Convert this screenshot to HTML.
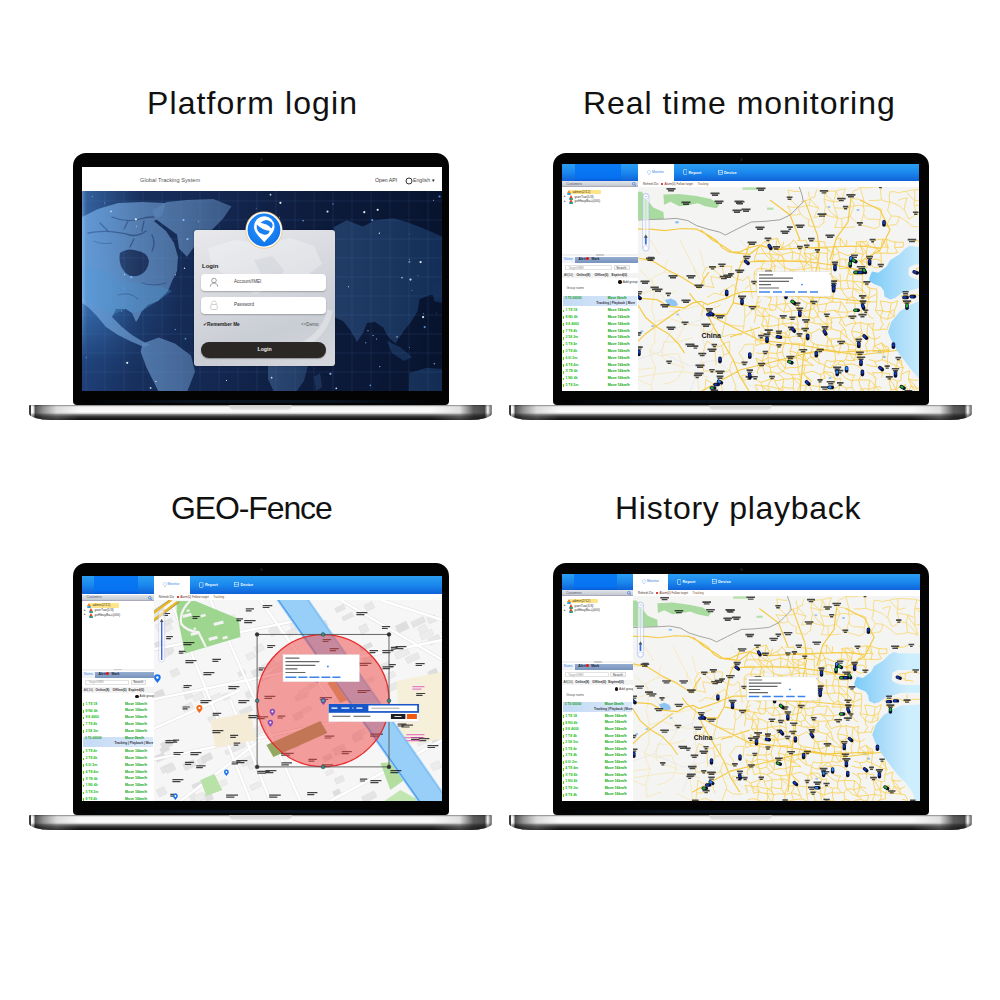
<!DOCTYPE html><html><head><meta charset="utf-8"><style>
*{margin:0;padding:0;box-sizing:border-box}
html,body{width:1000px;height:1000px;background:#fff;overflow:hidden;font-family:"Liberation Sans",sans-serif}
.a{position:absolute}
.title{position:absolute;font-size:32px;color:#111;white-space:nowrap;line-height:1}
.bezel{position:absolute;width:376px;height:252px;background:#030303;border-radius:13px 13px 4px 4px}
.cam{position:absolute;width:3px;height:3px;border-radius:50%;background:#1a1a1a;left:187px;top:5px}
.hinge{position:absolute;left:10px;right:10px;bottom:2px;height:3px;background:linear-gradient(90deg,#000,#0b1522 30%,#0b1522 70%,#000)}
.screen{position:absolute;overflow:hidden;background:#fff}
.base{position:absolute;width:463px;height:14.5px;border-radius:2px 2px 22px 22px/1px 1px 7px 7px;
 background:linear-gradient(180deg,#5a5a5a 0,#cfcfcf 6%,#f3f3f3 14%,#fbfbfb 45%,#e2e2e2 55%,#8a8a8a 62%,#3a3a3a 76%,#161616 92%,#0c0c0c 100%)}
.base:before{content:"";position:absolute;inset:0;border-radius:inherit;
 background:linear-gradient(90deg,rgba(40,40,40,.9) 0,rgba(40,40,40,.9) .4%,rgba(255,255,255,.5) .5%,rgba(255,255,255,.3) .9%,rgba(30,30,30,.75) 1.4%,rgba(70,70,70,.55) 3.2%,rgba(160,160,160,.3) 6%,rgba(255,255,255,0) 11%,rgba(255,255,255,0) 87%,rgba(170,170,170,.3) 93%,rgba(40,40,40,.75) 96%,rgba(30,30,30,.8) 98.4%,rgba(255,255,255,.4) 99.1%,rgba(90,90,90,.7) 99.6%,rgba(90,90,90,.7) 100%)}
.notch{position:absolute;left:200px;top:0;width:63px;height:5px;border-radius:0 0 9px 9px;background:linear-gradient(180deg,#c9c9c9,#e9e9e9)}
.t{position:absolute;white-space:nowrap;line-height:1}
</style></head><body><div class="title" style="left:147px;top:86.5px;letter-spacing:1.1px">Platform login</div><div class="title" style="left:583px;top:87px;letter-spacing:.96px">Real time monitoring</div><div class="title" style="left:171px;top:492px;letter-spacing:-1.12px">GEO-Fence</div><div class="title" style="left:615px;top:491.5px;letter-spacing:.71px">History playback</div><div class="bezel" style="left:73px;top:153px"><div class="cam"></div><div class="hinge"></div></div><div class="screen" style="left:82px;top:167px;width:360px;height:224.3px"><div class="a" style="left:0;top:0;width:360px;height:24px;background:#fff"></div><div class="t" style="left:58px;top:10.5px;font-size:5.6px;color:#555;letter-spacing:.05px">Global Tracking System</div><div class="t" style="left:293px;top:10.5px;font-size:5.2px;color:#333;">Open API</div><svg class="a" style="left:323px;top:10px" width="8" height="8" viewBox="0 0 8 8"><circle cx="4" cy="4" r="3" fill="none" stroke="#333" stroke-width="1"/></svg><div class="t" style="left:331px;top:10.5px;font-size:5.2px;color:#444;">English</div><div class="t" style="left:349.5px;top:10.5px;font-size:5px;color:#111;">&#9662;</div><div class="a" style="left:0;top:24px;width:360px;height:200px;background:radial-gradient(ellipse 80px 90px at 20px 100px,rgba(60,140,220,.3),rgba(60,140,220,0) 100%),linear-gradient(90deg,#1f4078 0,#18305e 14%,#13264e 40%,#0d1b3c 65%,#08142e 100%)"></div><svg class="a" style="left:0;top:24px" width="360" height="200" viewBox="0 0 360 200"><defs><linearGradient id="lg1" gradientUnits="userSpaceOnUse" x1="0" y1="0" x2="360" y2="0"><stop offset="0" stop-color="#6d9fd6"/><stop offset=".3" stop-color="#4f74a4"/><stop offset=".62" stop-color="#26436e"/><stop offset="1" stop-color="#142f58"/></linearGradient></defs><path fill="url(#lg1)" fill-opacity="0.85" d="M0 26 L16 18 L36 12 L60 11 L84 12 L80 24 L72 30 L84 40 L92 52 L96 66 L95 80 L90 90 L86 100 L76 110 L66 114 L60 120 L56 128 L54 131 L50 122 L44 118 L34 118 L30 126 L40 136 L50 144 L60 150 L68 154 L62 156 L48 150 L36 144 L24 136 L14 124 L6 116 L0 112Z"/><path fill="#4a92cc" fill-opacity="0.35" d="M0 76 L20 78 L40 90 L60 92 L80 96 L90 100 L76 110 L60 120 L50 122 L44 118 L30 124 L20 118 L0 108Z"/><path fill="#1a2c55" fill-opacity=".9" d="M38 62 Q46 56 56 60 Q66 62 67 70 Q66 80 58 84 Q48 88 42 80 Q36 72 38 62Z"/><path fill="none" stroke="#22386a" stroke-opacity=".6" stroke-linecap="round" d="M6 42 Q26 38 48 44 Q56 46 64 40 M30 26 Q44 32 58 28 Q70 24 84 28 M18 32 L26 40 M46 30 L42 38 M62 30 L60 40 M52 48 L48 56 M70 44 Q74 52 70 60" stroke-width="1.3"/><path fill="none" stroke="#22386a" stroke-opacity=".45" stroke-linecap="round" d="M12 50 Q20 54 30 52 M60 92 Q70 96 84 92 M36 104 Q48 100 56 108" stroke-width="1"/><path fill="url(#lg1)" fill-opacity="0.85" d="M70.7 19.2 L84.8 11.1 L105 9.1 L131.3 8.1 L149.5 15.2 L141.4 27.3 L129.3 39.4 L115.2 51.5 L105 65.7 L97 57.6 L95 43.4 L80.8 33.3 L72.7 27.3Z"/><path fill="url(#lg1)" fill-opacity="0.8" d="M60.6 152.5 L76.8 146.5 L92.9 152.5 L109 164.6 L113 180.8 L105 201 L76.8 201 L64.6 176.8 L58.6 160.6Z"/><path fill="url(#lg1)" fill-opacity="0.95" d="M252 36 L264.8 29.3 L281 35.4 L293.1 29.3 L311.3 27.3 L325.5 31.3 L341.6 37.4 L360 45.5 L360 104 L347.7 104 L337.6 108 L335.6 120 L329.5 130.3 L321.4 140.4 L313.3 152.5 L305.3 144.5 L301.2 136.4 L293 131 L285 132 L281 142 L275 151 L269 140 L261 130 L252 126Z"/><path fill="url(#lg1)" fill-opacity="0.9" d="M350 96 L358 92 L360 92 L360 112 L352 110Z"/><path fill="url(#lg1)" fill-opacity="0.8" d="M305 150 L318 156 L330 166 L322 170 L310 162Z"/><path fill="url(#lg1)" fill-opacity="0.9" d="M327.5 182 L345 176.8 L360 178 L360 201 L327 201Z"/><path fill="url(#lg1)" fill-opacity="0.8" d="M186 172 L226.5 172 L222 190 L214 201 L192 201 L186 188Z"/><path fill="url(#lg1)" fill-opacity="0.6" d="M232 186 L238 182 L240 196 L234 200Z"/><line x1="4" y1="0" x2="4" y2="200" stroke="#6aa0e0" stroke-opacity=".2" stroke-width=".6"/><line x1="23" y1="0" x2="23" y2="200" stroke="#6aa0e0" stroke-opacity=".2" stroke-width=".6"/><line x1="42" y1="0" x2="42" y2="200" stroke="#6aa0e0" stroke-opacity=".2" stroke-width=".6"/><line x1="61" y1="0" x2="61" y2="200" stroke="#6aa0e0" stroke-opacity=".2" stroke-width=".6"/><line x1="80" y1="0" x2="80" y2="200" stroke="#6aa0e0" stroke-opacity=".2" stroke-width=".6"/><line x1="99" y1="0" x2="99" y2="200" stroke="#6aa0e0" stroke-opacity=".2" stroke-width=".6"/><line x1="118" y1="0" x2="118" y2="200" stroke="#6aa0e0" stroke-opacity=".2" stroke-width=".6"/><line x1="137" y1="0" x2="137" y2="200" stroke="#6aa0e0" stroke-opacity=".2" stroke-width=".6"/><line x1="156" y1="0" x2="156" y2="200" stroke="#6aa0e0" stroke-opacity=".2" stroke-width=".6"/><line x1="175" y1="0" x2="175" y2="200" stroke="#6aa0e0" stroke-opacity=".2" stroke-width=".6"/><line x1="194" y1="0" x2="194" y2="200" stroke="#6aa0e0" stroke-opacity=".2" stroke-width=".6"/><line x1="213" y1="0" x2="213" y2="200" stroke="#6aa0e0" stroke-opacity=".2" stroke-width=".6"/><line x1="232" y1="0" x2="232" y2="200" stroke="#6aa0e0" stroke-opacity=".2" stroke-width=".6"/><line x1="251" y1="0" x2="251" y2="200" stroke="#6aa0e0" stroke-opacity=".2" stroke-width=".6"/><line x1="270" y1="0" x2="270" y2="200" stroke="#6aa0e0" stroke-opacity=".2" stroke-width=".6"/><line x1="289" y1="0" x2="289" y2="200" stroke="#6aa0e0" stroke-opacity=".2" stroke-width=".6"/><line x1="308" y1="0" x2="308" y2="200" stroke="#6aa0e0" stroke-opacity=".2" stroke-width=".6"/><line x1="327" y1="0" x2="327" y2="200" stroke="#6aa0e0" stroke-opacity=".2" stroke-width=".6"/><line x1="346" y1="0" x2="346" y2="200" stroke="#6aa0e0" stroke-opacity=".2" stroke-width=".6"/><line x1="0" y1="10" x2="360" y2="10" stroke="#6aa0e0" stroke-opacity=".2" stroke-width=".6"/><line x1="0" y1="29" x2="360" y2="29" stroke="#6aa0e0" stroke-opacity=".2" stroke-width=".6"/><line x1="0" y1="48" x2="360" y2="48" stroke="#6aa0e0" stroke-opacity=".2" stroke-width=".6"/><line x1="0" y1="67" x2="360" y2="67" stroke="#6aa0e0" stroke-opacity=".2" stroke-width=".6"/><line x1="0" y1="86" x2="360" y2="86" stroke="#6aa0e0" stroke-opacity=".2" stroke-width=".6"/><line x1="0" y1="105" x2="360" y2="105" stroke="#6aa0e0" stroke-opacity=".2" stroke-width=".6"/><line x1="0" y1="124" x2="360" y2="124" stroke="#6aa0e0" stroke-opacity=".2" stroke-width=".6"/><line x1="0" y1="143" x2="360" y2="143" stroke="#6aa0e0" stroke-opacity=".2" stroke-width=".6"/><line x1="0" y1="162" x2="360" y2="162" stroke="#6aa0e0" stroke-opacity=".2" stroke-width=".6"/><line x1="0" y1="181" x2="360" y2="181" stroke="#6aa0e0" stroke-opacity=".2" stroke-width=".6"/><circle cx="116.6" cy="30.2" r="0.45" fill="#ffffff" fill-opacity=".9"/><circle cx="295.7" cy="18.8" r="1.1" fill="#ffffff" fill-opacity=".9"/><circle cx="327.5" cy="42.9" r="0.45" fill="#5a9ae8" fill-opacity=".9"/><circle cx="198.4" cy="11.8" r="1.1" fill="#ffffff" fill-opacity=".9"/><circle cx="341.1" cy="126.1" r="1.1" fill="#ffffff" fill-opacity=".9"/><circle cx="351.5" cy="9.3" r="0.55" fill="#8fc2ff" fill-opacity=".9"/><circle cx="245.5" cy="20.6" r="1.1" fill="#d6ebff" fill-opacity=".9"/><circle cx="22.6" cy="11.9" r="0.55" fill="#5a9ae8" fill-opacity=".9"/><circle cx="286.0" cy="139.8" r="0.55" fill="#ffffff" fill-opacity=".9"/><circle cx="315.0" cy="145.9" r="0.7" fill="#ffffff" fill-opacity=".9"/><circle cx="42.5" cy="83.6" r="0.7" fill="#d6ebff" fill-opacity=".9"/><circle cx="336.0" cy="84.3" r="0.45" fill="#8fc2ff" fill-opacity=".9"/><circle cx="24.8" cy="18.7" r="0.7" fill="#5a9ae8" fill-opacity=".9"/><circle cx="250.9" cy="13.0" r="0.7" fill="#5a9ae8" fill-opacity=".9"/><circle cx="102.5" cy="77.2" r="0.7" fill="#ffffff" fill-opacity=".9"/><circle cx="338.6" cy="71.1" r="1.1" fill="#ffffff" fill-opacity=".9"/><circle cx="103.5" cy="147.7" r="0.9" fill="#5a9ae8" fill-opacity=".9"/><circle cx="330.1" cy="99.3" r="0.55" fill="#5a9ae8" fill-opacity=".9"/><circle cx="49.3" cy="86.1" r="1.1" fill="#8fc2ff" fill-opacity=".9"/><circle cx="254.3" cy="197.3" r="0.9" fill="#d6ebff" fill-opacity=".9"/><circle cx="54.3" cy="35.2" r="0.55" fill="#d6ebff" fill-opacity=".9"/><circle cx="4.3" cy="166.2" r="0.55" fill="#8fc2ff" fill-opacity=".9"/><circle cx="101.5" cy="29.1" r="1.1" fill="#8fc2ff" fill-opacity=".9"/><circle cx="45.2" cy="171.8" r="1.1" fill="#ffffff" fill-opacity=".9"/><circle cx="342.7" cy="136.1" r="1.1" fill="#5a9ae8" fill-opacity=".9"/><circle cx="68.6" cy="196.9" r="0.9" fill="#d6ebff" fill-opacity=".9"/><circle cx="39.6" cy="120.1" r="0.45" fill="#ffffff" fill-opacity=".9"/><circle cx="341.6" cy="122.7" r="0.45" fill="#d6ebff" fill-opacity=".9"/><circle cx="221.1" cy="29.7" r="0.7" fill="#8fc2ff" fill-opacity=".9"/><circle cx="41.5" cy="97.6" r="0.9" fill="#5a9ae8" fill-opacity=".9"/><circle cx="174.2" cy="17.2" r="0.45" fill="#8fc2ff" fill-opacity=".9"/><circle cx="266.5" cy="95.7" r="0.55" fill="#ffffff" fill-opacity=".9"/><circle cx="73.9" cy="190.4" r="0.7" fill="#d6ebff" fill-opacity=".9"/><circle cx="248.4" cy="182.8" r="1.1" fill="#8fc2ff" fill-opacity=".9"/><circle cx="352.3" cy="172.7" r="0.7" fill="#8fc2ff" fill-opacity=".9"/><circle cx="327.0" cy="71.1" r="0.55" fill="#8fc2ff" fill-opacity=".9"/><circle cx="283.8" cy="151.7" r="0.55" fill="#d6ebff" fill-opacity=".9"/><circle cx="294.6" cy="148.0" r="0.55" fill="#d6ebff" fill-opacity=".9"/><circle cx="10.4" cy="5.6" r="0.7" fill="#5a9ae8" fill-opacity=".9"/><circle cx="93.3" cy="138.5" r="0.7" fill="#5a9ae8" fill-opacity=".9"/><circle cx="291.1" cy="144.6" r="0.7" fill="#8fc2ff" fill-opacity=".9"/><circle cx="29.0" cy="20.4" r="0.9" fill="#d6ebff" fill-opacity=".9"/><circle cx="354.7" cy="122.1" r="0.45" fill="#5a9ae8" fill-opacity=".9"/><circle cx="327.3" cy="68.8" r="0.45" fill="#ffffff" fill-opacity=".9"/><circle cx="327.5" cy="156.5" r="0.55" fill="#5a9ae8" fill-opacity=".9"/><circle cx="320.0" cy="86.8" r="0.7" fill="#ffffff" fill-opacity=".9"/><circle cx="288.3" cy="194.3" r="0.9" fill="#5a9ae8" fill-opacity=".9"/><circle cx="144.5" cy="189.4" r="0.55" fill="#d6ebff" fill-opacity=".9"/><circle cx="357.5" cy="5.5" r="1.1" fill="#5a9ae8" fill-opacity=".9"/><circle cx="290.3" cy="29.2" r="1.1" fill="#5a9ae8" fill-opacity=".9"/><circle cx="197.5" cy="26.2" r="0.45" fill="#ffffff" fill-opacity=".9"/><circle cx="189.6" cy="186.7" r="0.9" fill="#d6ebff" fill-opacity=".9"/><circle cx="297.4" cy="42.2" r="0.7" fill="#d6ebff" fill-opacity=".9"/><circle cx="105.5" cy="48.1" r="1.1" fill="#8fc2ff" fill-opacity=".9"/><circle cx="93.4" cy="83.8" r="0.55" fill="#ffffff" fill-opacity=".9"/><circle cx="327.6" cy="70.8" r="0.9" fill="#5a9ae8" fill-opacity=".9"/><circle cx="297.8" cy="175.6" r="0.55" fill="#d6ebff" fill-opacity=".9"/><circle cx="188.5" cy="3.7" r="0.9" fill="#d6ebff" fill-opacity=".9"/><circle cx="53.9" cy="28.3" r="1.1" fill="#ffffff" fill-opacity=".9"/><circle cx="282.3" cy="21.2" r="1.1" fill="#ffffff" fill-opacity=".9"/><circle cx="89.5" cy="55.4" r="0.45" fill="#5a9ae8" fill-opacity=".9"/><circle cx="328.5" cy="88.6" r="1.1" fill="#d6ebff" fill-opacity=".9"/></svg><div class="a" style="left:0;top:24px;width:60px;height:170px;background:linear-gradient(90deg,rgba(150,205,255,.55) 0,rgba(100,170,240,.3) 7%,rgba(60,120,200,0) 100%);-webkit-mask-image:linear-gradient(180deg,#000 0,#000 65%,transparent 100%)"></div><div class="a" style="left:111.7px;top:63px;width:141px;height:136.4px;border-radius:3px;background:linear-gradient(160deg,#e9e9ec 0,#d9dbe0 35%,#c9cdd4 70%,#d6d8dc 100%);box-shadow:0 0 2px rgba(0,0,0,.3)"></div><svg class="a" style="left:111.7px;top:63px" width="141" height="136.4" viewBox="0 0 141 136.4"><path fill="#fff" fill-opacity=".28" d="M14 18 L40 10 L70 14 L96 8 L120 16 L128 34 L110 48 L96 60 L80 56 L62 64 L46 58 L30 44 L18 36Z"/><path fill="#8a96a8" fill-opacity=".12" d="M60 30 L78 26 L90 40 L84 52 L70 50Z"/><path fill="none" stroke="#fff" stroke-opacity=".3" stroke-width="6" d="M96 120 Q130 110 136 80"/></svg><svg class="a" style="left:162px;top:42.5px" width="40" height="40" viewBox="0 0 40 40"><defs><radialGradient id="lgb" cx=".45" cy=".4" r=".6"><stop offset="0" stop-color="#2a96ff"/><stop offset="1" stop-color="#0f74ea"/></radialGradient></defs><circle cx="20" cy="20" r="18.6" fill="#e8c98e"/><circle cx="20" cy="20" r="17.8" fill="#fff"/><circle cx="20" cy="20" r="16.4" fill="url(#lgb)"/><path d="M20.25 32.2 C15.5 27 10 22.5 10 16.6 A10.25 10.25 0 0 1 30.5 16.6 C30.5 22.5 25 27 20.25 32.2Z" fill="#fff"/><path d="M16.6 12.8 Q22.5 7.4 27.9 12.8 Q29.6 15.8 27.4 18.4 Q24 14.2 16.6 12.8Z" fill="#1a80f0"/><path d="M12.8 14.6 Q11.6 23.2 19.5 24.6 Q25.2 25.2 25.6 20.8 Q18.6 20.6 12.8 14.6Z" fill="#1a80f0"/></svg><div class="t" style="left:120px;top:95.5px;font-size:6px;color:#1a1a1a;"><b>Login</b></div><div class="a" style="left:119px;top:107.4px;width:125.2px;height:16.5px;border-radius:4px;background:#fff;box-shadow:0 1px 1.5px rgba(0,0,0,.25)"></div><svg class="a" style="left:127px;top:110.4px" width="10" height="10" viewBox="0 0 10 10"><circle cx="5" cy="3.5" r="2.3" fill="none" stroke="#777" stroke-width=".7"/><path d="M1.2 9.6 C1.8 6.8 3.2 6 5 6 C6.8 6 8.2 6.8 8.8 9.6" fill="none" stroke="#777" stroke-width=".7"/></svg><div class="t" style="left:152px;top:113.4px;font-size:4.6px;color:#444;">Account/IMEI</div><div class="a" style="left:119px;top:130.2px;width:125.2px;height:16.5px;border-radius:4px;background:#fff;box-shadow:0 1px 1.5px rgba(0,0,0,.25)"></div><svg class="a" style="left:127px;top:133.2px" width="10" height="10" viewBox="0 0 10 10"><path d="M2.8 4.5 V3.2 C2.8 1.8 3.8 1 5 1 C6.2 1 7.2 1.8 7.2 3.2 V4.5" fill="none" stroke="#bbb" stroke-width=".7"/><rect x="1.8" y="4.5" width="6.4" height="5" rx="1" fill="none" stroke="#bbb" stroke-width=".7"/></svg><div class="t" style="left:152px;top:136.2px;font-size:4.6px;color:#444;">Password</div><div class="t" style="left:120.5px;top:156px;font-size:4.8px;color:#333;">&#10004;</div><div class="t" style="left:125px;top:156.2px;font-size:4.8px;color:#222;"><b>Remember Me</b></div><div class="t" style="left:219px;top:156.2px;font-size:4.6px;color:#555;">&lt;&lt;Demo</div><div class="a" style="left:119.4px;top:174.9px;width:124.3px;height:16.1px;border-radius:8px;background:#2b2724;box-shadow:0 1px 1px rgba(0,0,0,.3)"></div><div class="t" style="left:175.5px;top:180px;font-size:5.2px;color:#f2f2f2;"><b>Login</b></div></div><div class="base" style="left:29px;top:405px"><div class="notch"></div></div><div class="bezel" style="left:553px;top:153px"><div class="cam"></div><div class="hinge"></div></div><div class="screen" style="left:562.4px;top:164.2px;width:356.5px;height:227.3px"><div class="a" style="left:0;top:0;width:356.5px;height:16.6px;background:linear-gradient(180deg,#2c9ef2 0,#1a88ee 50%,#0f62d8 100%)"></div><div class="a" style="left:12.8px;top:0;width:46.1px;height:16.6px;background:linear-gradient(180deg,#0a7af4,#0672f0 80%,#0a5ad8)"></div><div class="a" style="left:75.5px;top:0;width:36px;height:16.6px;background:#fff"></div><svg class="a" style="left:85.0px;top:5.7px" width="4" height="5.5" viewBox="0 0 4 5.5"><path d="M2 .4 C1 .4 .5 1.2 .5 2 C.5 3.2 2 5.1 2 5.1 C2 5.1 3.5 3.2 3.5 2 C3.5 1.2 3 .4 2 .4Z" fill="none" stroke="#8ab8ee" stroke-width=".5"/></svg><div class="t" style="left:89.5px;top:6.700000000000001px;font-size:3.6px;color:#3a8ae6;">Monitor</div><svg class="a" style="left:120.5px;top:5.3px" width="4.5" height="6" viewBox="0 0 4.5 6"><rect x=".5" y=".5" width="3.5" height="5" rx=".7" fill="none" stroke="#e6f0ff" stroke-width=".6"/></svg><div class="t" style="left:126.0px;top:6.500000000000001px;font-size:4.0px;color:#f4f9ff;"><b>Report</b></div><svg class="a" style="left:155.5px;top:5.7px" width="5" height="5" viewBox="0 0 5 5"><rect x=".4" y=".4" width="4.2" height="4.2" fill="none" stroke="#e6f0ff" stroke-width=".6"/><line x1=".4" y1="2.5" x2="4.6" y2="2.5" stroke="#e6f0ff" stroke-width=".45"/></svg><div class="t" style="left:161.5px;top:6.500000000000001px;font-size:4.0px;color:#f4f9ff;"><b>Device</b></div><div class="a" style="left:0;top:16.6px;width:75.5px;height:211px;background:#fff"></div><div class="a" style="left:0;top:17px;width:75.5px;height:5.8px;background:linear-gradient(180deg,#e2e5ea,#c4c9d1);border-bottom:.5px solid #aab"></div><div class="t" style="left:4px;top:18.5px;font-size:3.2px;color:#556;">Customers</div><svg class="a" style="left:69.5px;top:18px" width="4.5" height="4.5" viewBox="0 0 5 5"><circle cx="2" cy="2" r="1.5" fill="none" stroke="#3a7be0" stroke-width=".8"/><line x1="3" y1="3" x2="4.6" y2="4.6" stroke="#3a7be0" stroke-width=".8"/></svg><div class="a" style="left:8px;top:25.5px;width:30.2px;height:4.6px;background:#ffe58a;border-radius:1px"></div><svg class="a" style="left:5px;top:25.5px" width="4" height="5" viewBox="0 0 4 5"><path d="M2 0 L4 3 L0 3Z" fill="#f08a1a"/><rect x=".3" y="3" width="3.4" height="2" fill="#35a0e8"/></svg><div class="t" style="left:10px;top:26.5px;font-size:3.4px;color:#4a3a10;">admin(2/12)</div><div class="t" style="left:2px;top:30.8px;font-size:3.4px;color:#333;">&#9656;</div><svg class="a" style="left:7px;top:30.5px" width="4" height="5" viewBox="0 0 4 5"><path d="M2 0 L3.6 3 L.4 3Z" fill="#e8401a"/><rect x=".3" y="3" width="3.4" height="2" fill="#2a7ee8"/><rect x="2" y="3" width="1.7" height="2" fill="#35b82a"/></svg><div class="t" style="left:12px;top:31.5px;font-size:3.4px;color:#333;">yuerTuo(1/3)</div><div class="t" style="left:2px;top:35.4px;font-size:3.4px;color:#333;">&#9656;</div><svg class="a" style="left:7px;top:35.1px" width="4" height="5" viewBox="0 0 4 5"><path d="M2 0 L3.6 3 L.4 3Z" fill="#e8401a"/><rect x=".3" y="3" width="3.4" height="2" fill="#2a7ee8"/><rect x="2" y="3" width="1.7" height="2" fill="#35b82a"/></svg><div class="t" style="left:12px;top:36.1px;font-size:3.4px;color:#333;">yuHbuyBa&#33457;(0/0)</div><div class="a" style="left:0;top:89.8px;width:75.5px;height:2.5px;background:#f2f2f2"></div><div class="a" style="left:33.8px;top:90.3px;width:8px;height:1.2px;background:#ccc"></div><div class="a" style="left:0;top:92.8px;width:75.5px;height:6px;background:#eef2f8"></div><div class="t" style="left:1.5px;top:94.2px;font-size:3.4px;color:#3a8ee8;">Name</div><div class="a" style="left:13px;top:92.8px;width:62.5px;height:6px;background:linear-gradient(180deg,#96aed0,#7793bd)"></div><div class="t" style="left:16px;top:94.1px;font-size:3.4px;color:#1a1f30;"><b>Alert</b></div><div class="a" style="left:24px;top:93.1px;width:3px;height:3px;border-radius:50%;background:#e81010"></div><div class="t" style="left:29px;top:94.1px;font-size:3.4px;color:#1a1f30;"><b>Mark</b></div><div class="a" style="left:3px;top:101.3px;width:46.8px;height:5px;border:.4px solid #e2e2e2;background:#fff"></div><div class="t" style="left:6px;top:102.39999999999999px;font-size:3px;color:#999;">Target/IMEI</div><div class="a" style="left:51.3px;top:101.3px;width:16.6px;height:5px;border:.4px solid #ddd;background:#fafafa"></div><div class="t" style="left:53.849999999999994px;top:102.39999999999999px;font-size:3.2px;color:#333;">Search</div><div class="a" style="left:0;top:108.5px;width:75.5px;height:5.5px;background:#f3f3f3"></div><div class="t" style="left:1.5px;top:109.7px;font-size:3.2px;color:#333;">All(10)</div><div class="t" style="left:14.0px;top:109.7px;font-size:3.2px;color:#333;"><b>Online(8)</b></div><div class="t" style="left:32.0px;top:109.7px;font-size:3.2px;color:#333;"><b>Offline(0)</b></div><div class="t" style="left:49.0px;top:109.7px;font-size:3.2px;color:#333;"><b>Expired(0)</b></div><div class="a" style="left:55.9px;top:116.0px;width:3.5px;height:3.5px;border-radius:50%;background:#111"></div><div class="t" style="left:60.37px;top:116.4px;font-size:3.2px;color:#333;">Add group</div><div class="t" style="left:4px;top:122.5px;font-size:3.2px;color:#555;">Group name</div><div class="a" style="left:1px;top:131.8px;width:73.5px;height:10.5px;background:linear-gradient(90deg,#c3daf5,#dbe9f9)"></div><div class="t" style="left:2.5px;top:133.10000000000002px;font-size:3.3px;color:#2aa52a;"><b>3 T0 00000</b></div><div class="t" style="left:45.3px;top:132.9px;font-size:3.3px;color:#0a9a0a;"><b>Move 0km/h</b></div><div class="t" style="left:33.975px;top:137.9px;font-size:3.1px;color:#334;"><b>Tracking | Playback | More</b></div><div class="a" style="left:.6px;top:145.5px;width:1.3px;height:2.8px;background:#55dd00"></div><div class="t" style="left:3px;top:145.10000000000002px;font-size:3.5px;color:#18c018;"><b>1 T8 18</b></div><div class="t" style="left:45.3px;top:145.0px;font-size:3.5px;color:#04a604;"><b>Move 16km/h</b></div><div class="a" style="left:.6px;top:152.3px;width:1.3px;height:2.8px;background:#55dd00"></div><div class="t" style="left:3px;top:151.90000000000003px;font-size:3.5px;color:#18c018;"><b>8 N0 4k</b></div><div class="t" style="left:45.3px;top:151.8px;font-size:3.5px;color:#04a604;"><b>Move 16km/h</b></div><div class="a" style="left:.6px;top:159.1px;width:1.3px;height:2.8px;background:#55dd00"></div><div class="t" style="left:3px;top:158.70000000000005px;font-size:3.5px;color:#18c018;"><b>9 8 4600</b></div><div class="t" style="left:45.3px;top:158.60000000000002px;font-size:3.5px;color:#04a604;"><b>Move 16km/h</b></div><div class="a" style="left:.6px;top:165.9px;width:1.3px;height:2.8px;background:#55dd00"></div><div class="t" style="left:3px;top:165.50000000000006px;font-size:3.5px;color:#18c018;"><b>7 T8 4k</b></div><div class="t" style="left:45.3px;top:165.40000000000003px;font-size:3.5px;color:#04a604;"><b>Move 16km/h</b></div><div class="a" style="left:.6px;top:172.7px;width:1.3px;height:2.8px;background:#55dd00"></div><div class="t" style="left:3px;top:172.30000000000007px;font-size:3.5px;color:#18c018;"><b>2 58 2m</b></div><div class="t" style="left:45.3px;top:172.20000000000005px;font-size:3.5px;color:#04a604;"><b>Move 16km/h</b></div><div class="a" style="left:.6px;top:179.5px;width:1.3px;height:2.8px;background:#55dd00"></div><div class="t" style="left:3px;top:179.10000000000008px;font-size:3.5px;color:#18c018;"><b>5 T8 4e</b></div><div class="t" style="left:45.3px;top:179.00000000000006px;font-size:3.5px;color:#04a604;"><b>Move 16km/h</b></div><div class="a" style="left:.6px;top:186.3px;width:1.3px;height:2.8px;background:#55dd00"></div><div class="t" style="left:3px;top:185.9000000000001px;font-size:3.5px;color:#18c018;"><b>3 T8 4k</b></div><div class="t" style="left:45.3px;top:185.80000000000007px;font-size:3.5px;color:#04a604;"><b>Move 16km/h</b></div><div class="a" style="left:.6px;top:193.1px;width:1.3px;height:2.8px;background:#55dd00"></div><div class="t" style="left:3px;top:192.7000000000001px;font-size:3.5px;color:#18c018;"><b>6 0l 2m</b></div><div class="t" style="left:45.3px;top:192.60000000000008px;font-size:3.5px;color:#04a604;"><b>Move 16km/h</b></div><div class="a" style="left:.6px;top:199.9px;width:1.3px;height:2.8px;background:#55dd00"></div><div class="t" style="left:3px;top:199.5000000000001px;font-size:3.5px;color:#18c018;"><b>4 T8 4m</b></div><div class="t" style="left:45.3px;top:199.4000000000001px;font-size:3.5px;color:#04a604;"><b>Move 16km/h</b></div><div class="a" style="left:.6px;top:206.7px;width:1.3px;height:2.8px;background:#55dd00"></div><div class="t" style="left:3px;top:206.30000000000013px;font-size:3.5px;color:#18c018;"><b>X T8 4k</b></div><div class="t" style="left:45.3px;top:206.2000000000001px;font-size:3.5px;color:#04a604;"><b>Move 16km/h</b></div><div class="a" style="left:.6px;top:213.5px;width:1.3px;height:2.8px;background:#55dd00"></div><div class="t" style="left:3px;top:213.10000000000014px;font-size:3.5px;color:#18c018;"><b>1 N0 4k</b></div><div class="t" style="left:45.3px;top:213.0000000000001px;font-size:3.5px;color:#04a604;"><b>Move 16km/h</b></div><div class="a" style="left:.6px;top:220.3px;width:1.3px;height:2.8px;background:#55dd00"></div><div class="t" style="left:3px;top:219.90000000000015px;font-size:3.5px;color:#18c018;"><b>5 T8 2m</b></div><div class="t" style="left:45.3px;top:219.80000000000013px;font-size:3.5px;color:#04a604;"><b>Move 16km/h</b></div><div class="a" style="left:75.5px;top:16.6px;width:.6px;height:211px;background:#d8d8d8"></div><div class="a" style="left:75.6px;top:16.6px;width:281px;height:6.3px;background:#fff"></div><div class="t" style="left:80.6px;top:18.6px;font-size:2.9px;color:#3a2a1a;">Refresh</div><div class="t" style="left:91.1px;top:18.6px;font-size:2.9px;color:#3a2a1a;">15s</div><div class="t" style="left:102.1px;top:18.6px;font-size:2.9px;color:#6a2a1a;">Alarm(0)</div><div class="t" style="left:114.1px;top:18.6px;font-size:2.9px;color:#5a3a1a;">Follow target</div><div class="t" style="left:135.1px;top:18.6px;font-size:2.9px;color:#7a4a10;">Tracking</div><div class="a" style="left:98.89999999999999px;top:19.1px;width:1.6px;height:1.6px;border-radius:50%;background:#e01818"></div><svg class="a" style="left:75.6px;top:22.8px" width="281" height="204.5" viewBox="638 187 281 204.5"><rect x="600" y="150" width="400" height="300" fill="#f4f4f2"/><path fill="#a9dba0" d="M637.4 191.8 L641.8 191.8 L647.5 200.4 L653.3 207.6 L663.4 211.9 L664 219.1 L637.4 219.1Z"/><path fill="#a9dba0" d="M663.4 194.6 L679.2 193.9 L696.5 196.1 L710.9 199 L719.5 204.7 L716.6 208.3 L705.1 206.2 L697.9 203.3 L686.4 205.4 L679.2 206.2 L670.6 201.8 L664.1 204.7Z"/><path fill="#b5e0aa" d="M742.6 187.4 L757 187.4 L757 189.8 L742.6 189.8Z"/><rect x="767" y="207.6" width="6.5" height="2.2" fill="#b5e0aa"/><path d="M636 360 L660 352 L690 366 L715 360 L735 375 L760 392 M660 352 L672 330 L700 320 L720 300 M740 240 L760 262 L790 270 L820 262 M700 320 L705 350 L690 392" fill="none" stroke="#d6d6d6" stroke-width=".6" stroke-dasharray="1.5 1"/><path fill="#8ec3f2" d="M665 300 L671 298.5 L676 301 L678 305 L673 307 L668 305.5Z"/><ellipse cx="677.8" cy="314.6" rx="1.6" ry="1" fill="#8ec3f2"/><ellipse cx="641.8" cy="331.2" rx="1.6" ry="1" fill="#8ec3f2"/><ellipse cx="652.6" cy="326.2" rx="1.4400000000000002" ry="0.9" fill="#8ec3f2"/><ellipse cx="677" cy="222.3" rx="1.92" ry="1.2" fill="#8ec3f2"/><ellipse cx="829" cy="207" rx="1.4400000000000002" ry="0.9" fill="#8ec3f2"/><ellipse cx="858" cy="210" rx="1.6" ry="1" fill="#8ec3f2"/><ellipse cx="880" cy="352" rx="2.4000000000000004" ry="1.5" fill="#8ec3f2"/><ellipse cx="884" cy="357" rx="1.92" ry="1.2" fill="#8ec3f2"/><ellipse cx="830" cy="378" rx="1.6" ry="1" fill="#8ec3f2"/><path fill="none" stroke="#f9d35a" stroke-width="0.9" d="M758.1 246.8Q758.3 246.5 760.6 245.6M758.1 246.8Q757.2 251.2 756.0 254.4M756.0 254.4Q760.1 252.8 765.0 253.9M756.0 254.4Q753.9 257.7 754.5 261.1M754.5 261.1Q759.4 260.0 765.4 260.5M756.6 269.4Q759.0 268.3 760.9 268.6M756.6 269.4Q754.4 271.6 754.0 274.0M754.0 274.0Q758.8 274.2 764.4 273.9M754.0 274.0Q754.8 279.2 754.0 283.5M754.0 283.5Q757.2 281.7 761.0 281.2M754.0 283.5Q756.6 284.8 756.9 286.8M754.0 283.5Q758.2 285.8 765.3 290.3M756.9 286.8Q760.5 288.1 765.3 290.3M756.9 286.8Q756.6 291.6 758.4 298.3M758.4 298.3Q758.9 295.0 761.1 294.8M758.4 298.3Q757.2 300.1 756.8 303.6M756.8 303.6Q759.0 302.6 761.0 300.8M756.8 303.6Q756.5 307.0 754.3 307.6M754.3 307.6Q760.5 307.5 764.5 308.4M754.3 307.6Q755.8 311.8 756.1 314.8M754.3 307.6Q759.8 311.2 763.3 316.7M756.1 314.8Q759.7 316.0 763.3 316.7M756.1 314.8Q754.7 319.5 754.5 322.7M753.7 330.8Q753.6 333.9 755.7 339.7M755.7 339.7Q754.7 342.5 756.1 345.7M755.7 339.7Q758.6 340.8 761.6 343.9M756.1 345.7Q760.0 343.4 761.6 343.9M756.0 352.8Q760.3 353.8 765.3 353.5M755.8 357.9Q758.4 360.2 762.0 360.9M755.8 357.9Q758.1 363.4 758.4 368.4M758.4 368.4Q760.4 367.9 761.6 365.5M758.4 368.4Q756.9 370.9 757.7 374.0M755.1 378.7Q759.4 381.9 761.0 382.4M755.0 384.9Q758.7 385.0 761.6 385.8M755.0 384.9Q757.6 387.8 757.3 393.5M757.7 400.4Q761.3 398.5 762.0 398.9M765.2 241.7Q765.2 241.2 768.0 240.4M765.2 241.7Q762.5 243.1 760.6 245.6M765.2 241.7Q768.0 244.0 768.7 247.5M760.6 245.6Q765.0 247.3 768.7 247.5M760.6 245.6Q762.4 250.3 765.0 253.9M765.0 253.9Q766.1 252.8 769.4 253.8M765.0 253.9Q767.9 257.4 772.2 260.9M765.4 260.5Q761.7 264.8 760.9 268.6M760.9 268.6Q765.0 268.4 770.4 269.8M760.9 268.6Q762.2 270.5 764.4 273.9M764.4 273.9Q762.1 276.3 761.0 281.2M761.0 281.2Q768.0 281.5 772.0 283.6M761.0 281.2Q763.1 285.5 765.3 290.3M761.0 281.2Q764.6 283.0 768.8 287.5M765.3 290.3Q767.5 289.2 768.8 287.5M765.3 290.3Q769.3 295.7 771.2 298.2M761.1 294.8Q767.2 297.1 771.2 298.2M764.5 308.4Q768.9 308.9 771.9 310.5M764.5 308.4Q762.4 311.7 763.3 316.7M764.5 308.4Q765.6 311.8 769.6 315.1M763.3 316.7Q767.3 316.6 769.6 315.1M763.3 316.7Q763.3 321.9 761.5 325.1M763.3 316.7Q767.0 320.3 767.7 326.3M761.5 325.1Q764.3 326.3 767.7 326.3M761.5 325.1Q763.7 328.8 768.7 332.0M761.2 331.7Q760.8 335.1 761.1 337.6M761.2 331.7Q764.6 336.1 768.8 339.6M761.1 337.6Q764.3 339.8 768.8 339.6M761.1 337.6Q760.1 340.2 761.6 343.9M761.1 337.6Q764.9 341.5 770.5 344.0M761.6 343.9Q766.6 343.0 770.5 344.0M765.3 353.5Q766.7 351.8 768.4 353.1M765.3 353.5Q763.4 356.7 762.0 360.9M762.0 360.9Q764.1 360.4 767.9 357.7M762.0 360.9Q762.6 362.0 761.6 365.5M762.0 360.9Q766.0 365.7 770.3 367.7M761.6 365.5Q763.8 368.6 764.7 373.7M764.7 373.7Q769.0 372.3 770.6 371.9M761.0 382.4Q765.5 380.9 772.0 378.5M761.0 382.4Q761.7 383.2 761.6 385.8M761.6 385.8Q765.7 386.2 767.6 385.9M761.6 385.8Q763.2 388.3 764.3 393.2M761.6 385.8Q766.2 388.7 769.7 391.8M764.3 393.2Q766.8 392.2 769.7 391.8M762.0 398.9Q765.3 398.2 768.4 400.4M768.0 240.4Q772.5 239.6 777.4 238.2M768.0 240.4Q769.7 242.9 768.7 247.5M768.7 247.5Q773.2 247.6 776.3 248.9M768.7 247.5Q770.5 250.3 769.4 253.8M768.7 247.5Q772.9 252.6 779.4 254.8M769.4 253.8Q773.6 255.3 779.4 254.8M769.4 253.8Q772.1 258.3 772.2 260.9M769.4 253.8Q773.7 259.1 777.9 261.4M772.2 260.9Q771.9 264.6 770.4 269.8M772.2 260.9Q773.6 263.4 775.2 265.7M770.4 269.8Q771.9 267.1 775.2 265.7M770.4 269.8Q768.1 271.7 768.4 273.3M770.4 269.8Q772.5 272.6 774.6 277.0M768.4 273.3Q772.6 276.0 774.6 277.0M768.4 273.3Q771.4 279.3 772.0 283.6M772.0 283.6Q773.8 282.5 778.0 284.3M772.0 283.6Q771.5 286.5 768.8 287.5M768.8 287.5Q771.0 293.2 771.2 298.2M768.8 287.5Q771.6 293.8 776.9 297.1M771.2 298.2Q771.0 302.4 768.5 305.2M768.5 305.2Q772.1 303.9 776.1 305.4M768.5 305.2Q769.6 308.2 771.9 310.5M771.9 310.5Q774.0 309.4 774.9 310.2M769.6 315.1Q772.8 315.9 778.2 319.0M769.6 315.1Q769.0 320.2 767.7 326.3M767.7 326.3Q773.5 326.3 778.2 325.0M767.7 326.3Q767.7 328.9 768.7 332.0M768.7 332.0Q773.4 333.5 778.4 333.0M768.7 332.0Q768.6 335.8 768.8 339.6M768.7 332.0Q772.0 336.1 776.3 338.9M768.8 339.6Q769.0 342.9 770.5 344.0M770.5 344.0Q775.2 345.3 779.0 346.8M770.5 344.0Q769.1 349.3 768.4 353.1M768.4 353.1Q771.2 353.0 776.6 353.4M768.4 353.1Q768.0 356.7 767.9 357.7M767.9 357.7Q773.9 357.7 778.8 359.4M767.9 357.7Q768.0 363.9 770.3 367.7M770.3 367.7Q773.5 367.5 777.6 365.4M770.3 367.7Q770.7 370.0 770.6 371.9M770.6 371.9Q772.7 372.3 777.4 373.5M770.6 371.9Q772.0 375.7 772.0 378.5M772.0 378.5Q774.8 378.2 774.9 380.7M772.0 378.5Q769.7 381.8 767.6 385.9M767.6 385.9Q774.0 387.7 779.4 388.9M767.6 385.9Q770.1 390.3 769.7 391.8M769.7 391.8Q774.4 393.3 778.1 393.5M769.7 391.8Q767.8 396.0 768.4 400.4M768.4 400.4Q772.4 402.3 778.2 401.4M777.4 238.2Q775.8 243.2 776.3 248.9M777.4 238.2Q778.4 242.2 782.0 248.2M776.3 248.9Q779.5 249.3 782.0 248.2M776.3 248.9Q779.7 252.5 781.7 254.5M779.4 254.8Q777.2 259.2 777.9 261.4M779.4 254.8Q782.8 255.8 783.9 259.7M777.9 261.4Q781.0 260.6 783.9 259.7M777.9 261.4Q780.9 264.7 785.0 268.0M775.2 265.7Q773.8 270.1 774.6 277.0M774.6 277.0Q780.4 276.3 784.6 277.1M774.6 277.0Q775.0 279.8 778.0 284.3M778.0 284.3Q780.3 283.0 782.8 279.6M778.0 284.3Q779.5 288.5 783.0 289.9M774.7 289.7Q778.6 290.1 783.0 289.9M774.7 289.7Q777.2 293.1 776.9 297.1M776.9 297.1Q777.2 301.9 776.1 305.4M776.1 305.4Q779.6 303.4 786.0 303.8M776.1 305.4Q776.9 308.3 774.9 310.2M776.1 305.4Q778.6 308.4 783.7 311.9M778.2 319.0Q780.1 318.4 783.2 317.8M778.2 319.0Q779.3 323.3 778.2 325.0M778.2 325.0Q781.6 324.0 782.5 323.7M778.2 325.0Q779.0 328.3 778.4 333.0M778.4 333.0Q781.9 332.6 785.5 333.0M778.4 333.0Q777.2 334.6 776.3 338.9M778.4 333.0Q780.8 335.3 785.9 337.4M776.3 338.9Q780.8 337.3 785.9 337.4M779.0 346.8Q781.6 344.7 784.4 344.1M779.0 346.8Q777.7 348.6 776.6 353.4M776.6 353.4Q777.9 353.0 782.2 352.0M776.6 353.4Q777.3 356.7 778.8 359.4M778.8 359.4Q782.5 360.3 785.7 360.7M778.8 359.4Q778.2 362.4 777.6 365.4M778.8 359.4Q780.6 362.6 785.0 368.2M777.6 365.4Q780.0 369.5 782.9 371.4M777.4 373.5Q779.5 373.0 782.9 371.4M777.4 373.5Q781.6 375.7 783.8 378.9M774.9 380.7Q780.3 380.7 783.8 378.9M774.9 380.7Q775.9 385.6 779.4 388.9M779.4 388.9Q781.2 389.0 782.6 386.6M779.4 388.9Q777.3 392.5 778.1 393.5M779.4 388.9Q782.3 389.9 784.6 394.0M778.1 393.5Q781.1 394.3 784.6 394.0M778.1 393.5Q779.4 396.1 778.2 401.4M778.1 393.5Q780.4 398.8 783.1 402.7M778.2 401.4Q780.5 401.8 783.1 402.7M783.7 241.7Q783.5 243.7 782.0 248.2M782.0 248.2Q785.9 246.6 788.9 244.7M781.7 254.5Q788.6 253.3 792.8 251.8M781.7 254.5Q781.9 256.8 783.9 259.7M783.9 259.7Q786.8 261.6 792.0 261.3M783.9 259.7Q783.0 263.6 785.0 268.0M785.0 268.0Q788.8 268.7 790.1 269.4M785.0 268.0Q784.4 273.4 784.6 277.1M784.6 277.1Q785.6 275.4 788.6 273.2M782.8 279.6Q783.2 284.8 783.0 289.9M783.0 289.9Q788.8 288.4 792.6 287.7M783.0 289.9Q782.7 293.6 782.5 294.4M782.5 294.4Q785.1 293.4 789.2 293.8M782.5 294.4Q784.5 298.4 786.0 303.8M786.0 303.8Q788.4 303.9 791.6 302.7M786.0 303.8Q785.2 308.0 783.7 311.9M786.0 303.8Q790.0 307.1 791.6 310.8M783.7 311.9Q786.9 312.1 791.6 310.8M783.2 317.8Q786.4 319.1 792.5 319.2M783.2 317.8Q783.0 320.2 782.5 323.7M782.5 323.7Q788.0 324.0 791.9 322.5M782.5 323.7Q785.9 325.6 790.9 329.4M785.5 333.0Q788.5 330.1 790.9 329.4M785.5 333.0Q785.9 336.4 785.9 337.4M785.5 333.0Q787.6 335.0 788.6 337.9M785.9 337.4Q787.9 337.0 788.6 337.9M785.9 337.4Q785.8 340.1 784.4 344.1M784.4 344.1Q782.6 347.4 782.2 352.0M782.2 352.0Q783.3 355.7 785.7 360.7M785.7 360.7Q789.9 358.9 792.0 359.1M785.7 360.7Q786.4 364.8 785.0 368.2M785.0 368.2Q788.4 368.2 791.6 367.3M785.0 368.2Q784.8 369.1 782.9 371.4M782.9 371.4Q786.3 373.8 790.5 374.4M783.8 378.9Q789.1 379.8 793.0 378.0M783.8 378.9Q783.4 382.3 782.6 386.6M782.6 386.6Q786.7 388.7 793.1 388.1M782.6 386.6Q782.3 391.5 784.6 394.0M784.6 394.0Q785.8 395.3 789.2 393.8M784.6 394.0Q785.0 397.0 783.1 402.7M793.4 239.8Q792.6 242.8 788.9 244.7M793.4 239.8Q797.5 244.2 799.9 248.5M788.9 244.7Q789.9 248.3 792.8 251.8M792.8 251.8Q795.6 253.4 800.2 253.8M792.8 251.8Q792.4 255.3 792.0 261.3M792.0 261.3Q796.8 260.6 798.7 259.6M790.1 269.4Q795.2 270.8 799.1 269.6M790.1 269.4Q790.7 272.6 788.6 273.2M790.1 269.4Q795.7 271.3 798.7 276.1M788.6 273.2Q793.9 275.2 798.7 276.1M788.6 273.2Q790.1 277.7 790.8 279.7M790.8 279.7Q795.1 280.4 796.6 284.0M790.8 279.7Q796.9 284.1 800.4 291.3M792.6 287.7Q791.5 290.8 789.2 293.8M789.2 293.8Q794.6 294.1 798.2 297.4M789.2 293.8Q794.6 300.4 797.1 305.0M791.6 302.7Q793.9 303.4 797.1 305.0M791.6 302.7Q795.0 306.3 799.7 309.3M791.6 310.8Q795.2 310.5 799.7 309.3M791.6 310.8Q791.3 316.1 792.5 319.2M791.9 322.5Q794.6 323.1 798.2 325.3M791.9 322.5Q790.7 326.0 790.9 329.4M790.9 329.4Q793.5 328.3 797.9 328.7M790.9 329.4Q789.2 334.3 788.6 337.9M788.6 337.9Q794.2 335.6 799.5 335.9M788.6 337.9Q789.6 339.8 792.0 343.4M792.0 343.4Q795.4 343.0 799.5 343.4M792.0 343.4Q792.4 347.0 789.9 351.2M789.9 351.2Q794.4 351.8 797.2 353.4M789.9 351.2Q790.6 354.5 792.0 359.1M792.0 359.1Q794.0 359.1 796.2 357.3M791.6 367.3Q793.5 368.4 798.1 367.1M790.5 374.4Q796.5 375.5 799.7 373.9M790.5 374.4Q793.0 375.1 793.0 378.0M793.0 378.0Q795.7 377.9 800.2 380.0M793.0 378.0Q794.2 383.7 793.1 388.1M793.0 378.0Q796.5 381.1 800.2 385.0M793.1 388.1Q793.6 390.2 796.6 394.1M789.2 393.8Q791.6 393.4 796.6 394.1M791.6 403.0Q794.4 402.8 797.0 402.1M797.4 240.3Q801.6 241.6 805.7 240.1M799.9 248.5Q800.8 252.4 800.2 253.8M800.2 253.8Q799.7 256.1 798.7 259.6M800.2 253.8Q804.9 258.3 806.7 263.0M798.7 259.6Q803.8 261.2 806.7 263.0M798.7 259.6Q802.6 263.2 803.6 269.7M799.1 269.6Q801.0 268.3 803.6 269.7M798.7 276.1Q802.1 274.2 807.3 275.1M798.7 276.1Q802.0 278.8 805.4 280.5M796.6 284.0Q800.0 280.8 805.4 280.5M796.6 284.0Q797.1 286.9 800.4 291.3M800.4 291.3Q802.7 290.5 805.2 289.0M800.4 291.3Q798.8 295.5 798.2 297.4M798.2 297.4Q802.0 295.4 805.5 293.7M798.2 297.4Q798.9 300.4 797.1 305.0M798.2 297.4Q803.8 301.4 807.3 303.1M797.1 305.0Q799.9 306.5 799.7 309.3M799.7 309.3Q801.3 310.6 804.5 311.5M799.7 309.3Q801.9 311.9 805.3 317.0M796.0 316.7Q800.2 317.0 805.3 317.0M796.0 316.7Q798.4 321.1 798.2 325.3M798.2 325.3Q797.4 327.2 797.9 328.7M797.9 328.7Q800.3 329.6 805.2 330.6M797.9 328.7Q799.2 333.7 799.5 335.9M799.5 335.9Q802.1 338.9 807.2 340.1M799.5 335.9Q802.6 339.6 803.9 344.9M799.5 343.4Q801.7 343.9 803.9 344.9M799.5 343.4Q799.7 348.4 797.2 353.4M797.2 353.4Q801.2 352.6 803.2 351.7M797.2 353.4Q795.8 354.5 796.2 357.3M797.2 353.4Q802.8 358.6 806.5 361.0M796.2 357.3Q801.9 360.0 806.5 361.0M796.2 357.3Q798.1 363.1 798.1 367.1M798.1 367.1Q800.9 365.3 804.9 365.1M798.1 367.1Q797.4 370.5 799.7 373.9M799.7 373.9Q801.9 375.0 803.5 373.6M799.7 373.9Q800.4 375.6 800.2 380.0M800.2 380.0Q801.3 381.9 800.2 385.0M800.2 385.0Q804.1 386.3 806.4 384.7M800.2 385.0Q797.3 390.2 796.6 394.1M796.6 394.1Q800.9 394.3 803.5 392.7M796.6 394.1Q797.0 399.5 797.0 402.1M797.0 402.1Q801.1 400.7 805.9 400.1M805.7 240.1Q807.1 244.6 810.1 248.1M806.7 247.3Q809.0 247.8 810.1 248.1M806.7 247.3Q804.7 249.4 804.1 253.4M804.1 253.4Q808.4 253.2 810.2 254.1M804.1 253.4Q806.6 257.6 806.7 263.0M804.1 253.4Q807.8 257.9 810.8 259.5M806.7 263.0Q808.2 260.6 810.8 259.5M806.7 263.0Q805.1 264.9 803.6 269.7M806.7 263.0Q809.5 265.2 812.1 267.7M803.6 269.7Q807.1 267.8 812.1 267.7M803.6 269.7Q804.7 271.9 807.3 275.1M807.3 275.1Q806.4 279.2 805.4 280.5M805.4 280.5Q808.5 279.6 812.1 280.3M805.4 280.5Q806.6 283.6 805.2 289.0M805.2 289.0Q808.7 289.5 810.6 289.6M805.2 289.0Q806.7 292.6 805.5 293.7M805.5 293.7Q810.6 295.0 812.7 296.1M805.5 293.7Q808.3 297.6 813.7 303.5M807.3 303.1Q809.8 304.0 813.7 303.5M807.3 303.1Q805.4 308.1 804.5 311.5M804.5 311.5Q809.0 309.9 813.7 308.7M805.3 317.0Q810.4 316.4 813.2 318.5M805.9 321.9Q809.8 321.4 814.0 323.1M805.9 321.9Q805.8 327.0 805.2 330.6M805.2 330.6Q808.7 332.2 811.1 333.1M803.2 351.7Q805.8 353.8 810.7 353.1M803.2 351.7Q804.8 356.6 806.5 361.0M806.5 361.0Q807.5 358.4 810.8 357.0M806.5 361.0Q810.1 363.0 813.6 365.6M804.9 365.1Q810.4 364.6 813.6 365.6M804.9 365.1Q804.8 369.2 803.5 373.6M803.5 373.6Q808.3 371.8 813.4 371.2M803.5 373.6Q805.0 375.3 807.1 378.2M803.5 373.6Q807.4 377.2 811.5 380.9M807.1 378.2Q809.2 379.2 811.5 380.9M807.1 378.2Q808.2 382.3 806.4 384.7M806.4 384.7Q808.7 384.5 809.6 385.5M806.4 384.7Q806.3 389.1 803.5 392.7M803.5 392.7Q808.7 393.5 812.9 396.0M803.5 392.7Q804.8 397.8 805.9 400.1M805.9 400.1Q808.7 399.4 814.3 399.1M811.3 240.6Q814.4 241.3 819.0 241.3M810.1 248.1Q813.6 249.3 819.0 247.9M810.2 254.1Q814.8 252.6 817.5 251.9M810.2 254.1Q811.1 257.6 810.8 259.5M810.2 254.1Q813.8 255.6 817.1 258.7M810.8 259.5Q814.1 259.3 817.1 258.7M810.8 259.5Q810.4 264.4 812.1 267.7M812.1 267.7Q817.1 267.2 819.3 268.1M812.1 267.7Q811.9 271.1 811.4 274.6M811.4 274.6Q816.5 274.4 819.3 273.3M811.4 274.6Q812.7 277.2 812.1 280.3M812.1 280.3Q814.7 280.5 817.5 280.5M812.1 280.3Q811.6 286.3 810.6 289.6M810.6 289.6Q814.3 289.9 820.7 291.4M810.6 289.6Q812.2 293.9 812.7 296.1M812.7 296.1Q813.3 298.4 813.7 303.5M813.7 303.5Q814.2 303.8 816.9 305.2M813.7 303.5Q815.0 305.4 813.7 308.7M813.7 308.7Q816.7 312.1 818.2 316.8M813.2 318.5Q816.3 316.3 818.2 316.8M813.2 318.5Q814.7 319.9 814.0 323.1M814.0 323.1Q816.0 324.5 819.1 323.7M811.1 333.1Q815.1 331.8 819.5 328.6M811.1 333.1Q811.2 338.2 810.6 340.4M810.6 340.4Q811.2 343.2 813.9 343.2M813.9 343.2Q815.5 345.0 817.4 344.8M813.9 343.2Q812.8 347.2 810.7 353.1M810.7 353.1Q814.6 353.5 820.2 351.5M810.7 353.1Q810.0 354.7 810.8 357.0M810.8 357.0Q812.8 357.8 817.5 357.4M810.8 357.0Q815.1 360.6 819.1 363.6M813.4 371.2Q817.5 373.9 820.9 374.5M811.5 380.9Q809.6 382.5 809.6 385.5M809.6 385.5Q814.1 385.9 819.6 386.5M809.6 385.5Q811.4 390.3 812.9 396.0M812.9 396.0Q812.9 396.1 814.3 399.1M814.3 399.1Q817.1 399.6 821.4 402.5M819.0 241.3Q821.8 241.7 824.8 242.0M819.0 241.3Q820.2 245.3 819.0 247.9M819.0 247.9Q823.7 248.1 827.2 248.4M819.0 247.9Q817.9 249.9 817.5 251.9M817.5 251.9Q822.6 253.6 827.5 253.5M817.5 251.9Q816.4 253.9 817.1 258.7M817.1 258.7Q818.5 262.8 819.3 268.1M819.3 268.1Q824.1 269.2 827.0 269.3M819.3 268.1Q820.0 270.5 819.3 273.3M819.3 273.3Q824.5 275.4 827.3 274.5M819.3 273.3Q819.4 275.6 817.5 280.5M817.5 280.5Q822.4 280.3 827.1 279.9M817.5 280.5Q820.1 286.0 820.7 291.4M817.5 280.5Q820.1 286.2 825.2 288.8M821.1 294.0Q821.2 294.8 823.6 295.3M821.1 294.0Q818.8 300.4 816.9 305.2M816.9 305.2Q820.8 304.3 826.7 303.6M816.9 305.2Q818.4 307.4 818.8 311.3M818.8 311.3Q821.3 312.0 824.7 312.2M818.8 311.3Q817.0 313.2 818.2 316.8M818.2 316.8Q822.0 322.0 826.8 324.3M819.1 323.7Q821.7 324.4 826.8 324.3M819.1 323.7Q823.3 327.8 826.2 330.5M819.5 328.6Q822.9 332.8 828.4 338.7M817.4 344.8Q821.7 344.8 827.0 346.3M817.4 344.8Q817.9 348.6 820.2 351.5M820.2 351.5Q822.9 350.8 828.4 349.7M820.2 351.5Q819.8 353.7 817.5 357.4M817.5 357.4Q819.7 359.7 819.1 363.6M819.1 363.6Q822.5 363.3 824.8 365.5M820.9 374.5Q823.4 373.6 823.8 371.5M820.9 374.5Q821.0 378.5 820.0 381.8M820.0 381.8Q822.7 378.6 825.4 378.0M820.0 381.8Q819.5 384.2 819.6 386.5M819.6 386.5Q819.2 389.8 819.5 394.0M819.5 394.0Q824.1 393.1 826.2 394.0M819.5 394.0Q820.4 399.1 821.4 402.5M824.8 242.0Q824.7 246.3 827.2 248.4M827.2 248.4Q828.4 251.3 827.5 253.5M827.2 248.4Q831.1 252.5 833.5 255.3M827.5 253.5Q826.7 257.2 827.9 262.9M827.9 262.9Q827.1 264.8 827.0 269.3M827.0 269.3Q829.4 269.8 831.3 267.9M827.3 274.5Q828.4 273.6 831.4 275.0M825.2 288.8Q829.2 288.9 835.2 288.6M825.2 288.8Q824.1 292.0 823.6 295.3M823.6 295.3Q827.4 295.4 833.1 296.5M823.6 295.3Q828.2 298.3 832.3 302.0M826.7 303.6Q830.8 301.7 832.3 302.0M826.7 303.6Q826.3 307.5 824.7 312.2M824.7 312.2Q827.8 310.6 833.8 310.3M824.7 312.2Q826.5 315.0 826.8 316.2M826.8 316.2Q828.4 316.8 831.9 318.1M826.8 316.2Q827.6 319.1 826.8 324.3M826.8 316.2Q830.1 320.0 832.0 321.6M826.8 324.3Q829.7 324.4 832.0 321.6M826.8 324.3Q826.7 328.6 826.2 330.5M826.8 324.3Q830.3 327.0 831.8 328.8M826.2 330.5Q827.9 329.3 831.8 328.8M826.2 330.5Q826.2 335.4 828.4 338.7M828.4 338.7Q829.2 338.4 831.3 339.2M828.4 338.7Q826.8 342.3 827.0 346.3M828.4 338.7Q831.9 342.1 832.5 346.9M827.0 346.3Q830.3 345.7 832.5 346.9M827.0 346.3Q826.8 348.1 828.4 349.7M826.6 360.2Q830.3 362.1 835.4 361.2M826.6 360.2Q824.4 363.5 824.8 365.5M824.8 365.5Q828.5 367.8 830.9 368.0M824.8 365.5Q824.1 368.0 823.8 371.5M823.8 371.5Q829.0 372.1 832.7 372.9M823.8 371.5Q823.5 375.6 825.4 378.0M823.8 371.5Q828.7 375.5 835.3 378.7M824.8 389.0Q825.7 392.0 826.2 394.0M824.8 389.0Q828.1 390.2 834.1 393.8M826.2 394.0Q828.2 398.2 828.3 401.3M828.3 401.3Q831.4 400.8 835.3 402.6M835.4 240.7Q836.5 238.6 840.5 238.1M834.5 244.9Q832.9 250.4 833.5 255.3M834.5 244.9Q836.1 247.2 838.5 251.8M833.5 255.3Q836.7 254.7 838.5 251.8M833.5 255.3Q832.4 260.3 830.8 263.1M830.8 263.1Q834.8 262.0 840.1 259.2M830.8 263.1Q831.0 264.0 831.3 267.9M831.3 267.9Q831.4 271.5 831.4 275.0M831.4 275.0Q833.0 278.9 833.5 279.8M831.4 275.0Q835.3 278.2 840.4 281.6M833.5 279.8Q837.9 280.4 840.4 281.6M833.5 279.8Q834.3 283.9 835.2 288.6M835.2 288.6Q839.8 287.5 841.4 289.2M835.2 288.6Q832.9 293.1 833.1 296.5M833.1 296.5Q833.0 300.0 832.3 302.0M832.3 302.0Q836.3 303.0 841.1 301.7M833.8 310.3Q835.9 310.0 838.1 311.9M833.8 310.3Q838.3 312.6 841.4 317.6M831.9 318.1Q835.8 317.7 841.4 317.6M831.9 318.1Q830.6 321.1 832.0 321.6M832.0 321.6Q830.7 323.8 831.8 328.8M831.8 328.8Q837.5 330.9 840.9 331.3M831.3 339.2Q835.8 338.4 840.4 338.7M831.3 339.2Q831.0 343.5 832.5 346.9M832.5 346.9Q838.2 345.6 841.2 343.5M832.5 346.9Q834.0 349.6 834.2 349.8M832.5 346.9Q834.2 350.7 838.8 354.4M834.2 349.8Q836.2 356.6 835.4 361.2M835.4 361.2Q838.2 360.0 842.0 360.9M835.4 361.2Q833.9 364.1 830.9 368.0M830.9 368.0Q835.0 365.8 837.7 363.8M832.7 372.9Q834.0 376.3 835.3 378.7M835.3 378.7Q837.0 379.8 840.6 378.1M835.3 378.7Q833.1 384.6 833.1 389.1M833.1 389.1Q837.5 387.3 840.2 384.9M833.1 389.1Q835.0 391.2 834.1 393.8M834.1 393.8Q835.8 394.0 838.0 394.9M834.1 393.8Q834.3 397.8 835.3 402.6M834.1 393.8Q838.1 398.3 840.2 401.6M835.3 402.6Q837.5 402.5 840.2 401.6M840.5 238.1Q839.4 243.3 840.6 246.8M840.5 238.1Q842.5 241.8 845.6 246.2M838.5 251.8Q842.1 253.0 848.2 255.7M838.5 251.8Q838.5 256.6 840.1 259.2M840.1 259.2Q841.6 258.5 844.9 259.1M840.1 259.2Q839.3 264.7 839.7 268.8M839.7 268.8Q845.0 268.2 848.5 268.6M839.8 273.8Q840.4 276.3 840.4 281.6M840.4 281.6Q843.0 279.8 846.6 280.8M840.4 281.6Q840.4 286.8 841.4 289.2M841.4 289.2Q846.0 289.0 848.5 288.4M841.4 289.2Q843.3 293.9 847.8 298.4M841.1 301.7Q839.9 308.0 838.1 311.9M841.1 301.7Q845.5 307.3 848.2 312.1M838.1 311.9Q844.0 312.5 848.2 312.1M841.4 317.6Q844.1 317.6 846.6 316.4M841.4 317.6Q840.6 321.1 839.3 322.9M841.4 317.6Q842.0 320.7 845.0 325.8M839.3 322.9Q841.6 325.7 844.9 329.0M840.9 331.3Q843.1 329.5 844.9 329.0M840.9 331.3Q840.2 336.0 840.4 338.7M840.9 331.3Q842.6 334.8 847.3 337.9M840.4 338.7Q839.6 340.4 841.2 343.5M840.4 338.7Q844.5 341.8 847.9 344.0M841.2 343.5Q844.6 342.9 847.9 344.0M841.2 343.5Q839.3 349.4 838.8 354.4M842.0 360.9Q842.3 361.8 845.6 359.8M842.0 360.9Q839.5 361.3 837.7 363.8M842.0 360.9Q844.9 362.0 845.0 365.0M837.7 363.8Q842.3 365.8 845.0 365.0M838.9 372.6Q843.6 375.4 845.9 378.3M840.6 378.1Q839.6 381.9 840.2 384.9M840.2 384.9Q843.1 386.4 846.3 388.1M840.2 384.9Q838.7 389.7 838.0 394.9M838.0 394.9Q841.6 393.7 846.3 392.1M840.2 401.6Q843.7 400.1 848.0 401.3M846.4 239.9Q847.3 244.1 845.6 246.2M845.6 246.2Q850.4 245.9 856.0 246.7M848.2 255.7Q851.5 253.4 855.5 253.0M844.9 259.1Q848.2 260.5 853.1 260.5M844.9 259.1Q845.5 262.9 848.5 268.6M848.5 268.6Q853.0 268.7 856.1 269.9M848.5 268.6Q848.0 271.0 848.3 273.6M848.5 268.6Q849.9 272.4 852.8 274.3M848.3 273.6Q850.8 275.3 852.8 274.3M848.3 273.6Q846.5 278.7 846.6 280.8M846.6 280.8Q848.8 280.5 853.3 281.3M846.6 280.8Q848.6 285.1 848.5 288.4M848.5 288.4Q852.1 288.4 853.5 288.4M847.8 298.4Q849.9 298.7 852.5 296.3M847.8 298.4Q847.9 299.5 846.1 303.2M846.1 303.2Q850.3 302.4 855.5 303.2M848.2 312.1Q852.1 310.9 855.6 310.3M848.2 312.1Q846.8 312.8 846.6 316.4M846.6 316.4Q849.5 316.9 852.4 318.3M845.0 325.8Q849.8 323.2 855.9 322.9M844.9 329.0Q845.7 333.3 847.3 337.9M847.3 337.9Q852.0 341.8 856.3 345.7M847.9 344.0Q852.9 344.9 856.3 345.7M847.9 344.0Q849.1 348.2 848.3 349.9M848.3 349.9Q851.8 350.0 855.5 349.9M848.3 349.9Q847.0 355.8 845.6 359.8M848.3 349.9Q849.9 355.9 854.2 360.4M845.6 359.8Q850.2 361.3 854.2 360.4M845.0 365.0Q849.8 363.5 852.0 364.0M845.0 365.0Q845.5 370.3 848.1 374.0M848.1 374.0Q851.1 375.6 855.2 375.0M845.9 378.3Q850.1 380.3 852.0 380.7M846.3 388.1Q850.0 386.8 852.3 388.2M846.3 388.1Q846.4 388.7 846.3 392.1M846.3 392.1Q849.4 393.6 854.7 392.8M846.3 392.1Q846.1 396.6 848.0 401.3M848.0 401.3Q849.2 401.3 852.6 402.3M856.1 242.2Q858.5 241.5 861.1 241.3M856.1 242.2Q857.4 245.7 856.0 246.7M856.1 242.2Q859.3 243.4 860.5 246.2M856.0 246.7Q856.2 250.2 855.5 253.0M855.5 253.0Q858.8 252.5 863.3 254.8M853.1 260.5Q858.1 259.5 861.0 261.2M856.1 269.9Q860.3 268.8 862.1 269.0M856.1 269.9Q861.0 272.9 863.0 274.6M852.8 274.3Q858.6 275.2 863.0 274.6M852.8 274.3Q852.4 277.9 853.3 281.3M853.3 281.3Q858.4 281.0 862.6 282.8M853.3 281.3Q852.5 284.1 853.5 288.4M853.3 281.3Q859.4 287.2 862.7 290.5M853.5 288.4Q859.2 290.4 862.7 290.5M853.5 288.4Q851.7 293.1 852.5 296.3M853.5 288.4Q859.1 291.8 862.6 297.9M852.5 296.3Q853.9 300.9 855.5 303.2M852.5 296.3Q857.7 300.5 863.2 303.7M855.5 303.2Q859.9 303.0 863.2 303.7M855.5 303.2Q854.3 308.0 855.6 310.3M855.6 310.3Q858.3 309.8 861.1 311.0M855.6 310.3Q854.6 314.4 852.4 318.3M852.4 318.3Q853.4 319.8 855.9 322.9M855.9 322.9Q858.8 323.8 860.6 322.3M855.9 322.9Q852.3 328.1 851.7 331.1M851.7 331.1Q857.3 331.8 862.2 333.4M851.7 331.1Q851.7 335.2 854.2 338.3M854.2 338.3Q858.5 337.9 860.4 336.4M854.2 338.3Q856.2 343.4 856.3 345.7M854.2 338.3Q858.4 341.4 859.6 344.6M856.3 345.7Q856.3 348.9 855.5 349.9M855.5 349.9Q856.3 353.1 860.0 354.3M855.5 349.9Q856.3 355.4 854.2 360.4M855.5 349.9Q858.0 355.4 858.8 358.1M854.2 360.4Q857.7 358.9 858.8 358.1M852.0 364.0Q857.0 365.0 859.1 366.7M855.2 375.0Q853.2 376.7 852.0 380.7M852.0 380.7Q856.3 379.7 858.9 379.8M852.0 380.7Q851.2 384.5 852.3 388.2M852.3 388.2Q854.7 389.9 854.7 392.8M854.7 392.8Q856.0 392.5 858.7 392.1M852.6 402.3Q857.0 401.8 859.5 399.6M861.1 241.3Q864.2 242.3 866.7 241.1M861.1 241.3Q859.5 242.6 860.5 246.2M861.1 241.3Q865.8 244.9 868.5 245.6M860.5 246.2Q863.4 246.1 868.5 245.6M860.5 246.2Q862.2 249.4 863.3 254.8M860.5 246.2Q863.5 248.9 866.5 252.9M863.3 254.8Q864.5 252.6 866.5 252.9M863.3 254.8Q861.4 257.2 861.0 261.2M861.0 261.2Q863.1 262.2 866.4 262.3M861.0 261.2Q863.0 266.3 862.1 269.0M861.0 261.2Q863.3 265.7 867.1 268.2M862.1 269.0Q861.3 270.6 863.0 274.6M863.0 274.6Q861.7 279.3 862.6 282.8M862.6 282.8Q861.3 287.8 862.7 290.5M862.6 282.8Q866.3 285.4 870.0 288.2M862.7 290.5Q861.3 294.3 862.6 297.9M862.7 290.5Q866.0 293.2 868.2 298.2M862.6 297.9Q866.0 297.6 868.2 298.2M862.6 297.9Q863.2 300.5 863.2 303.7M863.2 303.7Q863.3 306.9 861.1 311.0M863.2 303.7Q864.1 307.0 865.8 312.2M861.1 311.0Q862.6 315.3 862.5 316.6M860.6 322.3Q864.7 324.5 868.1 324.1M860.6 322.3Q860.6 327.0 862.2 333.4M862.2 333.4Q861.0 334.5 860.4 336.4M862.2 333.4Q864.9 336.0 868.8 336.7M860.4 336.4Q863.4 335.1 868.8 336.7M860.4 336.4Q861.1 339.2 859.6 344.6M859.6 344.6Q860.8 350.1 860.0 354.3M860.0 354.3Q860.7 357.5 858.8 358.1M858.8 358.1Q860.2 361.1 859.1 366.7M859.1 366.7Q860.3 367.8 862.4 371.4M862.4 371.4Q861.0 376.1 858.9 379.8M858.9 379.8Q863.0 379.8 869.8 380.1M858.9 379.8Q859.4 385.4 861.4 389.0M861.4 389.0Q865.9 387.7 868.7 389.4M861.4 389.0Q860.2 391.2 858.7 392.1M861.4 389.0Q864.7 390.8 866.9 394.2M858.7 392.1Q858.4 396.0 859.5 399.6M859.5 399.6Q862.6 399.6 866.3 402.3M866.7 241.1Q868.6 244.5 868.5 245.6M868.5 245.6Q871.6 247.8 876.7 248.6M868.5 245.6Q866.6 247.8 866.5 252.9M866.5 252.9Q866.7 257.5 866.4 262.3M866.4 262.3Q870.1 259.5 876.1 259.0M866.4 262.3Q867.2 266.2 867.1 268.2M866.4 262.3Q869.6 264.5 874.9 267.8M866.8 283.9Q867.0 287.2 870.0 288.2M870.0 288.2Q873.2 289.6 876.4 288.6M870.0 288.2Q870.1 294.2 868.2 298.2M868.2 298.2Q871.3 296.9 877.0 294.0M868.2 298.2Q869.5 299.3 867.9 301.6M867.9 301.6Q873.7 302.4 876.6 301.6M867.9 301.6Q868.1 306.2 865.8 312.2M865.8 312.2Q869.0 314.3 869.5 316.4M869.5 316.4Q870.1 317.4 873.3 318.6M868.1 324.1Q871.8 324.6 874.1 323.1M868.1 324.1Q867.3 327.4 866.9 333.4M868.1 324.1Q870.7 326.8 872.9 330.0M866.9 333.4Q866.5 333.9 868.8 336.7M868.8 336.7Q870.7 338.9 874.8 339.1M868.8 336.7Q868.3 341.0 865.6 344.9M865.6 344.9Q866.7 349.6 867.4 353.5M869.0 359.5Q873.3 360.7 874.8 361.3M866.3 364.3Q871.2 366.8 876.6 366.8M867.1 371.8Q872.7 374.2 876.0 378.7M869.8 380.1Q868.5 385.1 868.7 389.4M869.8 380.1Q873.3 382.8 875.3 386.8M868.7 389.4Q871.4 388.9 875.3 386.8M868.7 389.4Q871.2 394.1 872.6 396.4M866.9 394.2Q871.1 395.5 872.6 396.4M866.3 402.3Q870.2 399.6 876.5 399.6M872.6 241.6Q876.8 239.1 882.6 239.0M872.6 241.6Q873.6 245.8 876.7 248.6M876.7 248.6Q880.3 248.9 881.4 247.2M876.7 248.6Q876.3 251.0 873.0 252.9M876.7 248.6Q879.2 251.1 881.0 253.2M873.0 252.9Q876.6 253.2 881.0 253.2M876.1 259.0Q879.4 259.6 881.5 261.8M874.9 267.8Q878.9 267.3 880.8 266.5M876.4 288.6Q877.0 291.5 877.0 294.0M877.0 294.0Q877.0 297.9 876.6 301.6M876.6 301.6Q877.1 307.2 875.2 310.1M875.2 310.1Q879.1 310.4 882.9 311.0M875.2 310.1Q876.6 312.5 880.4 316.5M874.1 323.1Q872.5 327.0 872.9 330.0M872.9 330.0Q876.4 330.2 880.0 329.7M872.9 330.0Q873.8 335.1 874.8 339.1M874.8 339.1Q877.8 339.0 880.3 336.2M874.8 339.1Q874.7 343.3 874.3 345.9M874.3 345.9Q877.7 345.1 881.5 342.9M874.3 345.9Q872.7 350.1 873.1 351.5M874.3 345.9Q879.2 350.3 884.1 351.6M873.1 351.5Q878.2 350.3 884.1 351.6M874.8 361.3Q878.8 361.4 882.1 359.7M874.8 361.3Q876.4 364.3 876.6 366.8M876.6 366.8Q880.5 367.3 883.3 367.6M872.6 372.4Q876.8 373.7 881.4 372.2M872.6 372.4Q873.3 375.6 876.0 378.7M876.0 378.7Q874.7 383.4 875.3 386.8M875.3 386.8Q879.9 386.2 881.5 388.0M875.3 386.8Q872.5 393.0 872.6 396.4M875.3 386.8Q879.7 391.5 884.4 395.4M872.6 396.4Q877.5 395.5 884.4 395.4M872.6 396.4Q875.6 396.8 876.5 399.6M876.5 399.6Q879.8 401.4 882.8 401.5M882.6 239.0Q884.1 240.4 886.6 239.2M882.6 239.0Q881.3 243.2 881.4 247.2M882.6 239.0Q884.0 243.8 888.2 247.7M881.4 247.2Q884.2 246.4 888.2 247.7M881.0 253.2Q884.3 252.6 887.1 253.4M881.0 253.2Q881.2 258.4 881.5 261.8M881.5 261.8Q880.4 265.6 880.8 266.5M880.2 301.0Q885.3 301.3 891.4 303.1M880.2 301.0Q881.4 306.6 882.9 311.0M882.9 311.0Q885.8 312.4 890.1 311.6M882.9 311.0Q881.4 314.0 880.4 316.5M880.4 316.5Q884.2 319.2 887.5 319.2M880.4 316.5Q880.8 322.0 883.7 324.5M883.7 324.5Q881.1 325.6 880.0 329.7M880.0 329.7Q884.5 328.3 887.0 329.7M881.5 342.9Q884.8 346.4 888.2 347.1M881.5 342.9Q883.9 347.5 884.1 351.6M881.5 342.9Q885.5 346.6 888.3 351.8M884.1 351.6Q886.1 350.6 888.3 351.8M884.1 351.6Q883.0 354.8 882.1 359.7M882.1 359.7Q883.9 360.8 887.2 361.3M883.3 367.6Q882.9 369.1 881.4 372.2M881.4 372.2Q886.1 374.2 889.2 373.3M881.4 372.2Q883.0 374.8 881.6 377.6M884.4 395.4Q886.5 394.2 890.6 394.5M884.4 395.4Q883.4 397.4 882.8 401.5M882.8 401.5Q885.3 401.9 887.2 402.6M886.6 239.2Q891.4 241.6 895.0 241.9M886.6 239.2Q886.7 244.3 888.2 247.7M888.2 247.7Q886.7 250.8 887.1 253.4M887.1 253.4Q892.1 253.9 897.6 252.5M891.4 303.1Q894.3 302.7 897.5 300.6M891.4 303.1Q890.4 306.2 890.1 311.6M890.1 311.6Q892.9 310.2 894.5 309.8M890.1 311.6Q888.4 315.1 887.5 319.2M890.1 311.6Q890.7 314.0 894.3 316.4M887.5 319.2Q889.8 318.5 894.3 316.4M889.6 322.5Q887.5 326.4 887.0 329.7M888.2 347.1Q888.8 349.2 888.3 351.8M888.3 351.8Q887.9 355.4 887.2 361.3M887.2 361.3Q888.5 364.6 887.2 368.0M887.2 361.3Q890.5 363.8 895.9 365.6M889.2 373.3Q890.6 375.7 889.3 378.8M889.3 378.8Q893.8 378.7 897.3 381.2M889.3 378.8Q888.9 383.3 891.0 389.4M889.3 378.8Q893.4 383.3 895.9 389.4M891.0 389.4Q894.4 389.7 895.9 389.4M891.0 389.4Q889.8 390.7 890.6 394.5M890.6 394.5Q894.4 395.0 897.7 395.7M890.6 394.5Q889.0 399.0 887.2 402.6M887.2 402.6Q891.4 402.8 895.6 400.7M895.0 241.9Q900.1 242.8 903.3 242.0M895.0 241.9Q895.0 243.9 894.7 247.4M894.7 247.4Q898.2 247.6 903.1 247.1M894.7 247.4Q896.5 249.7 897.6 252.5M897.5 300.6Q896.6 306.4 894.5 309.8M894.5 309.8Q893.8 313.0 894.3 316.4M898.3 359.5Q900.3 360.6 901.6 360.2M898.3 359.5Q898.0 363.2 895.9 365.6M898.3 359.5Q900.6 363.6 903.3 368.0M895.9 365.6Q899.0 367.8 903.3 368.0M895.9 365.6Q896.4 369.8 896.6 373.9M897.3 381.2Q898.1 381.9 901.2 380.2M897.3 381.2Q897.5 384.7 895.9 389.4M895.9 389.4Q899.3 386.4 905.2 384.6M895.9 389.4Q897.3 393.6 897.7 395.7M895.9 389.4Q897.9 391.2 901.7 393.0M897.7 395.7Q896.6 399.2 895.6 400.7M895.6 400.7Q897.8 399.0 902.1 398.9M903.3 242.0Q903.5 245.2 903.1 247.1M901.2 295.7Q907.9 295.8 911.9 294.5M901.2 295.7Q903.2 298.2 903.0 302.5M903.0 302.5Q907.6 303.8 911.7 302.3M901.6 360.2Q901.1 365.4 903.3 368.0M903.3 368.0Q901.3 372.0 901.0 374.4M901.0 374.4Q905.5 372.0 909.7 370.9M901.0 374.4Q901.0 376.9 901.2 380.2M905.2 384.6Q904.2 388.5 901.7 393.0M905.2 384.6Q907.1 389.1 908.4 392.7M901.7 393.0Q906.3 392.4 908.4 392.7M901.7 393.0Q901.2 397.3 902.1 398.9M911.9 241.5Q913.1 240.8 916.4 240.8M911.9 294.5Q914.2 294.3 917.5 294.9M909.7 370.9Q908.0 375.9 908.6 379.1M908.6 379.1Q913.3 381.0 918.4 380.1M908.6 379.1Q910.5 383.3 911.0 385.5M908.6 379.1Q914.1 383.6 917.0 388.7M911.0 385.5Q912.7 386.7 917.0 388.7M911.0 385.5Q910.1 387.6 908.4 392.7M911.0 385.5Q913.2 389.6 917.9 394.1M908.4 392.7Q914.2 393.8 917.9 394.1M916.4 240.8Q920.6 240.9 925.4 238.4M915.9 268.7Q918.6 267.7 922.7 267.9M915.9 268.7Q918.8 271.3 922.6 275.4M917.5 294.9Q921.4 297.7 924.4 297.8M917.0 388.7Q919.7 387.8 922.4 385.8M917.0 388.7Q916.2 390.0 917.9 394.1M917.9 394.1Q919.2 393.9 922.3 394.9M919.2 399.4Q923.2 399.9 925.6 402.4M922.7 267.9Q926.8 266.0 933.4 266.3M922.7 267.9Q922.1 272.5 922.6 275.4M922.6 275.4Q926.3 274.4 930.8 276.2M924.5 290.1Q924.1 294.9 924.4 297.8M924.4 297.8Q927.5 295.4 930.5 295.0M922.3 394.9Q925.3 400.2 925.6 402.4M925.6 402.4Q928.3 402.3 930.4 402.4M933.4 266.3Q935.1 267.5 937.1 267.7M930.5 295.0Q934.6 294.5 938.9 295.3M936.6 239.3Q940.4 238.8 944.1 239.6M940.4 275.9Q943.3 276.1 943.9 276.0M938.9 295.3Q941.6 295.8 944.0 295.2M943.3 266.6Q943.9 271.0 943.9 276.0M946.8 287.7Q944.9 291.9 944.0 295.2"/><path fill="none" stroke="#f8d66a" stroke-width="0.8" d="M788.2 189.9Q793.6 192.0 799.7 191.5M788.2 189.9Q788.9 194.1 789.5 199.2M789.5 199.2Q793.3 201.8 798.3 207.3M787.2 206.4Q792.4 207.7 798.3 207.3M787.2 206.4Q790.7 209.4 791.4 214.9M791.4 214.9Q794.6 215.7 800.6 214.0M800.7 202.0Q806.7 200.6 810.3 199.0M798.3 207.3Q804.6 206.7 809.2 205.3M798.3 207.3Q798.5 209.6 800.6 214.0M800.6 214.0Q804.2 218.2 809.0 219.7M808.4 191.5Q808.5 195.5 810.3 199.0M810.3 199.0Q812.2 197.0 815.0 197.1M810.3 199.0Q809.4 202.5 809.2 205.3M810.3 199.0Q813.3 203.3 818.9 208.1M809.2 205.3Q815.3 207.1 818.9 208.1M809.0 219.7Q807.6 221.7 808.7 225.9M808.7 225.9Q813.0 226.7 819.1 227.0M817.1 189.4Q814.7 194.3 815.0 197.1M818.9 208.1Q815.6 212.6 814.1 217.7M814.1 217.7Q820.7 215.4 824.5 215.0M819.1 227.0Q820.4 224.2 823.9 223.1M824.0 192.8Q829.2 190.5 835.9 191.0M824.0 192.8Q825.1 196.9 824.0 199.1M824.0 192.8Q827.8 196.8 833.4 201.8M824.0 199.1Q829.1 200.8 833.4 201.8M824.0 199.1Q824.1 201.7 825.7 205.9M825.7 205.9Q823.9 211.6 824.5 215.0M825.7 205.9Q830.7 213.3 837.7 217.9M824.5 215.0Q829.6 216.1 837.7 217.9M824.5 215.0Q823.6 217.8 823.9 223.1M835.9 191.0Q840.7 189.1 845.5 188.8M835.9 191.0Q835.8 196.4 833.4 201.8M835.9 191.0Q838.2 196.5 841.3 200.5M833.4 201.8Q836.9 201.9 841.3 200.5M833.4 201.8Q833.0 204.5 834.5 207.7M834.5 207.7Q839.3 208.2 845.6 208.6M834.5 207.7Q836.4 214.1 837.7 217.9M837.7 217.9Q840.4 218.8 841.6 218.5M837.7 217.9Q836.5 223.2 834.8 227.6M834.8 227.6Q839.7 227.1 842.0 227.9M845.5 188.8Q842.8 195.3 841.3 200.5M845.6 208.6Q850.6 207.0 854.5 205.6M841.6 218.5Q844.6 217.8 850.1 216.5M841.6 218.5Q842.1 223.2 842.0 227.9M842.0 227.9Q849.7 227.2 855.2 226.8M853.8 190.9Q857.5 190.0 860.3 187.4M853.8 190.9Q850.8 193.6 850.3 198.1M850.3 198.1Q858.5 198.8 864.1 201.2M850.3 198.1Q853.6 202.5 854.5 205.6M854.5 205.6Q860.1 204.6 863.3 206.2M854.5 205.6Q851.7 211.3 850.1 216.5M850.1 216.5Q855.9 222.1 859.9 224.9M860.3 187.4Q867.8 188.6 873.9 187.1M860.3 187.4Q861.6 193.1 864.1 201.2M864.1 201.2Q863.2 202.6 863.3 206.2M863.3 206.2Q868.9 205.2 872.7 206.5M863.3 206.2Q864.9 209.6 863.6 213.9M863.6 213.9Q864.5 217.7 868.3 219.2M863.6 213.9Q862.5 218.9 859.9 224.9M859.9 224.9Q865.6 225.5 874.0 228.6M873.9 187.1Q878.5 186.2 880.4 187.4M868.9 200.5Q875.4 200.7 881.5 199.9M872.7 206.5Q878.0 206.9 882.1 209.6M868.3 219.2Q873.7 218.6 880.0 220.0M874.0 228.6Q877.3 228.4 879.8 225.7M880.4 187.4Q880.6 194.7 881.5 199.9M881.5 199.9Q886.8 202.2 889.6 201.8M882.1 209.6Q880.2 215.4 880.0 220.0M880.0 220.0Q878.8 222.1 879.8 225.7M889.9 191.8Q895.0 191.2 898.8 192.9M889.9 191.8Q888.6 196.9 889.6 201.8M889.6 201.8Q888.7 206.6 887.6 210.5M889.6 201.8Q894.1 203.4 899.6 205.9M887.6 210.5Q889.1 212.4 891.4 216.0M891.4 216.0Q896.2 216.1 899.1 216.6M891.4 216.0Q888.6 221.6 886.0 226.6M886.0 226.6Q891.8 224.4 896.2 224.6M898.8 192.9Q901.7 191.6 906.1 191.5M898.4 200.4Q901.5 198.4 907.3 197.9M899.6 205.9Q902.5 209.0 904.2 209.8M899.1 216.6Q898.6 221.6 896.2 224.6M899.1 216.6Q902.5 218.5 908.8 223.2M906.1 191.5Q908.9 190.2 914.6 189.8M906.1 191.5Q909.6 195.7 914.7 201.0M907.3 197.9Q904.6 203.7 904.2 209.8M904.2 209.8Q907.0 215.2 908.6 219.1M908.6 219.1Q913.5 217.1 915.7 214.2M908.8 223.2Q910.9 226.0 913.0 226.7M914.6 189.8Q921.1 189.2 925.7 190.3M914.6 189.8Q915.0 194.0 914.7 201.0M914.7 201.0Q919.4 200.9 922.3 199.4M914.7 201.0Q913.0 204.3 914.1 204.9M914.1 204.9Q919.8 205.8 925.1 206.8M914.1 204.9Q916.2 210.6 915.7 214.2M915.7 214.2Q918.5 214.0 923.3 214.8M913.0 226.7Q917.5 227.3 924.9 225.2M925.7 190.3Q930.0 189.4 934.5 191.1M925.1 206.8Q927.7 207.8 932.5 209.5M925.1 206.8Q924.9 210.5 923.3 214.8M925.1 206.8Q927.9 212.9 932.1 217.6M923.3 214.8Q924.2 219.0 924.9 225.2M923.3 214.8Q930.5 220.2 935.5 227.9M924.9 225.2Q931.6 226.1 935.5 227.9M934.5 191.1Q939.5 192.0 943.2 192.6M934.5 191.1Q933.0 196.3 932.6 199.7M932.6 199.7Q938.0 200.5 946.1 200.8M932.6 199.7Q931.7 203.2 932.5 209.5M932.6 199.7Q938.2 203.7 942.1 206.5M932.5 209.5Q933.2 212.4 932.1 217.6M932.1 217.6Q937.9 217.5 943.8 214.7M932.1 217.6Q935.0 221.8 935.5 227.9M943.2 192.6Q945.4 198.2 946.1 200.8M946.1 200.8Q945.1 205.1 942.1 206.5M942.1 206.5Q943.7 209.4 943.8 214.7M943.8 214.7Q942.3 217.9 941.0 223.4"/><path fill="none" stroke="#f8d66a" stroke-width="0.8" d="M706.7 267.2Q708.6 266.9 712.5 268.8M706.7 267.2Q704.9 269.9 702.3 274.7M702.3 274.7Q704.6 279.2 704.2 285.9M704.2 285.9Q710.3 286.7 713.9 287.7M707.0 297.4Q709.6 296.6 713.3 293.4M703.5 303.7Q703.6 309.7 701.0 316.8M704.7 325.0Q703.0 328.4 704.0 333.9M704.0 333.9Q706.0 331.4 710.9 331.7M706.7 341.0Q711.6 343.0 714.3 346.5M706.7 341.0Q704.0 349.0 702.2 355.5M702.8 361.9Q703.7 366.2 703.5 371.1M703.5 371.1Q708.3 370.5 712.0 371.7M705.7 379.3Q710.8 383.3 716.7 384.9M705.7 379.3Q705.6 385.7 704.4 392.9M704.4 392.9Q710.8 392.6 714.4 392.4M704.4 392.9Q704.2 398.1 703.0 402.5M703.0 402.5Q707.5 400.9 712.5 398.3M712.5 268.8Q716.3 267.1 721.9 266.2M712.5 268.8Q718.2 273.5 723.9 278.5M710.9 276.3Q718.2 278.5 723.9 278.5M710.9 276.3Q711.3 281.6 713.9 287.7M713.3 293.4Q716.6 293.0 719.7 294.5M713.8 308.4Q716.8 306.8 720.3 305.1M712.0 313.6Q717.5 314.4 725.8 315.3M714.3 323.2Q714.0 328.2 710.9 331.7M710.9 331.7Q715.3 334.8 722.0 336.5M714.3 346.5Q717.3 347.1 721.6 345.5M714.3 346.5Q716.2 348.9 715.3 354.1M715.3 354.1Q716.1 360.0 716.0 365.3M712.0 371.7Q718.4 373.0 726.2 371.7M716.7 384.9Q720.3 386.2 721.5 385.3M716.7 384.9Q715.9 388.7 714.4 392.4M712.5 398.3Q719.1 400.9 722.9 401.8M721.9 266.2Q727.1 266.1 731.8 266.5M721.9 266.2Q723.9 271.4 723.9 278.5M723.9 278.5Q727.1 277.8 731.1 275.7M723.9 289.7Q729.2 288.3 733.8 284.3M723.9 289.7Q721.7 291.8 719.7 294.5M719.7 294.5Q723.6 295.6 730.0 296.5M725.8 315.3Q726.5 319.5 725.0 322.9M725.0 322.9Q727.4 323.8 730.5 325.1M725.0 322.9Q722.6 330.4 722.0 336.5M722.0 336.5Q724.4 336.8 729.3 334.6M721.6 345.5Q725.0 342.5 729.4 341.4M721.6 345.5Q722.8 350.1 723.7 354.5M723.7 354.5Q727.7 354.2 730.0 352.5M723.7 354.5Q722.7 358.2 719.9 362.1M726.2 371.7Q727.2 372.2 729.7 370.0M721.5 385.3Q721.5 388.3 723.6 392.8M722.9 401.8Q726.5 402.9 730.5 403.5M731.8 266.5Q730.3 271.7 731.1 275.7M731.1 275.7Q736.5 279.5 743.0 280.6M733.8 284.3Q736.9 289.8 740.8 298.1M730.5 325.1Q737.4 326.4 743.9 326.3M729.3 334.6Q734.2 334.2 741.5 335.0M729.4 341.4Q729.1 347.1 730.0 352.5M732.3 361.1Q739.1 363.8 744.5 364.4M732.3 361.1Q729.9 365.4 729.7 370.0M729.7 370.0Q732.6 378.7 735.5 385.2M735.5 385.2Q736.4 387.1 735.3 389.1M735.3 389.1Q739.0 392.1 743.3 394.0M735.3 389.1Q731.7 397.5 730.5 403.5M730.5 403.5Q733.8 404.5 738.7 403.9M743.0 280.6Q745.3 278.6 748.3 276.3M744.8 289.3Q746.8 286.3 750.2 285.1M740.8 298.1Q743.6 304.8 744.9 308.7M744.9 308.7Q743.5 313.4 745.1 317.2M745.1 317.2Q747.3 315.3 748.9 314.1M745.1 317.2Q744.0 320.3 743.9 326.3M743.9 326.3Q743.4 330.2 741.5 335.0M744.9 344.5Q750.3 343.8 754.0 344.2M744.9 344.5Q742.2 349.4 738.8 353.2M738.8 353.2Q743.0 357.3 744.5 364.4M741.9 375.4Q746.8 375.7 753.9 374.7M741.9 375.4Q741.5 376.3 743.7 380.2M743.7 380.2Q746.6 379.5 749.2 378.9M743.3 394.0Q748.4 394.5 752.9 393.6M738.7 403.9Q744.1 403.0 749.4 403.3M748.3 276.3Q749.6 279.4 750.2 285.1M750.2 285.1Q751.2 292.1 752.5 298.5M752.5 308.7Q750.7 312.4 748.9 314.1M750.8 326.9Q752.1 332.5 753.1 337.8M754.0 344.2Q753.7 350.0 753.1 355.6"/><path fill="none" stroke="#f6e2a0" stroke-width="0.6" d="M631.6 260.6Q640.2 260.6 651.1 259.6M631.7 296.3Q643.9 293.6 654.6 289.4M634.1 304.6Q635.1 313.1 636.5 319.8M640.4 347.2Q634.5 360.6 631.3 371.0M631.3 371.0Q643.2 368.7 655.9 367.8M631.3 371.0Q634.2 373.8 638.0 379.5M638.0 379.5Q645.3 383.7 651.3 384.9M651.4 278.6Q657.3 275.0 664.7 271.8M651.4 278.6Q652.9 284.9 654.6 289.4M654.6 289.4Q653.6 298.2 651.7 307.7M651.7 307.7Q654.0 315.4 654.9 321.8M654.9 321.8Q660.4 320.3 668.7 317.9M654.9 321.8Q654.6 332.3 654.8 341.5M654.8 341.5Q652.4 345.1 650.0 351.0M650.0 351.0Q655.0 353.4 661.9 356.0M650.0 351.0Q651.5 360.5 655.9 367.8M655.9 367.8Q653.8 375.7 651.3 384.9M651.3 384.9Q653.2 391.7 652.1 397.2M652.1 397.2Q661.1 393.6 667.6 392.1M667.7 259.5Q664.7 265.7 664.7 271.8M664.7 271.8Q675.1 273.8 684.8 277.4M668.3 295.4Q672.0 293.4 675.9 290.9M668.5 312.0Q671.5 310.7 675.9 311.3M668.7 317.9Q676.6 320.6 685.1 324.3M664.1 341.4Q671.3 342.6 675.8 341.6M664.1 341.4Q661.9 350.0 661.9 356.0M661.9 356.0Q669.8 353.4 678.5 353.6M661.9 356.0Q664.8 360.8 669.1 363.3M669.1 363.3Q676.3 364.1 683.8 367.6M662.9 384.4Q670.8 383.2 677.0 379.3M675.9 311.3Q688.2 308.2 699.0 305.6M675.9 311.3Q679.7 316.8 685.1 324.3M685.1 324.3Q692.9 324.9 699.5 325.4M685.1 324.3Q679.9 334.3 675.8 341.6M675.8 341.6Q684.3 340.8 692.6 337.5M678.5 353.6Q680.6 360.6 683.8 367.6M683.8 367.6Q681.4 372.5 677.0 379.3M683.4 393.0Q693.5 398.2 700.7 402.0M694.7 266.5Q693.6 269.4 695.0 273.4M697.2 377.4Q699.1 388.9 700.7 402.0"/><path fill="none" stroke="#f5cb45" stroke-width="1.2" d="M637.4 229.2 L650.4 229.2 L664.8 230.6 L682.1 228.5 L696.5 229.2 L708 235 L716.6 240.7 L722.4 247.9 L729.6 252.2 L739.7 252.2 L748.3 247.9 L759.8 245 L768.5 247.9 L780 249.4 L800 248 L830 247 L860 246 L880 248 M636 257.6 L652.2 260.8 L668.4 270.5 L681.4 277 L694.3 285.1 L699.2 288.3 L704.1 278.6 L708.9 272.1 M636 298 L657.1 299.7 L668.4 306.2 L684.6 307.8 L692.7 302.9 L700.8 301.3 L707.3 304.6 L717 301.3 L726.8 298.1 L733.2 294.8 L743 291.6 L760 291.6 L790 296 L830 298 L870 302 M636 343.5 L645.7 333.7 L657.1 325.6 L668.4 317.5 L679.8 309.4 M637.6 304.6 L645.7 317.5 L657.1 327.2 L668.4 333.7 L678.1 343.5 L684.6 353.2 M689.5 293.2 L694.3 299.7 L705.7 309.4 L712.2 315.9 L720.3 320.8 L733.2 327.2 L749.5 335.3 L760 340.2 L800 345 L840 352 L890 350 M700.8 230 L712.2 239.7 L723.5 246.2 L733.2 252.7 L749.5 254.3 L760 246.2 M749.5 243 L746.2 254.3 L739.7 267.3 L736.5 283.5 L733.2 302.9 L726.8 314.3 L707.3 314.3 M707.3 314.3 L713.8 327.2 L723.5 343.5 L733.2 359.7 L739.7 375.9 L749.5 392 M730 337 L749.5 330.5 L760 327.2 M733.2 302.9 L749.5 306.2 L760 306.2 M804.8 200.4 L817.8 236.4 L819.2 255 L816.3 269.5 L812 300 L805 340 L800 392 M850.9 199 L848 222 L836.5 237.8 L830 260 M860 200 L880 210 L890 230 L880 250 L860 262 M740 262 L780 260.9 L810 262 L840 266 L860 270 M700 392 L740 370 L780 360 L820 350 L860 355 L900 350 M770 200 L790 215 L800 240"/><path fill="none" stroke="#f7e3a0" stroke-width=".6" d="M636 377.3 L664.8 373 L679.2 371.5 L693.6 373 L708 377.3 M640 270 L655 285 L665 300 M700 250 L705 270 M680 240 L690 260 L700 280 M650 240 L660 255"/><path fill="none" stroke="#8c8c8c" stroke-width=".8" d="M637 220 L664.8 219.1 L676.3 218.4 L687.8 220.6 L696.5 225.6 L708 229.2 L719.5 232.1 L725.3 235 L736.8 229.2 L751.2 222 L765.6 221.3 L780 219.8 L790.4 214.8 L803.4 201.8 L801.9 194.6 L799 186"/><defs><linearGradient id="sg" gradientUnits="userSpaceOnUse" x1="872" y1="0" x2="925" y2="0"><stop offset="0" stop-color="#7fcdf8"/><stop offset=".6" stop-color="#b2dffa"/><stop offset="1" stop-color="#cdeefc"/></linearGradient></defs><path fill="url(#sg)" d="M869.1 278.4 L871.9 271.4 L878.2 272.8 L886.6 266.5 L890.1 260.2 L899.2 254.6 L905.5 248.3 L910.4 245.5 L916 246.9 L945 247 L945 264.4 L914.6 264.4 L909 267.2 L908.3 274.2 L910.4 277 L918.1 279.8 L945 280 L945 288.2 L918.1 288.2 L909 291 L902 293.1 L895 298 L890.1 299.4 L884.5 296.6 L883.8 291 L881 286.8 L874 284 L869.8 281.2Z"/><path fill="url(#sg)" d="M945 300 L918.6 301.4 L910.1 304.8 L899.9 311.6 L891.4 321.8 L888 332 L891.4 340.5 L898.2 352.4 L908.4 366 L915.2 374.6 L922 381 L930 392 L935 405 L945 405Z"/><path fill="#161616" fill-opacity=".78" d="M884.7 365.2h5.1v1.7h-5.1z M885.6 367.4h3.2v1.4h-3.2zM709.2 368.9h5.5v1.7h-5.5z M710.5 371.1h2.8v1.4h-2.8zM858.4 313.8h8.2v1.7h-8.2z M860.4 316.0h4.1v1.4h-4.1zM848.5 315.5h7.9v1.7h-7.9z M850.4 317.7h4.1v1.4h-4.1zM904.5 389.9h7.8v1.7h-7.8z M906.3 392.1h4.2v1.4h-4.2zM765.0 270.5h7.0v1.7h-7.0z M766.3 272.7h4.3v1.4h-4.3zM801.4 327.8h7.5v1.7h-7.5z M803.3 330.0h3.8v1.4h-3.8zM816.5 348.7h7.3v1.7h-7.3z M818.4 350.9h3.6v1.4h-3.6zM823.9 313.4h5.9v1.7h-5.9z M824.9 315.6h3.8v1.4h-3.8zM711.6 343.7h5.5v1.7h-5.5z M712.8 345.9h3.1v1.4h-3.1zM842.9 205.8h5.4v1.7h-5.4z M844.0 208.0h3.2v1.4h-3.2zM803.9 244.5h5.6v1.7h-5.6z M805.2 246.7h3.0v1.4h-3.0zM819.8 190.0h8.4v1.7h-8.4z M821.6 192.2h4.7v1.4h-4.7zM764.6 237.6h6.8v1.7h-6.8z M766.4 239.8h3.1v1.4h-3.1zM786.9 226.3h5.9v1.7h-5.9z M788.4 228.5h2.8v1.4h-2.8zM745.6 376.1h7.2v1.7h-7.2z M747.5 378.3h3.5v1.4h-3.5zM751.2 280.7h5.6v1.7h-5.6z M752.6 282.9h2.7v1.4h-2.7zM856.2 351.5h7.6v1.7h-7.6z M857.7 353.7h4.7v1.4h-4.7zM856.9 222.1h6.0v1.7h-6.0z M858.3 224.3h3.2v1.4h-3.2zM775.0 281.5h6.0v1.7h-6.0z M776.2 283.7h3.5v1.4h-3.5zM885.8 376.0h7.0v1.7h-7.0z M887.6 378.2h3.4v1.4h-3.4zM752.3 375.9h5.5v1.7h-5.5z M753.4 378.1h3.4v1.4h-3.4zM741.5 361.6h6.0v1.7h-6.0z M742.6 363.8h3.7v1.4h-3.7zM794.2 399.3h5.6v1.7h-5.6z M795.6 401.5h2.7v1.4h-2.7zM762.7 350.7h5.2v1.7h-5.2z M763.6 352.9h3.5v1.4h-3.5zM793.2 281.2h6.9v1.7h-6.9z M795.0 283.4h3.1v1.4h-3.1zM877.7 263.7h6.2v1.7h-6.2z M878.9 265.9h3.8v1.4h-3.8zM786.7 196.4h5.8v1.7h-5.8z M787.6 198.6h3.8v1.4h-3.8zM863.3 309.4h5.0v1.7h-5.0z M864.3 311.6h2.9v1.4h-2.9zM863.3 281.1h7.0v1.7h-7.0z M865.1 283.3h3.5v1.4h-3.5zM834.7 369.8h8.5v1.7h-8.5z M836.4 372.0h5.0v1.4h-5.0zM788.1 326.6h5.5v1.7h-5.5z M789.1 328.8h3.5v1.4h-3.5zM817.5 379.0h5.1v1.7h-5.1z M818.4 381.2h3.2v1.4h-3.2zM698.3 352.7h7.9v1.7h-7.9z M699.8 354.9h4.8v1.4h-4.8zM814.9 249.1h5.1v1.7h-5.1z M816.3 251.3h2.4v1.4h-2.4zM820.8 386.2h7.9v1.7h-7.9z M822.2 388.4h5.2v1.4h-5.2zM927.4 399.6h5.9v1.7h-5.9z M928.4 401.8h4.1v1.4h-4.1zM817.2 291.2h7.8v1.7h-7.8z M819.2 293.4h3.7v1.4h-3.7zM764.7 329.2h8.1v1.7h-8.1z M766.9 331.4h3.7v1.4h-3.7zM758.1 334.8h6.1v1.7h-6.1z M759.6 337.0h3.1v1.4h-3.1zM769.2 375.7h5.7v1.7h-5.7z M770.4 377.9h3.3v1.4h-3.3zM776.4 344.0h5.2v1.7h-5.2z M777.2 346.2h3.6v1.4h-3.6zM797.0 245.7h5.7v1.7h-5.7z M798.1 247.9h3.6v1.4h-3.6zM789.4 316.4h6.2v1.7h-6.2z M790.4 318.6h4.2v1.4h-4.2zM779.7 315.0h7.0v1.7h-7.0z M781.2 317.2h4.0v1.4h-4.0zM802.1 319.1h7.7v1.7h-7.7z M803.7 321.3h4.5v1.4h-4.5zM837.0 398.8h6.6v1.7h-6.6z M838.6 401.0h3.2v1.4h-3.2zM837.3 340.7h7.8v1.7h-7.8z M838.9 342.9h4.7v1.4h-4.7zM793.8 302.2h6.6v1.7h-6.6z M794.8 304.4h4.6v1.4h-4.6zM808.0 237.8h6.6v1.7h-6.6z M809.2 240.0h4.2v1.4h-4.2zM895.5 356.7h5.6v1.7h-5.6z M896.7 358.9h3.0v1.4h-3.0zM859.0 295.1h7.2v1.7h-7.2z M860.8 297.3h3.7v1.4h-3.7zM907.7 238.7h8.5v1.7h-8.5z M909.0 240.9h5.9v1.4h-5.9zM772.7 246.1h7.3v1.7h-7.3z M774.0 248.3h4.6v1.4h-4.6zM796.5 333.1h5.9v1.7h-5.9z M797.6 335.3h3.8v1.4h-3.8zM799.2 348.9h8.0v1.7h-8.0z M800.9 351.1h4.5v1.4h-4.5zM699.5 399.7h7.0v1.7h-7.0z M700.8 401.9h4.3v1.4h-4.3zM925.9 236.8h5.9v1.7h-5.9z M927.5 239.0h2.7v1.4h-2.7zM912.9 211.4h5.6v1.7h-5.6z M914.1 213.6h3.3v1.4h-3.3zM758.0 362.7h7.2v1.7h-7.2z M759.2 364.9h4.8v1.4h-4.8zM877.4 184.6h5.9v1.7h-5.9z M879.0 186.8h2.9v1.4h-2.9zM837.0 382.1h6.5v1.7h-6.5z M838.6 384.3h3.2v1.4h-3.2zM941.1 236.8h5.9v1.7h-5.9z M942.4 239.0h3.4v1.4h-3.4zM710.7 389.6h7.4v1.7h-7.4z M712.7 391.8h3.5v1.4h-3.5zM823.4 391.2h5.6v1.7h-5.6z M824.7 393.4h3.2v1.4h-3.2zM930.0 263.5h6.8v1.7h-6.8z M931.7 265.7h3.4v1.4h-3.4zM920.7 295.0h7.3v1.7h-7.3z M922.2 297.2h4.3v1.4h-4.3zM719.7 275.7h8.4v1.7h-8.4z M721.0 277.9h5.8v1.4h-5.8zM810.1 300.7h7.2v1.7h-7.2z M812.0 302.9h3.4v1.4h-3.4zM709.1 266.0h6.8v1.7h-6.8z M710.8 268.2h3.5v1.4h-3.5zM869.6 238.8h6.0v1.7h-6.0z M871.2 241.0h2.8v1.4h-2.8zM718.2 263.4h7.4v1.7h-7.4z M719.6 265.6h4.6v1.4h-4.6zM728.1 272.9h6.0v1.7h-6.0z M729.6 275.1h3.0v1.4h-3.0zM837.1 197.7h8.5v1.7h-8.5z M838.8 199.9h5.0v1.4h-5.0zM748.8 305.9h7.4v1.7h-7.4z M750.6 308.1h3.8v1.4h-3.8zM650.5 286.6h8.3v1.7h-8.3z M652.0 288.8h5.2v1.4h-5.2zM693.8 374.6h6.8v1.7h-6.8z M695.6 376.8h3.2v1.4h-3.2zM647.8 256.8h6.5v1.7h-6.5z M649.6 259.0h3.0v1.4h-3.0zM692.6 345.2h5.7v1.7h-5.7z M693.6 347.4h3.7v1.4h-3.7zM665.6 292.6h5.4v1.7h-5.4z M667.0 294.8h2.7v1.4h-2.7zM635.3 332.1h6.2v1.7h-6.2z M636.2 334.3h4.3v1.4h-4.3zM666.3 360.5h5.6v1.7h-5.6z M667.6 362.7h3.1v1.4h-3.1zM681.6 321.5h6.9v1.7h-6.9z M683.5 323.7h3.2v1.4h-3.2zM743.2 255.8h7.4v1.7h-7.4z M744.4 257.9h5v1.4h-5zM831.9 261.5h6.2v1.7h-6.2z M832.5 263.6h5v1.4h-5zM851.1 254.4h6.8v1.7h-6.8z M852.0 256.5h5v1.4h-5zM866.2 255.8h6.8v1.7h-6.8z M867.1 257.9h5v1.4h-5zM856.8 265.9h8.5v1.7h-8.5z M858.5 268.0h5v1.4h-5zM830.1 280.3h7.1v1.7h-7.1z M831.1 282.4h5v1.4h-5zM635.5 290.9h6.7v1.7h-6.7z M636.4 293.0h5v1.4h-5zM706.0 308.1h6.8v1.7h-6.8z M706.9 310.2h5v1.4h-5zM763.6 333.3h6.8v1.7h-6.8z M764.5 335.4h5v1.4h-5zM746.6 369.3h6.4v1.7h-6.4z M747.3 371.4h5v1.4h-5zM716.6 375.5h6.8v1.7h-6.8z M717.5 377.6h5v1.4h-5zM635.0 346.3h7.7v1.7h-7.7z M636.4 348.4h5v1.4h-5zM796.4 307.4h6.9v1.7h-6.9z M797.3 309.5h5v1.4h-5zM821.7 326.1h6.6v1.7h-6.6z M822.5 328.2h5v1.4h-5zM775.9 330.5h6.1v1.7h-6.1z M776.4 332.6h5v1.4h-5zM786.4 355.7h8.0v1.7h-8.0z M787.9 357.8h5v1.4h-5zM859.7 300.2h6.7v1.7h-6.7z M860.6 302.3h5v1.4h-5zM855.5 338.4h6.7v1.7h-6.7z M856.3 340.5h5v1.4h-5zM833.1 366.5h8.1v1.7h-8.1z M834.7 368.6h5v1.4h-5zM856.8 356.4h8.4v1.7h-8.4z M858.5 358.5h5v1.4h-5zM891.8 367.9h7.4v1.7h-7.4z M893.0 370.0h5v1.4h-5zM902.5 290.9h6.2v1.7h-6.2z M903.1 293.0h5v1.4h-5zM903.0 300.2h8.1v1.7h-8.1z M904.5 302.3h5v1.4h-5zM826.7 380.9h7.9v1.7h-7.9z M828.2 383.0h5v1.4h-5zM830.6 282.9h6.0v1.7h-6.0z M831.1 285.0h5v1.4h-5zM782.6 289.5h6.7v1.7h-6.7z M783.5 291.6h5v1.4h-5zM738.0 295.5h8.1v1.7h-8.1z M739.5 297.6h5v1.4h-5zM645.9 257.5h9v1.7h-9z M647.4 259.6h6v1.4h-6zM668.5 275.0h9v1.7h-9z M670.0 277.1h6v1.4h-6zM686.5 275.0h9v1.7h-9z M688.0 277.1h6v1.4h-6zM694.5 284.5h9v1.7h-9z M696.0 286.6h6v1.4h-6zM735.2 269.5h9v1.7h-9z M736.7 271.6h6v1.4h-6zM723.5 274.5h9v1.7h-9z M725.0 276.6h6v1.4h-6zM747.5 241.5h9v1.7h-9z M749.0 243.6h6v1.4h-6zM710.5 192.5h9v1.7h-9z M712.0 194.6h6v1.4h-6zM735.5 200.9h9v1.7h-9z M737.0 203.0h6v1.4h-6zM732.5 209.5h9v1.7h-9z M734.0 211.6h6v1.4h-6zM817.5 213.3h9v1.7h-9z M819.0 215.4h6v1.4h-6zM846.4 194.0h9v1.7h-9z M847.9 196.1h6v1.4h-6zM660.5 304.0h9v1.7h-9z M662.0 306.1h6v1.4h-6zM681.5 299.5h9v1.7h-9z M683.0 301.6h6v1.4h-6zM666.5 326.5h9v1.7h-9z M668.0 328.6h6v1.4h-6zM701.5 323.5h9v1.7h-9z M703.0 325.6h6v1.4h-6zM715.5 315.0h9v1.7h-9z M717.0 317.1h6v1.4h-6zM694.5 372.5h9v1.7h-9z M696.0 374.6h6v1.4h-6zM715.5 370.5h9v1.7h-9z M717.0 372.6h6v1.4h-6zM640.5 280.5h9v1.7h-9z M642.0 282.6h6v1.4h-6zM653.5 288.5h9v1.7h-9z M655.0 290.6h6v1.4h-6zM685.5 343.5h9v1.7h-9z M687.0 345.6h6v1.4h-6zM707.5 348.5h9v1.7h-9z M709.0 350.6h6v1.4h-6zM695.5 364.5h9v1.7h-9z M697.0 366.6h6v1.4h-6zM681.5 201.5h9v1.7h-9z M683.0 203.6h6v1.4h-6zM714.5 200.5h9v1.7h-9z M716.0 202.6h6v1.4h-6zM734.5 200.5h9v1.7h-9z M736.0 202.6h6v1.4h-6zM741.5 208.5h9v1.7h-9z M743.0 210.6h6v1.4h-6zM666.5 188.0h9v1.7h-9z M668.0 190.1h6v1.4h-6zM756.5 187.5h9v1.7h-9z M758.0 189.6h6v1.4h-6zM755.5 226.5h9v1.7h-9z M757.0 228.6h6v1.4h-6zM780.5 230.5h9v1.7h-9z M782.0 232.6h6v1.4h-6zM795.5 224.5h9v1.7h-9z M797.0 226.6h6v1.4h-6zM825.5 234.5h9v1.7h-9z M827.0 236.6h6v1.4h-6z"/><text x="701.5" y="337.5" font-family="Liberation Sans" font-weight="bold" font-size="7" fill="#111">China</text><g transform="translate(746.9 262.3) rotate(40)"><rect x="-3.4" y="-1.8" width="6.8" height="3.6" rx="1.8" fill="#0a0f30"/><rect x="-2.6" y="-1.1" width="3.4" height="2.2" rx="1" fill="#1238b8"/></g><g transform="translate(884 223.4) rotate(90)"><rect x="-3.4" y="-1.8" width="6.8" height="3.6" rx="1.8" fill="#0a0f30"/><rect x="-2.6" y="-1.1" width="3.4" height="2.2" rx="1" fill="#1238b8"/></g><g transform="translate(835 268) rotate(90)"><rect x="-3.4" y="-1.8" width="6.8" height="3.6" rx="1.8" fill="#0a0f30"/><rect x="-2.6" y="-1.1" width="3.4" height="2.2" rx="1" fill="#1238b8"/></g><g transform="translate(850.9 259.4) rotate(90)"><rect x="-3.4" y="-1.8" width="6.8" height="3.6" rx="1.8" fill="#0a0f30"/><rect x="-2.6" y="-1.1" width="3.4" height="2.2" rx="1" fill="#2a90ff"/></g><g transform="translate(854.5 260.9) rotate(30)"><rect x="-3.4" y="-1.8" width="6.8" height="3.6" rx="1.8" fill="#0a0f30"/><rect x="-2.6" y="-1.1" width="3.4" height="2.2" rx="1" fill="#22b02a"/></g><g transform="translate(850.2 264.5) rotate(90)"><rect x="-3.4" y="-1.8" width="6.8" height="3.6" rx="1.8" fill="#0a0f30"/><rect x="-2.6" y="-1.1" width="3.4" height="2.2" rx="1" fill="#22b02a"/></g><g transform="translate(869.6 262.3) rotate(90)"><rect x="-3.4" y="-1.8" width="6.8" height="3.6" rx="1.8" fill="#0a0f30"/><rect x="-2.6" y="-1.1" width="3.4" height="2.2" rx="1" fill="#1238b8"/></g><g transform="translate(856.6 272.4) rotate(0)"><rect x="-3.4" y="-1.8" width="6.8" height="3.6" rx="1.8" fill="#0a0f30"/><rect x="-2.6" y="-1.1" width="3.4" height="2.2" rx="1" fill="#22b02a"/></g><g transform="translate(861 272.4) rotate(0)"><rect x="-3.4" y="-1.8" width="6.8" height="3.6" rx="1.8" fill="#0a0f30"/><rect x="-2.6" y="-1.1" width="3.4" height="2.2" rx="1" fill="#1238b8"/></g><g transform="translate(864.6 271) rotate(60)"><rect x="-3.4" y="-1.8" width="6.8" height="3.6" rx="1.8" fill="#0a0f30"/><rect x="-2.6" y="-1.1" width="3.4" height="2.2" rx="1" fill="#22b02a"/></g><g transform="translate(833.6 286.8) rotate(90)"><rect x="-3.4" y="-1.8" width="6.8" height="3.6" rx="1.8" fill="#0a0f30"/><rect x="-2.6" y="-1.1" width="3.4" height="2.2" rx="1" fill="#1238b8"/></g><g transform="translate(915.7 272.4) rotate(20)"><rect x="-3.4" y="-1.8" width="6.8" height="3.6" rx="1.8" fill="#0a0f30"/><rect x="-2.6" y="-1.1" width="3.4" height="2.2" rx="1" fill="#1238b8"/></g><g transform="translate(638.9 297.4) rotate(40)"><rect x="-3.4" y="-1.8" width="6.8" height="3.6" rx="1.8" fill="#0a0f30"/><rect x="-2.6" y="-1.1" width="3.4" height="2.2" rx="1" fill="#1238b8"/></g><g transform="translate(726.7 293) rotate(90)"><rect x="-3.4" y="-1.8" width="6.8" height="3.6" rx="1.8" fill="#0a0f30"/><rect x="-2.6" y="-1.1" width="3.4" height="2.2" rx="1" fill="#1238b8"/></g><g transform="translate(709.4 314.6) rotate(0)"><rect x="-3.4" y="-1.8" width="6.8" height="3.6" rx="1.8" fill="#0a0f30"/><rect x="-2.6" y="-1.1" width="3.4" height="2.2" rx="1" fill="#1238b8"/></g><g transform="translate(711.6 313.9) rotate(30)"><rect x="-3.4" y="-1.8" width="6.8" height="3.6" rx="1.8" fill="#0a0f30"/><rect x="-2.6" y="-1.1" width="3.4" height="2.2" rx="1" fill="#1238b8"/></g><g transform="translate(767 339.8) rotate(90)"><rect x="-3.4" y="-1.8" width="6.8" height="3.6" rx="1.8" fill="#0a0f30"/><rect x="-2.6" y="-1.1" width="3.4" height="2.2" rx="1" fill="#1238b8"/></g><g transform="translate(749.8 355.7) rotate(90)"><rect x="-3.4" y="-1.8" width="6.8" height="3.6" rx="1.8" fill="#0a0f30"/><rect x="-2.6" y="-1.1" width="3.4" height="2.2" rx="1" fill="#1238b8"/></g><g transform="translate(749.8 375.8) rotate(80)"><rect x="-3.4" y="-1.8" width="6.8" height="3.6" rx="1.8" fill="#0a0f30"/><rect x="-2.6" y="-1.1" width="3.4" height="2.2" rx="1" fill="#1238b8"/></g><g transform="translate(716.6 384.5) rotate(0)"><rect x="-3.4" y="-1.8" width="6.8" height="3.6" rx="1.8" fill="#0a0f30"/><rect x="-2.6" y="-1.1" width="3.4" height="2.2" rx="1" fill="#1238b8"/></g><g transform="translate(720 382) rotate(30)"><rect x="-3.4" y="-1.8" width="6.8" height="3.6" rx="1.8" fill="#0a0f30"/><rect x="-2.6" y="-1.1" width="3.4" height="2.2" rx="1" fill="#2a90ff"/></g><g transform="translate(713 388) rotate(0)"><rect x="-3.4" y="-1.8" width="6.8" height="3.6" rx="1.8" fill="#0a0f30"/><rect x="-2.6" y="-1.1" width="3.4" height="2.2" rx="1" fill="#22b02a"/></g><g transform="translate(638.9 352.8) rotate(90)"><rect x="-3.4" y="-1.8" width="6.8" height="3.6" rx="1.8" fill="#0a0f30"/><rect x="-2.6" y="-1.1" width="3.4" height="2.2" rx="1" fill="#1238b8"/></g><g transform="translate(793.3 302.4) rotate(40)"><rect x="-3.4" y="-1.8" width="6.8" height="3.6" rx="1.8" fill="#0a0f30"/><rect x="-2.6" y="-1.1" width="3.4" height="2.2" rx="1" fill="#22b02a"/></g><g transform="translate(799.8 313.9) rotate(90)"><rect x="-3.4" y="-1.8" width="6.8" height="3.6" rx="1.8" fill="#0a0f30"/><rect x="-2.6" y="-1.1" width="3.4" height="2.2" rx="1" fill="#1238b8"/></g><g transform="translate(807.7 337) rotate(90)"><rect x="-3.4" y="-1.8" width="6.8" height="3.6" rx="1.8" fill="#0a0f30"/><rect x="-2.6" y="-1.1" width="3.4" height="2.2" rx="1" fill="#1238b8"/></g><g transform="translate(825 332.6) rotate(60)"><rect x="-3.4" y="-1.8" width="6.8" height="3.6" rx="1.8" fill="#0a0f30"/><rect x="-2.6" y="-1.1" width="3.4" height="2.2" rx="1" fill="#1238b8"/></g><g transform="translate(793.3 329.8) rotate(50)"><rect x="-3.4" y="-1.8" width="6.8" height="3.6" rx="1.8" fill="#0a0f30"/><rect x="-2.6" y="-1.1" width="3.4" height="2.2" rx="1" fill="#1238b8"/></g><g transform="translate(778.9 337) rotate(10)"><rect x="-3.4" y="-1.8" width="6.8" height="3.6" rx="1.8" fill="#0a0f30"/><rect x="-2.6" y="-1.1" width="3.4" height="2.2" rx="1" fill="#1238b8"/></g><g transform="translate(816.3 354.2) rotate(90)"><rect x="-3.4" y="-1.8" width="6.8" height="3.6" rx="1.8" fill="#0a0f30"/><rect x="-2.6" y="-1.1" width="3.4" height="2.2" rx="1" fill="#1238b8"/></g><g transform="translate(790.4 362.2) rotate(20)"><rect x="-3.4" y="-1.8" width="6.8" height="3.6" rx="1.8" fill="#0a0f30"/><rect x="-2.6" y="-1.1" width="3.4" height="2.2" rx="1" fill="#22b02a"/></g><g transform="translate(856.6 310.3) rotate(0)"><rect x="-3.4" y="-1.8" width="6.8" height="3.6" rx="1.8" fill="#0a0f30"/><rect x="-2.6" y="-1.1" width="3.4" height="2.2" rx="1" fill="#22b02a"/></g><g transform="translate(863.1 306.7) rotate(70)"><rect x="-3.4" y="-1.8" width="6.8" height="3.6" rx="1.8" fill="#0a0f30"/><rect x="-2.6" y="-1.1" width="3.4" height="2.2" rx="1" fill="#1238b8"/></g><g transform="translate(865.3 337) rotate(40)"><rect x="-3.4" y="-1.8" width="6.8" height="3.6" rx="1.8" fill="#0a0f30"/><rect x="-2.6" y="-1.1" width="3.4" height="2.2" rx="1" fill="#1238b8"/></g><g transform="translate(858.8 344.9) rotate(90)"><rect x="-3.4" y="-1.8" width="6.8" height="3.6" rx="1.8" fill="#0a0f30"/><rect x="-2.6" y="-1.1" width="3.4" height="2.2" rx="1" fill="#1238b8"/></g><g transform="translate(846.6 369.4) rotate(90)"><rect x="-3.4" y="-1.8" width="6.8" height="3.6" rx="1.8" fill="#0a0f30"/><rect x="-2.6" y="-1.1" width="3.4" height="2.2" rx="1" fill="#2a90ff"/></g><g transform="translate(837.2 373) rotate(90)"><rect x="-3.4" y="-1.8" width="6.8" height="3.6" rx="1.8" fill="#0a0f30"/><rect x="-2.6" y="-1.1" width="3.4" height="2.2" rx="1" fill="#2a90ff"/></g><g transform="translate(862.4 373) rotate(90)"><rect x="-3.4" y="-1.8" width="6.8" height="3.6" rx="1.8" fill="#0a0f30"/><rect x="-2.6" y="-1.1" width="3.4" height="2.2" rx="1" fill="#1238b8"/></g><g transform="translate(861 362.9) rotate(90)"><rect x="-3.4" y="-1.8" width="6.8" height="3.6" rx="1.8" fill="#0a0f30"/><rect x="-2.6" y="-1.1" width="3.4" height="2.2" rx="1" fill="#1238b8"/></g><g transform="translate(881.1 368.6) rotate(40)"><rect x="-3.4" y="-1.8" width="6.8" height="3.6" rx="1.8" fill="#0a0f30"/><rect x="-2.6" y="-1.1" width="3.4" height="2.2" rx="1" fill="#1238b8"/></g><g transform="translate(895.5 374.4) rotate(90)"><rect x="-3.4" y="-1.8" width="6.8" height="3.6" rx="1.8" fill="#0a0f30"/><rect x="-2.6" y="-1.1" width="3.4" height="2.2" rx="1" fill="#1238b8"/></g><g transform="translate(893.4 345.6) rotate(90)"><rect x="-3.4" y="-1.8" width="6.8" height="3.6" rx="1.8" fill="#0a0f30"/><rect x="-2.6" y="-1.1" width="3.4" height="2.2" rx="1" fill="#1238b8"/></g><g transform="translate(905.6 297.4) rotate(0)"><rect x="-3.4" y="-1.8" width="6.8" height="3.6" rx="1.8" fill="#0a0f30"/><rect x="-2.6" y="-1.1" width="3.4" height="2.2" rx="1" fill="#1238b8"/></g><g transform="translate(912.8 296.6) rotate(0)"><rect x="-3.4" y="-1.8" width="6.8" height="3.6" rx="1.8" fill="#0a0f30"/><rect x="-2.6" y="-1.1" width="3.4" height="2.2" rx="1" fill="#1238b8"/></g><g transform="translate(907 306.7) rotate(90)"><rect x="-3.4" y="-1.8" width="6.8" height="3.6" rx="1.8" fill="#0a0f30"/><rect x="-2.6" y="-1.1" width="3.4" height="2.2" rx="1" fill="#22b02a"/></g><g transform="translate(807.7 383) rotate(40)"><rect x="-3.4" y="-1.8" width="6.8" height="3.6" rx="1.8" fill="#0a0f30"/><rect x="-2.6" y="-1.1" width="3.4" height="2.2" rx="1" fill="#1238b8"/></g><g transform="translate(830.7 387.4) rotate(0)"><rect x="-3.4" y="-1.8" width="6.8" height="3.6" rx="1.8" fill="#0a0f30"/><rect x="-2.6" y="-1.1" width="3.4" height="2.2" rx="1" fill="#2a90ff"/></g><g transform="translate(902.7 387.4) rotate(30)"><rect x="-3.4" y="-1.8" width="6.8" height="3.6" rx="1.8" fill="#0a0f30"/><rect x="-2.6" y="-1.1" width="3.4" height="2.2" rx="1" fill="#22b02a"/></g><g transform="translate(833.6 289.4) rotate(90)"><rect x="-3.4" y="-1.8" width="6.8" height="3.6" rx="1.8" fill="#0a0f30"/><rect x="-2.6" y="-1.1" width="3.4" height="2.2" rx="1" fill="#1238b8"/></g><g transform="translate(770 247) rotate(60)"><rect x="-3.4" y="-1.8" width="6.8" height="3.6" rx="1.8" fill="#0a0f30"/><rect x="-2.6" y="-1.1" width="3.4" height="2.2" rx="1" fill="#1238b8"/></g><g transform="translate(786 296) rotate(90)"><rect x="-3.4" y="-1.8" width="6.8" height="3.6" rx="1.8" fill="#0a0f30"/><rect x="-2.6" y="-1.1" width="3.4" height="2.2" rx="1" fill="#1238b8"/></g><g transform="translate(720 360) rotate(90)"><rect x="-3.4" y="-1.8" width="6.8" height="3.6" rx="1.8" fill="#0a0f30"/><rect x="-2.6" y="-1.1" width="3.4" height="2.2" rx="1" fill="#1238b8"/></g><g transform="translate(742 302) rotate(90)"><rect x="-3.4" y="-1.8" width="6.8" height="3.6" rx="1.8" fill="#0a0f30"/><rect x="-2.6" y="-1.1" width="3.4" height="2.2" rx="1" fill="#1238b8"/></g><rect x="757" y="271.6" width="74" height="24.5" fill="#fff" stroke="#d8d8d8" stroke-width=".4"/><text x="829" y="275" font-size="3" fill="#666" font-family="Liberation Sans">&#215;</text><path fill="#333" fill-opacity=".75" d="M759 274.2h14v1.2h-14zM759 277.5h34v1.2h-34zM759 280.8h30v1.2h-30zM759 284.09999999999997h12v1.2h-12zM759 287.4h20v1.2h-20z"/><circle cx="802" cy="284.6" r=".9" fill="#2a86f6"/><path fill="#1a6ee8" fill-opacity=".85" d="M759 291.2h11v1.5h-11zM773 291.2h9v1.5h-9zM785 291.2h10v1.5h-10zM798 291.2h9v1.5h-9zM810 291.2h8v1.5h-8z"/><rect x="642.6" y="193.2" width="6.4" height="58" rx="3.2" fill="#fff" fill-opacity=".55" stroke="#9ab2ea" stroke-width=".5"/><circle cx="645.8" cy="196.6" r="2.6" fill="#fff" stroke="#9ab2ea" stroke-width=".4"/><line x1="644.8" y1="196.6" x2="646.8" y2="196.6" stroke="#555" stroke-width=".4"/><line x1="645.8" y1="200" x2="645.8" y2="236" stroke="#c8d2e8" stroke-width=".8"/><rect x="644.9" y="236.4" width="1.8" height="8" fill="#3a6ee8"/><path d="M643.8 237.8 L645.8 234.6 L647.8 237.8Z" fill="#555"/><circle cx="645.8" cy="248.2" r="2.6" fill="#fff" stroke="#9ab2ea" stroke-width=".4"/></svg></div><div class="base" style="left:509px;top:405px"><div class="notch"></div></div><div class="bezel" style="left:73px;top:563px"><div class="cam"></div><div class="hinge"></div></div><div class="screen" style="left:82.4px;top:576px;width:359.8px;height:224.8px"><div class="a" style="left:0;top:0;width:359.8px;height:17.7px;background:linear-gradient(180deg,#2c9ef2 0,#1a88ee 50%,#0f62d8 100%)"></div><div class="a" style="left:12.1px;top:0;width:43.4px;height:17.7px;background:linear-gradient(180deg,#0a7af4,#0672f0 80%,#0a5ad8)"></div><div class="a" style="left:71.2px;top:0;width:36.8px;height:17.7px;background:#fff"></div><svg class="a" style="left:80.7px;top:6.2px" width="4" height="5.5" viewBox="0 0 4 5.5"><path d="M2 .4 C1 .4 .5 1.2 .5 2 C.5 3.2 2 5.1 2 5.1 C2 5.1 3.5 3.2 3.5 2 C3.5 1.2 3 .4 2 .4Z" fill="none" stroke="#8ab8ee" stroke-width=".5"/></svg><div class="t" style="left:85.2px;top:7.25px;font-size:3.6px;color:#3a8ae6;">Monitor</div><svg class="a" style="left:117.0px;top:5.8px" width="4.5" height="6" viewBox="0 0 4.5 6"><rect x=".5" y=".5" width="3.5" height="5" rx=".7" fill="none" stroke="#e6f0ff" stroke-width=".6"/></svg><div class="t" style="left:122.5px;top:7.05px;font-size:4.0px;color:#f4f9ff;"><b>Report</b></div><svg class="a" style="left:152.0px;top:6.2px" width="5" height="5" viewBox="0 0 5 5"><rect x=".4" y=".4" width="4.2" height="4.2" fill="none" stroke="#e6f0ff" stroke-width=".6"/><line x1=".4" y1="2.5" x2="4.6" y2="2.5" stroke="#e6f0ff" stroke-width=".45"/></svg><div class="t" style="left:158.0px;top:7.05px;font-size:4.0px;color:#f4f9ff;"><b>Device</b></div><div class="a" style="left:0;top:17.7px;width:71.2px;height:208px;background:#fff"></div><div class="a" style="left:0;top:18.8px;width:71.2px;height:5.8px;background:linear-gradient(180deg,#e2e5ea,#c4c9d1);border-bottom:.5px solid #aab"></div><div class="t" style="left:4px;top:20.3px;font-size:3.2px;color:#556;">Customers</div><svg class="a" style="left:65.2px;top:19.8px" width="4.5" height="4.5" viewBox="0 0 5 5"><circle cx="2" cy="2" r="1.5" fill="none" stroke="#3a7be0" stroke-width=".8"/><line x1="3" y1="3" x2="4.6" y2="4.6" stroke="#3a7be0" stroke-width=".8"/></svg><div class="a" style="left:8px;top:27.3px;width:28.5px;height:4.6px;background:#ffe58a;border-radius:1px"></div><svg class="a" style="left:5px;top:27.3px" width="4" height="5" viewBox="0 0 4 5"><path d="M2 0 L4 3 L0 3Z" fill="#f08a1a"/><rect x=".3" y="3" width="3.4" height="2" fill="#35a0e8"/></svg><div class="t" style="left:10px;top:28.3px;font-size:3.4px;color:#4a3a10;">admin(2/12)</div><div class="t" style="left:2px;top:32.599999999999994px;font-size:3.4px;color:#333;">&#9656;</div><svg class="a" style="left:7px;top:32.3px" width="4" height="5" viewBox="0 0 4 5"><path d="M2 0 L3.6 3 L.4 3Z" fill="#e8401a"/><rect x=".3" y="3" width="3.4" height="2" fill="#2a7ee8"/><rect x="2" y="3" width="1.7" height="2" fill="#35b82a"/></svg><div class="t" style="left:12px;top:33.3px;font-size:3.4px;color:#333;">yuerTuo(1/3)</div><div class="t" style="left:2px;top:37.199999999999996px;font-size:3.4px;color:#333;">&#9656;</div><svg class="a" style="left:7px;top:36.9px" width="4" height="5" viewBox="0 0 4 5"><path d="M2 0 L3.6 3 L.4 3Z" fill="#e8401a"/><rect x=".3" y="3" width="3.4" height="2" fill="#2a7ee8"/><rect x="2" y="3" width="1.7" height="2" fill="#35b82a"/></svg><div class="t" style="left:12px;top:37.9px;font-size:3.4px;color:#333;">yuHbuyBa&#33457;(0/0)</div><div class="a" style="left:0;top:92.6px;width:71.2px;height:2.5px;background:#f2f2f2"></div><div class="a" style="left:31.6px;top:93.1px;width:8px;height:1.2px;background:#ccc"></div><div class="a" style="left:0;top:95.6px;width:71.2px;height:6px;background:#eef2f8"></div><div class="t" style="left:1.5px;top:97.0px;font-size:3.4px;color:#3a8ee8;">Name</div><div class="a" style="left:13px;top:95.6px;width:58.2px;height:6px;background:linear-gradient(180deg,#96aed0,#7793bd)"></div><div class="t" style="left:16px;top:96.89999999999999px;font-size:3.4px;color:#1a1f30;"><b>Alert</b></div><div class="a" style="left:24px;top:95.89999999999999px;width:3px;height:3px;border-radius:50%;background:#e81010"></div><div class="t" style="left:29px;top:96.89999999999999px;font-size:3.4px;color:#1a1f30;"><b>Mark</b></div><div class="a" style="left:3px;top:104.1px;width:44.1px;height:5px;border:.4px solid #e2e2e2;background:#fff"></div><div class="t" style="left:6px;top:105.19999999999999px;font-size:3px;color:#999;">Target/IMEI</div><div class="a" style="left:48.4px;top:104.1px;width:15.7px;height:5px;border:.4px solid #ddd;background:#fafafa"></div><div class="t" style="left:50.839999999999996px;top:105.19999999999999px;font-size:3.2px;color:#333;">Search</div><div class="a" style="left:0;top:111.3px;width:71.2px;height:5.5px;background:#f3f3f3"></div><div class="t" style="left:1.4145695364238413px;top:112.5px;font-size:3.2px;color:#333;">All(10)</div><div class="t" style="left:13.202649006622517px;top:112.5px;font-size:3.2px;color:#333;"><b>Online(8)</b></div><div class="t" style="left:30.17748344370861px;top:112.5px;font-size:3.2px;color:#333;"><b>Offline(0)</b></div><div class="t" style="left:46.20927152317881px;top:112.5px;font-size:3.2px;color:#333;"><b>Expired(0)</b></div><div class="a" style="left:52.7px;top:118.8px;width:3.5px;height:3.5px;border-radius:50%;background:#111"></div><div class="t" style="left:57.188px;top:119.2px;font-size:3.2px;color:#333;">Add group</div><div class="a" style="left:.6px;top:127.1px;width:1.3px;height:2.8px;background:#55dd00"></div><div class="t" style="left:3px;top:126.7px;font-size:3.5px;color:#18c018;"><b>1 T8 18</b></div><div class="t" style="left:42.72px;top:126.60000000000001px;font-size:3.5px;color:#04a604;"><b>Move 16km/h</b></div><div class="a" style="left:.6px;top:133.9px;width:1.3px;height:2.8px;background:#55dd00"></div><div class="t" style="left:3px;top:133.50000000000003px;font-size:3.5px;color:#18c018;"><b>8 N0 4k</b></div><div class="t" style="left:42.72px;top:133.4px;font-size:3.5px;color:#04a604;"><b>Move 16km/h</b></div><div class="a" style="left:.6px;top:140.7px;width:1.3px;height:2.8px;background:#55dd00"></div><div class="t" style="left:3px;top:140.30000000000004px;font-size:3.5px;color:#18c018;"><b>9 8 4600</b></div><div class="t" style="left:42.72px;top:140.20000000000002px;font-size:3.5px;color:#04a604;"><b>Move 16km/h</b></div><div class="a" style="left:.6px;top:147.5px;width:1.3px;height:2.8px;background:#55dd00"></div><div class="t" style="left:3px;top:147.10000000000005px;font-size:3.5px;color:#18c018;"><b>7 T8 4k</b></div><div class="t" style="left:42.72px;top:147.00000000000003px;font-size:3.5px;color:#04a604;"><b>Move 16km/h</b></div><div class="a" style="left:.6px;top:154.3px;width:1.3px;height:2.8px;background:#55dd00"></div><div class="t" style="left:3px;top:153.90000000000006px;font-size:3.5px;color:#18c018;"><b>2 58 2m</b></div><div class="t" style="left:42.72px;top:153.80000000000004px;font-size:3.5px;color:#04a604;"><b>Move 16km/h</b></div><div class="a" style="left:1px;top:160.9px;width:69.2px;height:10.5px;background:linear-gradient(90deg,#c3daf5,#dbe9f9)"></div><div class="t" style="left:2.5px;top:160.70000000000007px;font-size:3.3px;color:#2aa52a;"><b>3 T0 00000</b></div><div class="t" style="left:42.72px;top:160.50000000000006px;font-size:3.3px;color:#0a9a0a;"><b>Move 0km/h</b></div><div class="t" style="left:32.04px;top:165.50000000000006px;font-size:3.1px;color:#334;"><b>Tracking | Playback | More</b></div><div class="a" style="left:.6px;top:174.7px;width:1.3px;height:2.8px;background:#55dd00"></div><div class="t" style="left:3px;top:174.30000000000007px;font-size:3.5px;color:#18c018;"><b>5 T8 4e</b></div><div class="t" style="left:42.72px;top:174.20000000000005px;font-size:3.5px;color:#04a604;"><b>Move 16km/h</b></div><div class="a" style="left:.6px;top:181.5px;width:1.3px;height:2.8px;background:#55dd00"></div><div class="t" style="left:3px;top:181.10000000000008px;font-size:3.5px;color:#18c018;"><b>3 T8 4k</b></div><div class="t" style="left:42.72px;top:181.00000000000006px;font-size:3.5px;color:#04a604;"><b>Move 16km/h</b></div><div class="a" style="left:.6px;top:188.3px;width:1.3px;height:2.8px;background:#55dd00"></div><div class="t" style="left:3px;top:187.9000000000001px;font-size:3.5px;color:#18c018;"><b>6 0l 2m</b></div><div class="t" style="left:42.72px;top:187.80000000000007px;font-size:3.5px;color:#04a604;"><b>Move 16km/h</b></div><div class="a" style="left:.6px;top:195.1px;width:1.3px;height:2.8px;background:#55dd00"></div><div class="t" style="left:3px;top:194.7000000000001px;font-size:3.5px;color:#18c018;"><b>4 T8 4m</b></div><div class="t" style="left:42.72px;top:194.60000000000008px;font-size:3.5px;color:#04a604;"><b>Move 16km/h</b></div><div class="a" style="left:.6px;top:201.9px;width:1.3px;height:2.8px;background:#55dd00"></div><div class="t" style="left:3px;top:201.5000000000001px;font-size:3.5px;color:#18c018;"><b>X T8 4k</b></div><div class="t" style="left:42.72px;top:201.4000000000001px;font-size:3.5px;color:#04a604;"><b>Move 16km/h</b></div><div class="a" style="left:.6px;top:208.7px;width:1.3px;height:2.8px;background:#55dd00"></div><div class="t" style="left:3px;top:208.30000000000013px;font-size:3.5px;color:#18c018;"><b>1 N0 4k</b></div><div class="t" style="left:42.72px;top:208.2000000000001px;font-size:3.5px;color:#04a604;"><b>Move 16km/h</b></div><div class="a" style="left:.6px;top:215.5px;width:1.3px;height:2.8px;background:#55dd00"></div><div class="t" style="left:3px;top:215.10000000000014px;font-size:3.5px;color:#18c018;"><b>5 T8 2m</b></div><div class="t" style="left:42.72px;top:215.0000000000001px;font-size:3.5px;color:#04a604;"><b>Move 16km/h</b></div><div class="a" style="left:.6px;top:222.3px;width:1.3px;height:2.8px;background:#55dd00"></div><div class="t" style="left:3px;top:221.90000000000015px;font-size:3.5px;color:#18c018;"><b>8 T8 4k</b></div><div class="t" style="left:42.72px;top:221.80000000000013px;font-size:3.5px;color:#04a604;"><b>Move 16km/h</b></div><div class="a" style="left:71.2px;top:17.7px;width:.6px;height:208px;background:#d8d8d8"></div><div class="a" style="left:71.3px;top:17.7px;width:289px;height:6.3px;background:#fff"></div><div class="t" style="left:76.3px;top:19.7px;font-size:2.9px;color:#3a2a1a;">Refresh</div><div class="t" style="left:86.8px;top:19.7px;font-size:2.9px;color:#3a2a1a;">15s</div><div class="t" style="left:97.8px;top:19.7px;font-size:2.9px;color:#6a2a1a;">Alarm(0)</div><div class="t" style="left:109.8px;top:19.7px;font-size:2.9px;color:#5a3a1a;">Follow target</div><div class="t" style="left:130.8px;top:19.7px;font-size:2.9px;color:#7a4a10;">Tracking</div><div class="a" style="left:94.6px;top:20.2px;width:1.6px;height:1.6px;border-radius:50%;background:#e01818"></div><svg class="a" style="left:71.2px;top:24px" width="288.6" height="200.8" viewBox="153.6 600 288.6 200.8"><rect x="140" y="590" width="320" height="230" fill="#f6f6f6"/><rect x="331.9" y="749.1" width="12.4" height="7.8" fill="#e4e4e4" stroke="#d4d4d4" stroke-width=".3" transform="rotate(-25 331.9 749.1)"/><rect x="395.4" y="756.0" width="8.0" height="4.2" fill="#e8e8e8" stroke="#d4d4d4" stroke-width=".3" transform="rotate(-25 395.4 756.0)"/><rect x="183.1" y="694.3" width="8.0" height="6.2" fill="#e8e8e8" stroke="#d4d4d4" stroke-width=".3" transform="rotate(-25 183.1 694.3)"/><rect x="153.8" y="643.6" width="8.2" height="7.7" fill="#dedede" stroke="#d4d4d4" stroke-width=".3" transform="rotate(-25 153.8 643.6)"/><rect x="196.6" y="760.2" width="7.1" height="6.5" fill="#e8e8e8" stroke="#d4d4d4" stroke-width=".3" transform="rotate(-25 196.6 760.2)"/><rect x="188.6" y="795.4" width="6.0" height="7.1" fill="#e8e8e8" stroke="#d4d4d4" stroke-width=".3" transform="rotate(-25 188.6 795.4)"/><rect x="404.7" y="658.2" width="13.7" height="6.2" fill="#e8e8e8" stroke="#d4d4d4" stroke-width=".3" transform="rotate(-25 404.7 658.2)"/><rect x="203.0" y="794.7" width="7.6" height="7.9" fill="#dedede" stroke="#d4d4d4" stroke-width=".3" transform="rotate(-25 203.0 794.7)"/><rect x="237.2" y="672.6" width="7.3" height="4.6" fill="#e4e4e4" stroke="#d4d4d4" stroke-width=".3" transform="rotate(-25 237.2 672.6)"/><rect x="246.9" y="764.3" width="10.7" height="6.4" fill="#ececec" stroke="#d4d4d4" stroke-width=".3" transform="rotate(-25 246.9 764.3)"/><rect x="169.3" y="671.4" width="8.4" height="6.8" fill="#e8e8e8" stroke="#d4d4d4" stroke-width=".3" transform="rotate(-25 169.3 671.4)"/><rect x="290.5" y="741.6" width="6.5" height="7.9" fill="#e4e4e4" stroke="#d4d4d4" stroke-width=".3" transform="rotate(-25 290.5 741.6)"/><rect x="427.2" y="671.9" width="9.2" height="6.2" fill="#dedede" stroke="#d4d4d4" stroke-width=".3" transform="rotate(-25 427.2 671.9)"/><rect x="256.9" y="716.3" width="6.1" height="4.2" fill="#e8e8e8" stroke="#d4d4d4" stroke-width=".3" transform="rotate(-25 256.9 716.3)"/><rect x="332.1" y="791.8" width="7.0" height="5.0" fill="#dedede" stroke="#d4d4d4" stroke-width=".3" transform="rotate(-25 332.1 791.8)"/><rect x="250.6" y="671.3" width="10.2" height="7.1" fill="#e4e4e4" stroke="#d4d4d4" stroke-width=".3" transform="rotate(-25 250.6 671.3)"/><rect x="322.2" y="757.0" width="8.9" height="5.2" fill="#dedede" stroke="#d4d4d4" stroke-width=".3" transform="rotate(-25 322.2 757.0)"/><rect x="426.2" y="618.3" width="8.7" height="6.4" fill="#e8e8e8" stroke="#d4d4d4" stroke-width=".3" transform="rotate(-25 426.2 618.3)"/><rect x="249.3" y="785.8" width="10.4" height="5.2" fill="#ececec" stroke="#d4d4d4" stroke-width=".3" transform="rotate(-25 249.3 785.8)"/><rect x="239.4" y="760.6" width="11.0" height="6.9" fill="#ececec" stroke="#d4d4d4" stroke-width=".3" transform="rotate(-25 239.4 760.6)"/><rect x="441.0" y="632.5" width="6.4" height="7.9" fill="#dedede" stroke="#d4d4d4" stroke-width=".3" transform="rotate(-25 441.0 632.5)"/><rect x="159.3" y="748.9" width="8.8" height="5.0" fill="#dedede" stroke="#d4d4d4" stroke-width=".3" transform="rotate(-25 159.3 748.9)"/><rect x="192.5" y="796.8" width="11.1" height="7.2" fill="#ececec" stroke="#d4d4d4" stroke-width=".3" transform="rotate(-25 192.5 796.8)"/><rect x="394.8" y="626.2" width="11.9" height="7.8" fill="#dedede" stroke="#d4d4d4" stroke-width=".3" transform="rotate(-25 394.8 626.2)"/><rect x="181.1" y="687.3" width="7.2" height="7.4" fill="#ececec" stroke="#d4d4d4" stroke-width=".3" transform="rotate(-25 181.1 687.3)"/><rect x="191.2" y="785.3" width="11.0" height="4.7" fill="#dedede" stroke="#d4d4d4" stroke-width=".3" transform="rotate(-25 191.2 785.3)"/><rect x="430.4" y="738.5" width="8.5" height="5.1" fill="#dedede" stroke="#d4d4d4" stroke-width=".3" transform="rotate(-25 430.4 738.5)"/><rect x="267.9" y="629.4" width="9.0" height="8.0" fill="#e8e8e8" stroke="#d4d4d4" stroke-width=".3" transform="rotate(-25 267.9 629.4)"/><rect x="333.1" y="700.4" width="8.7" height="4.4" fill="#ececec" stroke="#d4d4d4" stroke-width=".3" transform="rotate(-25 333.1 700.4)"/><rect x="300.4" y="710.2" width="10.0" height="4.3" fill="#ececec" stroke="#d4d4d4" stroke-width=".3" transform="rotate(-25 300.4 710.2)"/><rect x="352.8" y="733.5" width="12.1" height="5.5" fill="#ececec" stroke="#d4d4d4" stroke-width=".3" transform="rotate(-25 352.8 733.5)"/><rect x="393.9" y="653.2" width="13.8" height="6.9" fill="#ececec" stroke="#d4d4d4" stroke-width=".3" transform="rotate(-25 393.9 653.2)"/><rect x="339.7" y="716.7" width="6.1" height="6.2" fill="#ececec" stroke="#d4d4d4" stroke-width=".3" transform="rotate(-25 339.7 716.7)"/><rect x="245.2" y="655.0" width="8.3" height="6.0" fill="#ececec" stroke="#d4d4d4" stroke-width=".3" transform="rotate(-25 245.2 655.0)"/><rect x="251.6" y="729.5" width="11.9" height="7.3" fill="#ececec" stroke="#d4d4d4" stroke-width=".3" transform="rotate(-25 251.6 729.5)"/><rect x="419.3" y="634.7" width="12.9" height="5.8" fill="#ececec" stroke="#d4d4d4" stroke-width=".3" transform="rotate(-25 419.3 634.7)"/><rect x="429.3" y="704.1" width="10.2" height="4.7" fill="#ececec" stroke="#d4d4d4" stroke-width=".3" transform="rotate(-25 429.3 704.1)"/><rect x="423.7" y="695.9" width="11.5" height="6.9" fill="#dedede" stroke="#d4d4d4" stroke-width=".3" transform="rotate(-25 423.7 695.9)"/><rect x="200.2" y="756.9" width="10.6" height="6.7" fill="#dedede" stroke="#d4d4d4" stroke-width=".3" transform="rotate(-25 200.2 756.9)"/><rect x="238.4" y="711.2" width="12.9" height="5.1" fill="#e4e4e4" stroke="#d4d4d4" stroke-width=".3" transform="rotate(-25 238.4 711.2)"/><rect x="207.1" y="717.9" width="11.0" height="4.7" fill="#e8e8e8" stroke="#d4d4d4" stroke-width=".3" transform="rotate(-25 207.1 717.9)"/><rect x="334.2" y="608.4" width="9.8" height="4.9" fill="#e4e4e4" stroke="#d4d4d4" stroke-width=".3" transform="rotate(-25 334.2 608.4)"/><rect x="410.4" y="622.3" width="13.7" height="5.9" fill="#e4e4e4" stroke="#d4d4d4" stroke-width=".3" transform="rotate(-25 410.4 622.3)"/><rect x="271.3" y="670.6" width="11.3" height="4.3" fill="#e8e8e8" stroke="#d4d4d4" stroke-width=".3" transform="rotate(-25 271.3 670.6)"/><rect x="219.5" y="781.5" width="6.0" height="5.6" fill="#ececec" stroke="#d4d4d4" stroke-width=".3" transform="rotate(-25 219.5 781.5)"/><rect x="399.9" y="774.1" width="11.5" height="6.2" fill="#e4e4e4" stroke="#d4d4d4" stroke-width=".3" transform="rotate(-25 399.9 774.1)"/><rect x="310.6" y="660.6" width="8.4" height="6.1" fill="#ececec" stroke="#d4d4d4" stroke-width=".3" transform="rotate(-25 310.6 660.6)"/><rect x="429.8" y="764.5" width="9.4" height="7.3" fill="#ececec" stroke="#d4d4d4" stroke-width=".3" transform="rotate(-25 429.8 764.5)"/><rect x="286.5" y="631.5" width="9.1" height="5.9" fill="#e8e8e8" stroke="#d4d4d4" stroke-width=".3" transform="rotate(-25 286.5 631.5)"/><rect x="432.7" y="722.3" width="8.8" height="7.6" fill="#e4e4e4" stroke="#d4d4d4" stroke-width=".3" transform="rotate(-25 432.7 722.3)"/><rect x="261.5" y="665.5" width="13.3" height="6.2" fill="#ececec" stroke="#d4d4d4" stroke-width=".3" transform="rotate(-25 261.5 665.5)"/><rect x="333.8" y="779.1" width="9.0" height="5.7" fill="#e8e8e8" stroke="#d4d4d4" stroke-width=".3" transform="rotate(-25 333.8 779.1)"/><rect x="294.1" y="696.4" width="11.7" height="5.5" fill="#e8e8e8" stroke="#d4d4d4" stroke-width=".3" transform="rotate(-25 294.1 696.4)"/><rect x="324.0" y="652.2" width="13.8" height="6.0" fill="#dedede" stroke="#d4d4d4" stroke-width=".3" transform="rotate(-25 324.0 652.2)"/><rect x="155.7" y="790.0" width="8.5" height="7.7" fill="#e8e8e8" stroke="#d4d4d4" stroke-width=".3" transform="rotate(-25 155.7 790.0)"/><rect x="289.3" y="624.5" width="11.0" height="5.8" fill="#ececec" stroke="#d4d4d4" stroke-width=".3" transform="rotate(-25 289.3 624.5)"/><rect x="161.7" y="627.4" width="9.1" height="5.9" fill="#ececec" stroke="#d4d4d4" stroke-width=".3" transform="rotate(-25 161.7 627.4)"/><rect x="221.1" y="695.3" width="6.3" height="6.0" fill="#e8e8e8" stroke="#d4d4d4" stroke-width=".3" transform="rotate(-25 221.1 695.3)"/><rect x="360.7" y="657.4" width="9.9" height="8.0" fill="#e4e4e4" stroke="#d4d4d4" stroke-width=".3" transform="rotate(-25 360.7 657.4)"/><rect x="154.7" y="625.3" width="8.3" height="6.8" fill="#ececec" stroke="#d4d4d4" stroke-width=".3" transform="rotate(-25 154.7 625.3)"/><rect x="363.5" y="605.3" width="8.8" height="6.7" fill="#e8e8e8" stroke="#d4d4d4" stroke-width=".3" transform="rotate(-25 363.5 605.3)"/><rect x="160.6" y="650.7" width="9.6" height="7.7" fill="#e8e8e8" stroke="#d4d4d4" stroke-width=".3" transform="rotate(-25 160.6 650.7)"/><rect x="154.3" y="756.5" width="9.4" height="6.3" fill="#dedede" stroke="#d4d4d4" stroke-width=".3" transform="rotate(-25 154.3 756.5)"/><rect x="400.7" y="769.1" width="9.8" height="6.7" fill="#e8e8e8" stroke="#d4d4d4" stroke-width=".3" transform="rotate(-25 400.7 769.1)"/><rect x="412.5" y="693.5" width="12.1" height="5.2" fill="#e4e4e4" stroke="#d4d4d4" stroke-width=".3" transform="rotate(-25 412.5 693.5)"/><rect x="352.8" y="687.0" width="8.3" height="7.1" fill="#ececec" stroke="#d4d4d4" stroke-width=".3" transform="rotate(-25 352.8 687.0)"/><rect x="191.7" y="696.2" width="10.4" height="6.0" fill="#ececec" stroke="#d4d4d4" stroke-width=".3" transform="rotate(-25 191.7 696.2)"/><rect x="307.1" y="685.5" width="10.3" height="4.2" fill="#e8e8e8" stroke="#d4d4d4" stroke-width=".3" transform="rotate(-25 307.1 685.5)"/><rect x="228.0" y="617.1" width="6.5" height="7.8" fill="#ececec" stroke="#d4d4d4" stroke-width=".3" transform="rotate(-25 228.0 617.1)"/><rect x="361.0" y="796.7" width="14.0" height="6.8" fill="#e4e4e4" stroke="#d4d4d4" stroke-width=".3" transform="rotate(-25 361.0 796.7)"/><rect x="186.0" y="624.6" width="10.9" height="7.3" fill="#e4e4e4" stroke="#d4d4d4" stroke-width=".3" transform="rotate(-25 186.0 624.6)"/><rect x="358.0" y="627.1" width="8.3" height="7.7" fill="#e8e8e8" stroke="#d4d4d4" stroke-width=".3" transform="rotate(-25 358.0 627.1)"/><rect x="203.5" y="637.2" width="12.4" height="4.3" fill="#e8e8e8" stroke="#d4d4d4" stroke-width=".3" transform="rotate(-25 203.5 637.2)"/><rect x="162.7" y="621.8" width="9.0" height="4.3" fill="#e4e4e4" stroke="#d4d4d4" stroke-width=".3" transform="rotate(-25 162.7 621.8)"/><rect x="316.8" y="623.8" width="9.2" height="6.5" fill="#e4e4e4" stroke="#d4d4d4" stroke-width=".3" transform="rotate(-25 316.8 623.8)"/><rect x="276.0" y="663.2" width="10.8" height="6.0" fill="#ececec" stroke="#d4d4d4" stroke-width=".3" transform="rotate(-25 276.0 663.2)"/><rect x="417.1" y="627.8" width="8.4" height="6.3" fill="#ececec" stroke="#d4d4d4" stroke-width=".3" transform="rotate(-25 417.1 627.8)"/><rect x="415.8" y="711.5" width="11.0" height="5.1" fill="#e8e8e8" stroke="#d4d4d4" stroke-width=".3" transform="rotate(-25 415.8 711.5)"/><rect x="224.2" y="750.9" width="10.1" height="4.5" fill="#e8e8e8" stroke="#d4d4d4" stroke-width=".3" transform="rotate(-25 224.2 750.9)"/><rect x="402.1" y="691.1" width="9.1" height="4.5" fill="#e4e4e4" stroke="#d4d4d4" stroke-width=".3" transform="rotate(-25 402.1 691.1)"/><rect x="341.3" y="617.1" width="11.3" height="4.4" fill="#e4e4e4" stroke="#d4d4d4" stroke-width=".3" transform="rotate(-25 341.3 617.1)"/><rect x="297.9" y="691.2" width="9.1" height="5.9" fill="#ececec" stroke="#d4d4d4" stroke-width=".3" transform="rotate(-25 297.9 691.2)"/><rect x="181.4" y="706.7" width="10.3" height="5.5" fill="#e8e8e8" stroke="#d4d4d4" stroke-width=".3" transform="rotate(-25 181.4 706.7)"/><rect x="425.8" y="686.3" width="12.4" height="7.0" fill="#e4e4e4" stroke="#d4d4d4" stroke-width=".3" transform="rotate(-25 425.8 686.3)"/><rect x="434.0" y="733.7" width="12.6" height="4.6" fill="#dedede" stroke="#d4d4d4" stroke-width=".3" transform="rotate(-25 434.0 733.7)"/><rect x="253.5" y="647.2" width="8.7" height="6.5" fill="#ececec" stroke="#d4d4d4" stroke-width=".3" transform="rotate(-25 253.5 647.2)"/><rect x="382.4" y="676.0" width="11.8" height="5.4" fill="#ececec" stroke="#d4d4d4" stroke-width=".3" transform="rotate(-25 382.4 676.0)"/><rect x="384.9" y="687.1" width="12.8" height="6.1" fill="#e8e8e8" stroke="#d4d4d4" stroke-width=".3" transform="rotate(-25 384.9 687.1)"/><rect x="366.1" y="679.5" width="6.8" height="4.1" fill="#e8e8e8" stroke="#d4d4d4" stroke-width=".3" transform="rotate(-25 366.1 679.5)"/><rect x="207.1" y="698.5" width="13.5" height="6.6" fill="#ececec" stroke="#d4d4d4" stroke-width=".3" transform="rotate(-25 207.1 698.5)"/><rect x="150.1" y="694.5" width="13.1" height="6.5" fill="#dedede" stroke="#d4d4d4" stroke-width=".3" transform="rotate(-25 150.1 694.5)"/><rect x="244.4" y="692.8" width="7.5" height="6.6" fill="#e4e4e4" stroke="#d4d4d4" stroke-width=".3" transform="rotate(-25 244.4 692.8)"/><rect x="259.4" y="677.5" width="13.0" height="4.6" fill="#ececec" stroke="#d4d4d4" stroke-width=".3" transform="rotate(-25 259.4 677.5)"/><rect x="182.2" y="764.5" width="12.0" height="6.7" fill="#e4e4e4" stroke="#d4d4d4" stroke-width=".3" transform="rotate(-25 182.2 764.5)"/><rect x="290.8" y="606.5" width="13.4" height="5.5" fill="#e4e4e4" stroke="#d4d4d4" stroke-width=".3" transform="rotate(-25 290.8 606.5)"/><rect x="350.8" y="735.4" width="9.8" height="7.8" fill="#e4e4e4" stroke="#d4d4d4" stroke-width=".3" transform="rotate(-25 350.8 735.4)"/><rect x="379.3" y="665.2" width="9.6" height="5.0" fill="#e8e8e8" stroke="#d4d4d4" stroke-width=".3" transform="rotate(-25 379.3 665.2)"/><rect x="159.8" y="743.7" width="10.6" height="6.6" fill="#dedede" stroke="#d4d4d4" stroke-width=".3" transform="rotate(-25 159.8 743.7)"/><rect x="416.2" y="742.0" width="11.4" height="4.7" fill="#ececec" stroke="#d4d4d4" stroke-width=".3" transform="rotate(-25 416.2 742.0)"/><rect x="232.7" y="747.2" width="11.7" height="4.7" fill="#e8e8e8" stroke="#d4d4d4" stroke-width=".3" transform="rotate(-25 232.7 747.2)"/><rect x="201.3" y="642.0" width="6.4" height="6.4" fill="#ececec" stroke="#d4d4d4" stroke-width=".3" transform="rotate(-25 201.3 642.0)"/><rect x="151.8" y="612.2" width="12.2" height="5.6" fill="#e4e4e4" stroke="#d4d4d4" stroke-width=".3" transform="rotate(-25 151.8 612.2)"/><rect x="159.7" y="767.9" width="12.7" height="6.3" fill="#e4e4e4" stroke="#d4d4d4" stroke-width=".3" transform="rotate(-25 159.7 767.9)"/><rect x="359.2" y="647.6" width="12.4" height="4.4" fill="#dedede" stroke="#d4d4d4" stroke-width=".3" transform="rotate(-25 359.2 647.6)"/><rect x="165.7" y="648.9" width="6.4" height="5.6" fill="#e4e4e4" stroke="#d4d4d4" stroke-width=".3" transform="rotate(-25 165.7 648.9)"/><rect x="164.0" y="767.5" width="9.6" height="6.6" fill="#e4e4e4" stroke="#d4d4d4" stroke-width=".3" transform="rotate(-25 164.0 767.5)"/><rect x="427.4" y="639.1" width="11.6" height="6.6" fill="#e8e8e8" stroke="#d4d4d4" stroke-width=".3" transform="rotate(-25 427.4 639.1)"/><rect x="305.1" y="617.0" width="8.5" height="4.4" fill="#e8e8e8" stroke="#d4d4d4" stroke-width=".3" transform="rotate(-25 305.1 617.0)"/><rect x="324.7" y="772.2" width="7.7" height="4.1" fill="#ececec" stroke="#d4d4d4" stroke-width=".3" transform="rotate(-25 324.7 772.2)"/><rect x="292.1" y="714.9" width="9.0" height="6.5" fill="#e4e4e4" stroke="#d4d4d4" stroke-width=".3" transform="rotate(-25 292.1 714.9)"/><path fill="none" stroke="#dedede" stroke-width="3.4" d="M150 700 L442 640 M150 760 L442 700 M170 600 L250 801 M210 600 L300 801 M150 650 L300 620 M230 700 L270 801 M340 600 L442 660 M330 801 L442 740 M150 730 L240 690 M260 600 L330 700 M380 600 L442 620 M180 801 L260 740"/><path fill="none" stroke="#ffffff" stroke-width="2.6" d="M150 700 L442 640 M150 760 L442 700 M170 600 L250 801 M210 600 L300 801 M150 650 L300 620 M230 700 L270 801 M340 600 L442 660 M330 801 L442 740 M150 730 L240 690 M260 600 L330 700 M380 600 L442 620 M180 801 L260 740"/><path fill="#f6efd9" d="M396 681 L442 672 L442 739 L400 745Z"/><path fill="#f4ecd6" d="M210 720 L250 712 L256 740 L215 748Z"/><path fill="#9fd68f" d="M176.2 601 L195 601 L238.5 619 L240 637 L184.5 653.5 L176.2 611.5Z"/><path fill="none" stroke="#f4f4f4" stroke-width="2.2" d="M190.5 600 Q178 612 181 624 Q186 631 198 632 Q202 640 205.5 647"/><rect x="182" y="615" width="9" height="3" fill="#f3f3f3" transform="rotate(-14 182 615)"/><rect x="190" y="633" width="8" height="3" fill="#f3f3f3" transform="rotate(-14 190 633)"/><rect x="200" y="615" width="5" height="2.5" fill="#f3f3f3" transform="rotate(-14 200 615)"/><rect x="213" y="623" width="10" height="3" fill="#f3f3f3" transform="rotate(-14 213 623)"/><rect x="208" y="638" width="9" height="3" fill="#f3f3f3" transform="rotate(-14 208 638)"/><rect x="222" y="637" width="5" height="2.5" fill="#f3f3f3" transform="rotate(-14 222 637)"/><rect x="186" y="610" width="3" height="2" fill="#f3f3f3" transform="rotate(-14 186 610)"/><rect x="193" y="628" width="2.5" height="2" fill="#f3f3f3" transform="rotate(-14 193 628)"/><path fill="#b3dea0" d="M380 763 L396 762 L404 780 L390 790 Z"/><path fill="#b8e2a8" d="M200 780 L214 774 L222 790 L206 796Z"/><path fill="#c2e6b2" d="M384 801 L400 790 L420 801Z"/><path fill="none" stroke="#e8b820" stroke-width="2.2" d="M153 613 L171 600 M153 620 L177 602"/><path fill="none" stroke="#8a6a20" stroke-width=".6" d="M153 611 L169 600 M153 622 L179 602"/><path fill="#98cff8" d="M276 600 L309 600 L449 801 L417 801Z"/><path fill="none" stroke="#4a98ea" stroke-width="1.2" d="M278 600 L419 801"/><path fill="none" stroke="#6aaef0" stroke-width=".7" d="M307 600 L447 801"/><path fill="#93a862" d="M266 745 L320 721 L327 733 L273 757Z"/><path fill="#c8b070" d="M327 683 L334 680 L347 700 L340 703Z"/><path fill="#141414" fill-opacity=".8" d="M415.2 663.0h9.1v1.2h-9.1z M415.2 664.9h6.4v1.2h-6.4zM390.5 646.7h6.8v1.2h-6.8z M390.5 648.6h4.8v1.2h-4.8zM243.8 620.1h11.4v1.2h-11.4z M243.8 622.0h8.0v1.2h-8.0zM388.5 664.0h6.9v1.2h-6.9z M388.5 665.9h4.8v1.2h-4.8zM178.4 650.7h6.6v1.2h-6.6z M178.4 652.6h4.6v1.2h-4.6zM277.2 715.5h7.7v1.2h-7.7z M277.2 717.4h5.4v1.2h-5.4zM172.5 739.6h6.3v1.2h-6.3z M172.5 741.5h4.4v1.2h-4.4zM212.0 658.8h8.6v1.2h-8.6z M212.0 660.7h6.0v1.2h-6.0zM183.1 685.0h8.2v1.2h-8.2z M183.1 686.9h5.7v1.2h-5.7zM369.4 711.4h12.3v1.2h-12.3z M369.4 713.3h8.6v1.2h-8.6zM341.4 751.1h10.0v1.2h-10.0z M341.4 753.0h7.0v1.2h-7.0zM281.0 762.3h10.6v1.2h-10.6z M281.0 764.2h7.4v1.2h-7.4zM427.1 745.0h10.9v1.2h-10.9z M427.1 746.9h7.6v1.2h-7.6zM231.3 761.4h8.7v1.2h-8.7z M231.3 763.3h6.1v1.2h-6.1zM192.1 615.9h7.2v1.2h-7.2z M192.1 617.8h5.0v1.2h-5.0zM229.8 734.8h8.0v1.2h-8.0z M229.8 736.7h5.6v1.2h-5.6zM173.1 751.9h9.9v1.2h-9.9z M173.1 753.8h6.9v1.2h-6.9zM162.8 612.9h6.9v1.2h-6.9z M162.8 614.8h4.8v1.2h-4.8zM256.8 770.7h12.6v1.2h-12.6z M256.8 772.6h8.9v1.2h-8.9zM329.4 648.1h9.0v1.2h-9.0z M329.4 650.0h6.3v1.2h-6.3zM258.3 667.4h6.1v1.2h-6.1z M258.3 669.3h4.3v1.2h-4.3zM321.6 764.2h11.1v1.2h-11.1z M321.6 766.1h7.8v1.2h-7.8zM182.2 706.4h7.2v1.2h-7.2z M182.2 708.3h5.0v1.2h-5.0zM357.2 690.0h12.6v1.2h-12.6z M357.2 691.9h8.8v1.2h-8.8zM381.5 626.0h8.2v1.2h-8.2z M381.5 627.9h5.8v1.2h-5.8zM415.8 692.9h9.0v1.2h-9.0z M415.8 694.8h6.3v1.2h-6.3zM280.8 752.7h12.6v1.2h-12.6z M280.8 754.6h8.8v1.2h-8.8zM306.8 792.1h10.2v1.2h-10.2z M306.8 794.0h7.1v1.2h-7.1zM184.5 761.8h8.9v1.2h-8.9z M184.5 763.7h6.3v1.2h-6.3zM169.9 793.7h6.2v1.2h-6.2z M169.9 795.6h4.4v1.2h-4.4zM319.4 697.0h12.2v1.2h-12.2z M319.4 698.9h8.5v1.2h-8.5zM266.9 645.0h7.9v1.2h-7.9z M266.9 646.9h5.6v1.2h-5.6zM212.3 712.7h8.5v1.2h-8.5z M212.3 714.6h5.9v1.2h-5.9zM369.1 650.1h8.5v1.2h-8.5z M369.1 652.0h5.9v1.2h-5.9zM225.7 794.6h11.9v1.2h-11.9z M225.7 796.5h8.3v1.2h-8.3zM397.2 723.5h8.8v1.2h-8.8z M397.2 725.4h6.2v1.2h-6.2zM195.8 765.2h9.4v1.2h-9.4z M195.8 767.1h6.6v1.2h-6.6zM165.8 636.1h6.7v1.2h-6.7z M165.8 638.0h4.7v1.2h-4.7zM359.5 778.5h7.4v1.2h-7.4z M359.5 780.4h5.2v1.2h-5.2zM382.2 666.2h10.8v1.2h-10.8z M382.2 668.1h7.5v1.2h-7.5zM401.0 724.5h11.6v1.2h-11.6z M401.0 726.4h8.1v1.2h-8.1zM262.3 605.0h9.6v1.2h-9.6z M262.3 606.9h6.7v1.2h-6.7zM322.2 639.0h8.7v1.2h-8.7z M322.2 640.9h6.1v1.2h-6.1zM245.4 608.3h8.2v1.2h-8.2z M245.4 610.2h5.7v1.2h-5.7zM264.1 695.8h10.9v1.2h-10.9z M264.1 697.7h7.6v1.2h-7.6zM268.7 794.6h11.7v1.2h-11.7z M268.7 796.5h8.2v1.2h-8.2zM418.3 738.1h10.7v1.2h-10.7z M418.3 740.0h7.5v1.2h-7.5zM308.0 758.7h8.5v1.2h-8.5z M308.0 760.6h6.0v1.2h-6.0zM324.2 735.5h9.7v1.2h-9.7z M324.2 737.4h6.8v1.2h-6.8zM236.0 618.2h6.6v1.2h-6.6z M236.0 620.1h4.6v1.2h-4.6zM256.4 716.2h11.3v1.2h-11.3z M256.4 718.1h7.9v1.2h-7.9zM358.6 662.8h12.5v1.2h-12.5z M358.6 664.7h8.8v1.2h-8.8zM233.3 742.6h6.5v1.2h-6.5z M233.3 744.5h4.6v1.2h-4.6zM369.7 733.6h12.7v1.2h-12.7z M369.7 735.5h8.9v1.2h-8.9zM410.7 737.1h11.9v1.2h-11.9z M410.7 739.0h8.3v1.2h-8.3zM183.0 642.0h11v1.3h-11z M183.0 644.0h8v1.3h-8zM185.0 660.0h11v1.3h-11z M185.0 662.0h8v1.3h-8zM203.0 672.0h11v1.3h-11z M203.0 674.0h8v1.3h-8zM228.0 686.0h11v1.3h-11z M228.0 688.0h8v1.3h-8zM238.0 700.0h11v1.3h-11z M238.0 702.0h8v1.3h-8zM200.0 700.0h11v1.3h-11z M200.0 702.0h8v1.3h-8zM248.0 715.0h11v1.3h-11z M248.0 717.0h8v1.3h-8zM212.0 730.0h11v1.3h-11z M212.0 732.0h8v1.3h-8zM165.0 740.0h11v1.3h-11z M165.0 742.0h8v1.3h-8zM190.0 752.0h11v1.3h-11z M190.0 754.0h8v1.3h-8zM236.0 760.0h11v1.3h-11z M236.0 762.0h8v1.3h-8zM356.0 612.0h11v1.3h-11z M356.0 614.0h8v1.3h-8zM382.0 650.0h11v1.3h-11z M382.0 652.0h8v1.3h-8zM395.0 646.0h11v1.3h-11z M395.0 648.0h8v1.3h-8zM370.0 780.0h11v1.3h-11z M370.0 782.0h8v1.3h-8zM390.0 770.0h11v1.3h-11z M390.0 772.0h8v1.3h-8zM172.0 779.0h11v1.3h-11z M172.0 781.0h8v1.3h-8zM265.0 770.0h11v1.3h-11z M265.0 772.0h8v1.3h-8z"/><path fill="#e050c0" fill-opacity=".7" d="M412 686h12v1.3h-12z M412 688.5h9v1.3h-9z M406 734h18v1.3h-18z M404 737h20v1.3h-20z M406 740h14v1.3h-14z"/><path transform="translate(157 683) scale(1.1)" d="M0 0 C-1.8 -2.2 -3 -3.4 -3 -5 A3 3 0 0 1 3 -5 C3 -3.4 1.8 -2.2 0 0Z" fill="#1a73e8"/><circle cx="157" cy="677.5" r="1.2100000000000002" fill="#fff"/><path transform="translate(199 713) scale(1.0)" d="M0 0 C-1.8 -2.2 -3 -3.4 -3 -5 A3 3 0 0 1 3 -5 C3 -3.4 1.8 -2.2 0 0Z" fill="#f06a1a"/><circle cx="199" cy="708.0" r="1.1" fill="#fff"/><path transform="translate(175 800) scale(0.8)" d="M0 0 C-1.8 -2.2 -3 -3.4 -3 -5 A3 3 0 0 1 3 -5 C3 -3.4 1.8 -2.2 0 0Z" fill="#1a73e8"/><circle cx="175" cy="796.0" r="0.8800000000000001" fill="#fff"/><path transform="translate(226 776) scale(0.8)" d="M0 0 C-1.8 -2.2 -3 -3.4 -3 -5 A3 3 0 0 1 3 -5 C3 -3.4 1.8 -2.2 0 0Z" fill="#1a73e8"/><circle cx="226" cy="772.0" r="0.8800000000000001" fill="#fff"/><circle cx="322.7" cy="700.7" r="66" fill="#f04848" fill-opacity=".52" stroke="#e82a2a" stroke-width="1.3"/><path transform="translate(317 683) scale(0.9)" d="M0 0 C-1.8 -2.2 -3 -3.4 -3 -5 A3 3 0 0 1 3 -5 C3 -3.4 1.8 -2.2 0 0Z" fill="#8a4ab8"/><circle cx="317" cy="678.5" r="0.9900000000000001" fill="#fff"/><path transform="translate(272 716) scale(0.9)" d="M0 0 C-1.8 -2.2 -3 -3.4 -3 -5 A3 3 0 0 1 3 -5 C3 -3.4 1.8 -2.2 0 0Z" fill="#8a4ab8"/><circle cx="272" cy="711.5" r="0.9900000000000001" fill="#fff"/><path transform="translate(270 727) scale(0.9)" d="M0 0 C-1.8 -2.2 -3 -3.4 -3 -5 A3 3 0 0 1 3 -5 C3 -3.4 1.8 -2.2 0 0Z" fill="#8a4ab8"/><circle cx="270" cy="722.5" r="0.9900000000000001" fill="#fff"/><path transform="translate(323 705) scale(0.9)" d="M0 0 C-1.8 -2.2 -3 -3.4 -3 -5 A3 3 0 0 1 3 -5 C3 -3.4 1.8 -2.2 0 0Z" fill="#8a4ab8"/><circle cx="323" cy="700.5" r="0.9900000000000001" fill="#fff"/><rect x="256.7" y="634.4" width="131.9" height="132.5" fill="none" stroke="#555" stroke-width=".9"/><circle cx="256.7" cy="634.4" r="1.9" fill="#333" stroke="#222" stroke-width=".4"/><circle cx="388.6" cy="634.4" r="1.9" fill="#333" stroke="#222" stroke-width=".4"/><circle cx="256.7" cy="766.9" r="1.9" fill="#333" stroke="#222" stroke-width=".4"/><circle cx="388.6" cy="766.9" r="1.9" fill="#333" stroke="#222" stroke-width=".4"/><circle cx="322.7" cy="634.4" r="1.9" fill="#3a8a8a" stroke="#222" stroke-width=".4"/><circle cx="256.7" cy="700.7" r="1.9" fill="#3a8a8a" stroke="#222" stroke-width=".4"/><circle cx="388.6" cy="700.7" r="1.9" fill="#3a8a8a" stroke="#222" stroke-width=".4"/><circle cx="322.7" cy="766.9" r="1.9" fill="#3a8a8a" stroke="#222" stroke-width=".4"/><circle cx="322.7" cy="700.7" r="1.9" fill="#5aa0a0" stroke="#222" stroke-width=".4"/><rect x="282.6" y="654.6" width="76.4" height="27.2" fill="#fff" stroke="#ddd" stroke-width=".4"/><path fill="#333" fill-opacity=".75" d="M285 657.5h14v1.2h-14zM285 661.1h34v1.2h-34zM285 664.7h30v1.2h-30zM285 668.3h12v1.2h-12zM285 671.9h20v1.2h-20z"/><path fill="#1a6ee8" fill-opacity=".85" d="M285 676.5h11v1.5h-11z M298 676.5h9v1.5h-9z M309 676.5h10v1.5h-10z M321 676.5h9v1.5h-9z M332 676.5h8v1.5h-8z"/><circle cx="327.5" cy="666.5" r=".9" fill="#2a86f6"/><rect x="328.3" y="704" width="90.3" height="17.8" fill="#fff" stroke="#ccd" stroke-width=".3"/><rect x="328.3" y="704" width="90.3" height="8.8" fill="#1756c8"/><rect x="368" y="705.5" width="48.8" height="5.6" fill="#fff"/><path fill="#fff" d="M331 707.4h6v1.3h-6z M341 707.4h8v1.3h-8z M352 707.4h1v1.3h-1z M356 707.4h6v1.3h-6z"/><path fill="#aaa" d="M371 707.7h28v1h-28z"/><path fill="#555" d="M332 715.7h18v1.1h-18z M353 715.7h17v1.1h-17z"/><rect x="390.5" y="714" width="14.5" height="5" fill="#1e1e24"/><rect x="406.5" y="714" width="10" height="5" fill="#f05a10"/><path fill="#ddd" d="M394 716h7v1h-7z"/><rect x="158.3" y="610" width="6" height="52" rx="3" fill="#fff" fill-opacity=".5" stroke="#a8bce8" stroke-width=".4"/><line x1="161.3" y1="622" x2="161.3" y2="660" stroke="#3a64d8" stroke-width="1.3"/><path d="M159.5 622 L161.3 618.8 L163.1 622Z" fill="#555"/></svg></div><div class="base" style="left:29px;top:815px"><div class="notch"></div></div><div class="bezel" style="left:553px;top:563px"><div class="cam"></div><div class="hinge"></div></div><div class="screen" style="left:562.2px;top:573.9px;width:357.8px;height:226.8px"><div class="a" style="left:0;top:0;width:357.8px;height:15.7px;background:linear-gradient(180deg,#2c9ef2 0,#1a88ee 50%,#0f62d8 100%)"></div><div class="a" style="left:12.0px;top:0;width:43.2px;height:15.7px;background:linear-gradient(180deg,#0a7af4,#0672f0 80%,#0a5ad8)"></div><div class="a" style="left:70.8px;top:0;width:35px;height:15.7px;background:#fff"></div><svg class="a" style="left:80.3px;top:5.2px" width="4" height="5.5" viewBox="0 0 4 5.5"><path d="M2 .4 C1 .4 .5 1.2 .5 2 C.5 3.2 2 5.1 2 5.1 C2 5.1 3.5 3.2 3.5 2 C3.5 1.2 3 .4 2 .4Z" fill="none" stroke="#8ab8ee" stroke-width=".5"/></svg><div class="t" style="left:84.8px;top:6.25px;font-size:3.6px;color:#3a8ae6;">Monitor</div><svg class="a" style="left:114.8px;top:4.8px" width="4.5" height="6" viewBox="0 0 4.5 6"><rect x=".5" y=".5" width="3.5" height="5" rx=".7" fill="none" stroke="#e6f0ff" stroke-width=".6"/></svg><div class="t" style="left:120.3px;top:6.05px;font-size:4.0px;color:#f4f9ff;"><b>Report</b></div><svg class="a" style="left:149.8px;top:5.2px" width="5" height="5" viewBox="0 0 5 5"><rect x=".4" y=".4" width="4.2" height="4.2" fill="none" stroke="#e6f0ff" stroke-width=".6"/><line x1=".4" y1="2.5" x2="4.6" y2="2.5" stroke="#e6f0ff" stroke-width=".45"/></svg><div class="t" style="left:155.8px;top:6.05px;font-size:4.0px;color:#f4f9ff;"><b>Device</b></div><div class="a" style="left:0;top:15.7px;width:70.8px;height:211px;background:#fff"></div><div class="a" style="left:0;top:16.3px;width:70.8px;height:5.8px;background:linear-gradient(180deg,#e2e5ea,#c4c9d1);border-bottom:.5px solid #aab"></div><div class="t" style="left:4px;top:17.8px;font-size:3.2px;color:#556;">Customers</div><svg class="a" style="left:64.8px;top:17.3px" width="4.5" height="4.5" viewBox="0 0 5 5"><circle cx="2" cy="2" r="1.5" fill="none" stroke="#3a7be0" stroke-width=".8"/><line x1="3" y1="3" x2="4.6" y2="4.6" stroke="#3a7be0" stroke-width=".8"/></svg><div class="a" style="left:8px;top:24.8px;width:28.3px;height:4.6px;background:#ffe58a;border-radius:1px"></div><svg class="a" style="left:5px;top:24.8px" width="4" height="5" viewBox="0 0 4 5"><path d="M2 0 L4 3 L0 3Z" fill="#f08a1a"/><rect x=".3" y="3" width="3.4" height="2" fill="#35a0e8"/></svg><div class="t" style="left:10px;top:25.8px;font-size:3.4px;color:#4a3a10;">admin(2/12)</div><div class="t" style="left:2px;top:30.1px;font-size:3.4px;color:#333;">&#9656;</div><svg class="a" style="left:7px;top:29.8px" width="4" height="5" viewBox="0 0 4 5"><path d="M2 0 L3.6 3 L.4 3Z" fill="#e8401a"/><rect x=".3" y="3" width="3.4" height="2" fill="#2a7ee8"/><rect x="2" y="3" width="1.7" height="2" fill="#35b82a"/></svg><div class="t" style="left:12px;top:30.8px;font-size:3.4px;color:#333;">yuerTuo(1/3)</div><div class="t" style="left:2px;top:34.699999999999996px;font-size:3.4px;color:#333;">&#9656;</div><svg class="a" style="left:7px;top:34.4px" width="4" height="5" viewBox="0 0 4 5"><path d="M2 0 L3.6 3 L.4 3Z" fill="#e8401a"/><rect x=".3" y="3" width="3.4" height="2" fill="#2a7ee8"/><rect x="2" y="3" width="1.7" height="2" fill="#35b82a"/></svg><div class="t" style="left:12px;top:35.4px;font-size:3.4px;color:#333;">yuHbuyBa&#33457;(0/0)</div><div class="a" style="left:0;top:87.1px;width:70.8px;height:2.5px;background:#f2f2f2"></div><div class="a" style="left:31.4px;top:87.6px;width:8px;height:1.2px;background:#ccc"></div><div class="a" style="left:0;top:90.1px;width:70.8px;height:6px;background:#eef2f8"></div><div class="t" style="left:1.5px;top:91.5px;font-size:3.4px;color:#3a8ee8;">Name</div><div class="a" style="left:13px;top:90.1px;width:57.8px;height:6px;background:linear-gradient(180deg,#96aed0,#7793bd)"></div><div class="t" style="left:16px;top:91.39999999999999px;font-size:3.4px;color:#1a1f30;"><b>Alert</b></div><div class="a" style="left:24px;top:90.39999999999999px;width:3px;height:3px;border-radius:50%;background:#e81010"></div><div class="t" style="left:29px;top:91.39999999999999px;font-size:3.4px;color:#1a1f30;"><b>Mark</b></div><div class="a" style="left:3px;top:98.6px;width:43.9px;height:5px;border:.4px solid #e2e2e2;background:#fff"></div><div class="t" style="left:6px;top:99.69999999999999px;font-size:3px;color:#999;">Target/IMEI</div><div class="a" style="left:48.1px;top:98.6px;width:15.6px;height:5px;border:.4px solid #ddd;background:#fafafa"></div><div class="t" style="left:50.559999999999995px;top:99.69999999999999px;font-size:3.2px;color:#333;">Search</div><div class="a" style="left:0;top:105.8px;width:70.8px;height:5.5px;background:#f3f3f3"></div><div class="t" style="left:1.4066225165562913px;top:107.0px;font-size:3.2px;color:#333;">All(10)</div><div class="t" style="left:13.128476821192052px;top:107.0px;font-size:3.2px;color:#333;"><b>Online(8)</b></div><div class="t" style="left:30.007947019867547px;top:107.0px;font-size:3.2px;color:#333;"><b>Offline(0)</b></div><div class="t" style="left:45.94966887417218px;top:107.0px;font-size:3.2px;color:#333;"><b>Expired(0)</b></div><div class="a" style="left:52.4px;top:113.3px;width:3.5px;height:3.5px;border-radius:50%;background:#111"></div><div class="t" style="left:56.891999999999996px;top:113.7px;font-size:3.2px;color:#333;">Add group</div><div class="t" style="left:4px;top:119.8px;font-size:3.2px;color:#555;">Group name</div><div class="a" style="left:1px;top:128.1px;width:68.8px;height:10.5px;background:linear-gradient(90deg,#c3daf5,#dbe9f9)"></div><div class="t" style="left:2.5px;top:129.4px;font-size:3.3px;color:#2aa52a;"><b>3 T0 00000</b></div><div class="t" style="left:42.48px;top:129.2px;font-size:3.3px;color:#0a9a0a;"><b>Move 0km/h</b></div><div class="t" style="left:31.86px;top:134.2px;font-size:3.1px;color:#334;"><b>Tracking | Playback | More</b></div><div class="a" style="left:.6px;top:141.5px;width:1.3px;height:2.8px;background:#55dd00"></div><div class="t" style="left:3px;top:141.1px;font-size:3.5px;color:#18c018;"><b>1 T8 18</b></div><div class="t" style="left:42.48px;top:140.99999999999997px;font-size:3.5px;color:#04a604;"><b>Move 16km/h</b></div><div class="a" style="left:.6px;top:148.0px;width:1.3px;height:2.8px;background:#55dd00"></div><div class="t" style="left:3px;top:147.65px;font-size:3.5px;color:#18c018;"><b>8 N0 4k</b></div><div class="t" style="left:42.48px;top:147.54999999999998px;font-size:3.5px;color:#04a604;"><b>Move 16km/h</b></div><div class="a" style="left:.6px;top:154.6px;width:1.3px;height:2.8px;background:#55dd00"></div><div class="t" style="left:3px;top:154.20000000000002px;font-size:3.5px;color:#18c018;"><b>9 8 4600</b></div><div class="t" style="left:42.48px;top:154.1px;font-size:3.5px;color:#04a604;"><b>Move 16km/h</b></div><div class="a" style="left:.6px;top:161.2px;width:1.3px;height:2.8px;background:#55dd00"></div><div class="t" style="left:3px;top:160.75000000000003px;font-size:3.5px;color:#18c018;"><b>7 T8 4k</b></div><div class="t" style="left:42.48px;top:160.65px;font-size:3.5px;color:#04a604;"><b>Move 16km/h</b></div><div class="a" style="left:.6px;top:167.7px;width:1.3px;height:2.8px;background:#55dd00"></div><div class="t" style="left:3px;top:167.30000000000004px;font-size:3.5px;color:#18c018;"><b>2 58 2m</b></div><div class="t" style="left:42.48px;top:167.20000000000002px;font-size:3.5px;color:#04a604;"><b>Move 16km/h</b></div><div class="a" style="left:.6px;top:174.3px;width:1.3px;height:2.8px;background:#55dd00"></div><div class="t" style="left:3px;top:173.85000000000005px;font-size:3.5px;color:#18c018;"><b>5 T8 4e</b></div><div class="t" style="left:42.48px;top:173.75000000000003px;font-size:3.5px;color:#04a604;"><b>Move 16km/h</b></div><div class="a" style="left:.6px;top:180.8px;width:1.3px;height:2.8px;background:#55dd00"></div><div class="t" style="left:3px;top:180.40000000000006px;font-size:3.5px;color:#18c018;"><b>3 T8 4k</b></div><div class="t" style="left:42.48px;top:180.30000000000004px;font-size:3.5px;color:#04a604;"><b>Move 16km/h</b></div><div class="a" style="left:.6px;top:187.4px;width:1.3px;height:2.8px;background:#55dd00"></div><div class="t" style="left:3px;top:186.95000000000007px;font-size:3.5px;color:#18c018;"><b>6 0l 2m</b></div><div class="t" style="left:42.48px;top:186.85000000000005px;font-size:3.5px;color:#04a604;"><b>Move 16km/h</b></div><div class="a" style="left:.6px;top:193.9px;width:1.3px;height:2.8px;background:#55dd00"></div><div class="t" style="left:3px;top:193.50000000000009px;font-size:3.5px;color:#18c018;"><b>4 T8 4m</b></div><div class="t" style="left:42.48px;top:193.40000000000006px;font-size:3.5px;color:#04a604;"><b>Move 16km/h</b></div><div class="a" style="left:.6px;top:200.5px;width:1.3px;height:2.8px;background:#55dd00"></div><div class="t" style="left:3px;top:200.0500000000001px;font-size:3.5px;color:#18c018;"><b>X T8 4k</b></div><div class="t" style="left:42.48px;top:199.95000000000007px;font-size:3.5px;color:#04a604;"><b>Move 16km/h</b></div><div class="a" style="left:.6px;top:207.0px;width:1.3px;height:2.8px;background:#55dd00"></div><div class="t" style="left:3px;top:206.6000000000001px;font-size:3.5px;color:#18c018;"><b>1 N0 4k</b></div><div class="t" style="left:42.48px;top:206.50000000000009px;font-size:3.5px;color:#04a604;"><b>Move 16km/h</b></div><div class="a" style="left:.6px;top:213.6px;width:1.3px;height:2.8px;background:#55dd00"></div><div class="t" style="left:3px;top:213.15000000000012px;font-size:3.5px;color:#18c018;"><b>5 T8 2m</b></div><div class="t" style="left:42.48px;top:213.0500000000001px;font-size:3.5px;color:#04a604;"><b>Move 16km/h</b></div><div class="a" style="left:.6px;top:220.1px;width:1.3px;height:2.8px;background:#55dd00"></div><div class="t" style="left:3px;top:219.70000000000013px;font-size:3.5px;color:#18c018;"><b>8 T8 4k</b></div><div class="t" style="left:42.48px;top:219.6000000000001px;font-size:3.5px;color:#04a604;"><b>Move 16km/h</b></div><div class="a" style="left:70.8px;top:15.7px;width:.6px;height:211px;background:#d8d8d8"></div><div class="a" style="left:70.9px;top:15.7px;width:287px;height:6.3px;background:#fff"></div><div class="t" style="left:75.9px;top:17.7px;font-size:2.9px;color:#3a2a1a;">Refresh</div><div class="t" style="left:86.4px;top:17.7px;font-size:2.9px;color:#3a2a1a;">15s</div><div class="t" style="left:97.4px;top:17.7px;font-size:2.9px;color:#6a2a1a;">Alarm(0)</div><div class="t" style="left:109.4px;top:17.7px;font-size:2.9px;color:#5a3a1a;">Follow target</div><div class="t" style="left:130.4px;top:17.7px;font-size:2.9px;color:#7a4a10;">Tracking</div><div class="a" style="left:94.2px;top:18.2px;width:1.6px;height:1.6px;border-radius:50%;background:#e01818"></div><svg class="a" style="left:70.9px;top:22.1px" width="287" height="204.7" viewBox="638 187 299.9 213.9"><rect x="600" y="150" width="400" height="300" fill="#f4f4f2"/><path fill="#a9dba0" d="M637.4 191.8 L641.8 191.8 L647.5 200.4 L653.3 207.6 L663.4 211.9 L664 219.1 L637.4 219.1Z"/><path fill="#a9dba0" d="M663.4 194.6 L679.2 193.9 L696.5 196.1 L710.9 199 L719.5 204.7 L716.6 208.3 L705.1 206.2 L697.9 203.3 L686.4 205.4 L679.2 206.2 L670.6 201.8 L664.1 204.7Z"/><path fill="#b5e0aa" d="M742.6 187.4 L757 187.4 L757 189.8 L742.6 189.8Z"/><rect x="767" y="207.6" width="6.5" height="2.2" fill="#b5e0aa"/><path d="M636 360 L660 352 L690 366 L715 360 L735 375 L760 392 M660 352 L672 330 L700 320 L720 300 M740 240 L760 262 L790 270 L820 262 M700 320 L705 350 L690 392" fill="none" stroke="#d6d6d6" stroke-width=".6" stroke-dasharray="1.5 1"/><path fill="#8ec3f2" d="M665 300 L671 298.5 L676 301 L678 305 L673 307 L668 305.5Z"/><ellipse cx="677.8" cy="314.6" rx="1.6" ry="1" fill="#8ec3f2"/><ellipse cx="641.8" cy="331.2" rx="1.6" ry="1" fill="#8ec3f2"/><ellipse cx="652.6" cy="326.2" rx="1.4400000000000002" ry="0.9" fill="#8ec3f2"/><ellipse cx="677" cy="222.3" rx="1.92" ry="1.2" fill="#8ec3f2"/><ellipse cx="829" cy="207" rx="1.4400000000000002" ry="0.9" fill="#8ec3f2"/><ellipse cx="858" cy="210" rx="1.6" ry="1" fill="#8ec3f2"/><ellipse cx="880" cy="352" rx="2.4000000000000004" ry="1.5" fill="#8ec3f2"/><ellipse cx="884" cy="357" rx="1.92" ry="1.2" fill="#8ec3f2"/><ellipse cx="830" cy="378" rx="1.6" ry="1" fill="#8ec3f2"/><path fill="none" stroke="#f9d35a" stroke-width="0.9" d="M758.1 246.8Q758.3 246.5 760.6 245.6M758.1 246.8Q757.2 251.2 756.0 254.4M756.0 254.4Q760.1 252.8 765.0 253.9M756.0 254.4Q753.9 257.7 754.5 261.1M754.5 261.1Q759.4 260.0 765.4 260.5M756.6 269.4Q759.0 268.3 760.9 268.6M756.6 269.4Q754.4 271.6 754.0 274.0M754.0 274.0Q758.8 274.2 764.4 273.9M754.0 274.0Q754.8 279.2 754.0 283.5M754.0 283.5Q757.2 281.7 761.0 281.2M754.0 283.5Q756.6 284.8 756.9 286.8M754.0 283.5Q758.2 285.8 765.3 290.3M756.9 286.8Q760.5 288.1 765.3 290.3M756.9 286.8Q756.6 291.6 758.4 298.3M758.4 298.3Q758.9 295.0 761.1 294.8M758.4 298.3Q757.2 300.1 756.8 303.6M756.8 303.6Q759.0 302.6 761.0 300.8M756.8 303.6Q756.5 307.0 754.3 307.6M754.3 307.6Q760.5 307.5 764.5 308.4M754.3 307.6Q755.8 311.8 756.1 314.8M754.3 307.6Q759.8 311.2 763.3 316.7M756.1 314.8Q759.7 316.0 763.3 316.7M756.1 314.8Q754.7 319.5 754.5 322.7M753.7 330.8Q753.6 333.9 755.7 339.7M755.7 339.7Q754.7 342.5 756.1 345.7M755.7 339.7Q758.6 340.8 761.6 343.9M756.1 345.7Q760.0 343.4 761.6 343.9M756.0 352.8Q760.3 353.8 765.3 353.5M755.8 357.9Q758.4 360.2 762.0 360.9M755.8 357.9Q758.1 363.4 758.4 368.4M758.4 368.4Q760.4 367.9 761.6 365.5M758.4 368.4Q756.9 370.9 757.7 374.0M755.1 378.7Q759.4 381.9 761.0 382.4M755.0 384.9Q758.7 385.0 761.6 385.8M755.0 384.9Q757.6 387.8 757.3 393.5M757.7 400.4Q761.3 398.5 762.0 398.9M765.2 241.7Q765.2 241.2 768.0 240.4M765.2 241.7Q762.5 243.1 760.6 245.6M765.2 241.7Q768.0 244.0 768.7 247.5M760.6 245.6Q765.0 247.3 768.7 247.5M760.6 245.6Q762.4 250.3 765.0 253.9M765.0 253.9Q766.1 252.8 769.4 253.8M765.0 253.9Q767.9 257.4 772.2 260.9M765.4 260.5Q761.7 264.8 760.9 268.6M760.9 268.6Q765.0 268.4 770.4 269.8M760.9 268.6Q762.2 270.5 764.4 273.9M764.4 273.9Q762.1 276.3 761.0 281.2M761.0 281.2Q768.0 281.5 772.0 283.6M761.0 281.2Q763.1 285.5 765.3 290.3M761.0 281.2Q764.6 283.0 768.8 287.5M765.3 290.3Q767.5 289.2 768.8 287.5M765.3 290.3Q769.3 295.7 771.2 298.2M761.1 294.8Q767.2 297.1 771.2 298.2M764.5 308.4Q768.9 308.9 771.9 310.5M764.5 308.4Q762.4 311.7 763.3 316.7M764.5 308.4Q765.6 311.8 769.6 315.1M763.3 316.7Q767.3 316.6 769.6 315.1M763.3 316.7Q763.3 321.9 761.5 325.1M763.3 316.7Q767.0 320.3 767.7 326.3M761.5 325.1Q764.3 326.3 767.7 326.3M761.5 325.1Q763.7 328.8 768.7 332.0M761.2 331.7Q760.8 335.1 761.1 337.6M761.2 331.7Q764.6 336.1 768.8 339.6M761.1 337.6Q764.3 339.8 768.8 339.6M761.1 337.6Q760.1 340.2 761.6 343.9M761.1 337.6Q764.9 341.5 770.5 344.0M761.6 343.9Q766.6 343.0 770.5 344.0M765.3 353.5Q766.7 351.8 768.4 353.1M765.3 353.5Q763.4 356.7 762.0 360.9M762.0 360.9Q764.1 360.4 767.9 357.7M762.0 360.9Q762.6 362.0 761.6 365.5M762.0 360.9Q766.0 365.7 770.3 367.7M761.6 365.5Q763.8 368.6 764.7 373.7M764.7 373.7Q769.0 372.3 770.6 371.9M761.0 382.4Q765.5 380.9 772.0 378.5M761.0 382.4Q761.7 383.2 761.6 385.8M761.6 385.8Q765.7 386.2 767.6 385.9M761.6 385.8Q763.2 388.3 764.3 393.2M761.6 385.8Q766.2 388.7 769.7 391.8M764.3 393.2Q766.8 392.2 769.7 391.8M762.0 398.9Q765.3 398.2 768.4 400.4M768.0 240.4Q772.5 239.6 777.4 238.2M768.0 240.4Q769.7 242.9 768.7 247.5M768.7 247.5Q773.2 247.6 776.3 248.9M768.7 247.5Q770.5 250.3 769.4 253.8M768.7 247.5Q772.9 252.6 779.4 254.8M769.4 253.8Q773.6 255.3 779.4 254.8M769.4 253.8Q772.1 258.3 772.2 260.9M769.4 253.8Q773.7 259.1 777.9 261.4M772.2 260.9Q771.9 264.6 770.4 269.8M772.2 260.9Q773.6 263.4 775.2 265.7M770.4 269.8Q771.9 267.1 775.2 265.7M770.4 269.8Q768.1 271.7 768.4 273.3M770.4 269.8Q772.5 272.6 774.6 277.0M768.4 273.3Q772.6 276.0 774.6 277.0M768.4 273.3Q771.4 279.3 772.0 283.6M772.0 283.6Q773.8 282.5 778.0 284.3M772.0 283.6Q771.5 286.5 768.8 287.5M768.8 287.5Q771.0 293.2 771.2 298.2M768.8 287.5Q771.6 293.8 776.9 297.1M771.2 298.2Q771.0 302.4 768.5 305.2M768.5 305.2Q772.1 303.9 776.1 305.4M768.5 305.2Q769.6 308.2 771.9 310.5M771.9 310.5Q774.0 309.4 774.9 310.2M769.6 315.1Q772.8 315.9 778.2 319.0M769.6 315.1Q769.0 320.2 767.7 326.3M767.7 326.3Q773.5 326.3 778.2 325.0M767.7 326.3Q767.7 328.9 768.7 332.0M768.7 332.0Q773.4 333.5 778.4 333.0M768.7 332.0Q768.6 335.8 768.8 339.6M768.7 332.0Q772.0 336.1 776.3 338.9M768.8 339.6Q769.0 342.9 770.5 344.0M770.5 344.0Q775.2 345.3 779.0 346.8M770.5 344.0Q769.1 349.3 768.4 353.1M768.4 353.1Q771.2 353.0 776.6 353.4M768.4 353.1Q768.0 356.7 767.9 357.7M767.9 357.7Q773.9 357.7 778.8 359.4M767.9 357.7Q768.0 363.9 770.3 367.7M770.3 367.7Q773.5 367.5 777.6 365.4M770.3 367.7Q770.7 370.0 770.6 371.9M770.6 371.9Q772.7 372.3 777.4 373.5M770.6 371.9Q772.0 375.7 772.0 378.5M772.0 378.5Q774.8 378.2 774.9 380.7M772.0 378.5Q769.7 381.8 767.6 385.9M767.6 385.9Q774.0 387.7 779.4 388.9M767.6 385.9Q770.1 390.3 769.7 391.8M769.7 391.8Q774.4 393.3 778.1 393.5M769.7 391.8Q767.8 396.0 768.4 400.4M768.4 400.4Q772.4 402.3 778.2 401.4M777.4 238.2Q775.8 243.2 776.3 248.9M777.4 238.2Q778.4 242.2 782.0 248.2M776.3 248.9Q779.5 249.3 782.0 248.2M776.3 248.9Q779.7 252.5 781.7 254.5M779.4 254.8Q777.2 259.2 777.9 261.4M779.4 254.8Q782.8 255.8 783.9 259.7M777.9 261.4Q781.0 260.6 783.9 259.7M777.9 261.4Q780.9 264.7 785.0 268.0M775.2 265.7Q773.8 270.1 774.6 277.0M774.6 277.0Q780.4 276.3 784.6 277.1M774.6 277.0Q775.0 279.8 778.0 284.3M778.0 284.3Q780.3 283.0 782.8 279.6M778.0 284.3Q779.5 288.5 783.0 289.9M774.7 289.7Q778.6 290.1 783.0 289.9M774.7 289.7Q777.2 293.1 776.9 297.1M776.9 297.1Q777.2 301.9 776.1 305.4M776.1 305.4Q779.6 303.4 786.0 303.8M776.1 305.4Q776.9 308.3 774.9 310.2M776.1 305.4Q778.6 308.4 783.7 311.9M778.2 319.0Q780.1 318.4 783.2 317.8M778.2 319.0Q779.3 323.3 778.2 325.0M778.2 325.0Q781.6 324.0 782.5 323.7M778.2 325.0Q779.0 328.3 778.4 333.0M778.4 333.0Q781.9 332.6 785.5 333.0M778.4 333.0Q777.2 334.6 776.3 338.9M778.4 333.0Q780.8 335.3 785.9 337.4M776.3 338.9Q780.8 337.3 785.9 337.4M779.0 346.8Q781.6 344.7 784.4 344.1M779.0 346.8Q777.7 348.6 776.6 353.4M776.6 353.4Q777.9 353.0 782.2 352.0M776.6 353.4Q777.3 356.7 778.8 359.4M778.8 359.4Q782.5 360.3 785.7 360.7M778.8 359.4Q778.2 362.4 777.6 365.4M778.8 359.4Q780.6 362.6 785.0 368.2M777.6 365.4Q780.0 369.5 782.9 371.4M777.4 373.5Q779.5 373.0 782.9 371.4M777.4 373.5Q781.6 375.7 783.8 378.9M774.9 380.7Q780.3 380.7 783.8 378.9M774.9 380.7Q775.9 385.6 779.4 388.9M779.4 388.9Q781.2 389.0 782.6 386.6M779.4 388.9Q777.3 392.5 778.1 393.5M779.4 388.9Q782.3 389.9 784.6 394.0M778.1 393.5Q781.1 394.3 784.6 394.0M778.1 393.5Q779.4 396.1 778.2 401.4M778.1 393.5Q780.4 398.8 783.1 402.7M778.2 401.4Q780.5 401.8 783.1 402.7M783.7 241.7Q783.5 243.7 782.0 248.2M782.0 248.2Q785.9 246.6 788.9 244.7M781.7 254.5Q788.6 253.3 792.8 251.8M781.7 254.5Q781.9 256.8 783.9 259.7M783.9 259.7Q786.8 261.6 792.0 261.3M783.9 259.7Q783.0 263.6 785.0 268.0M785.0 268.0Q788.8 268.7 790.1 269.4M785.0 268.0Q784.4 273.4 784.6 277.1M784.6 277.1Q785.6 275.4 788.6 273.2M782.8 279.6Q783.2 284.8 783.0 289.9M783.0 289.9Q788.8 288.4 792.6 287.7M783.0 289.9Q782.7 293.6 782.5 294.4M782.5 294.4Q785.1 293.4 789.2 293.8M782.5 294.4Q784.5 298.4 786.0 303.8M786.0 303.8Q788.4 303.9 791.6 302.7M786.0 303.8Q785.2 308.0 783.7 311.9M786.0 303.8Q790.0 307.1 791.6 310.8M783.7 311.9Q786.9 312.1 791.6 310.8M783.2 317.8Q786.4 319.1 792.5 319.2M783.2 317.8Q783.0 320.2 782.5 323.7M782.5 323.7Q788.0 324.0 791.9 322.5M782.5 323.7Q785.9 325.6 790.9 329.4M785.5 333.0Q788.5 330.1 790.9 329.4M785.5 333.0Q785.9 336.4 785.9 337.4M785.5 333.0Q787.6 335.0 788.6 337.9M785.9 337.4Q787.9 337.0 788.6 337.9M785.9 337.4Q785.8 340.1 784.4 344.1M784.4 344.1Q782.6 347.4 782.2 352.0M782.2 352.0Q783.3 355.7 785.7 360.7M785.7 360.7Q789.9 358.9 792.0 359.1M785.7 360.7Q786.4 364.8 785.0 368.2M785.0 368.2Q788.4 368.2 791.6 367.3M785.0 368.2Q784.8 369.1 782.9 371.4M782.9 371.4Q786.3 373.8 790.5 374.4M783.8 378.9Q789.1 379.8 793.0 378.0M783.8 378.9Q783.4 382.3 782.6 386.6M782.6 386.6Q786.7 388.7 793.1 388.1M782.6 386.6Q782.3 391.5 784.6 394.0M784.6 394.0Q785.8 395.3 789.2 393.8M784.6 394.0Q785.0 397.0 783.1 402.7M793.4 239.8Q792.6 242.8 788.9 244.7M793.4 239.8Q797.5 244.2 799.9 248.5M788.9 244.7Q789.9 248.3 792.8 251.8M792.8 251.8Q795.6 253.4 800.2 253.8M792.8 251.8Q792.4 255.3 792.0 261.3M792.0 261.3Q796.8 260.6 798.7 259.6M790.1 269.4Q795.2 270.8 799.1 269.6M790.1 269.4Q790.7 272.6 788.6 273.2M790.1 269.4Q795.7 271.3 798.7 276.1M788.6 273.2Q793.9 275.2 798.7 276.1M788.6 273.2Q790.1 277.7 790.8 279.7M790.8 279.7Q795.1 280.4 796.6 284.0M790.8 279.7Q796.9 284.1 800.4 291.3M792.6 287.7Q791.5 290.8 789.2 293.8M789.2 293.8Q794.6 294.1 798.2 297.4M789.2 293.8Q794.6 300.4 797.1 305.0M791.6 302.7Q793.9 303.4 797.1 305.0M791.6 302.7Q795.0 306.3 799.7 309.3M791.6 310.8Q795.2 310.5 799.7 309.3M791.6 310.8Q791.3 316.1 792.5 319.2M791.9 322.5Q794.6 323.1 798.2 325.3M791.9 322.5Q790.7 326.0 790.9 329.4M790.9 329.4Q793.5 328.3 797.9 328.7M790.9 329.4Q789.2 334.3 788.6 337.9M788.6 337.9Q794.2 335.6 799.5 335.9M788.6 337.9Q789.6 339.8 792.0 343.4M792.0 343.4Q795.4 343.0 799.5 343.4M792.0 343.4Q792.4 347.0 789.9 351.2M789.9 351.2Q794.4 351.8 797.2 353.4M789.9 351.2Q790.6 354.5 792.0 359.1M792.0 359.1Q794.0 359.1 796.2 357.3M791.6 367.3Q793.5 368.4 798.1 367.1M790.5 374.4Q796.5 375.5 799.7 373.9M790.5 374.4Q793.0 375.1 793.0 378.0M793.0 378.0Q795.7 377.9 800.2 380.0M793.0 378.0Q794.2 383.7 793.1 388.1M793.0 378.0Q796.5 381.1 800.2 385.0M793.1 388.1Q793.6 390.2 796.6 394.1M789.2 393.8Q791.6 393.4 796.6 394.1M791.6 403.0Q794.4 402.8 797.0 402.1M797.4 240.3Q801.6 241.6 805.7 240.1M799.9 248.5Q800.8 252.4 800.2 253.8M800.2 253.8Q799.7 256.1 798.7 259.6M800.2 253.8Q804.9 258.3 806.7 263.0M798.7 259.6Q803.8 261.2 806.7 263.0M798.7 259.6Q802.6 263.2 803.6 269.7M799.1 269.6Q801.0 268.3 803.6 269.7M798.7 276.1Q802.1 274.2 807.3 275.1M798.7 276.1Q802.0 278.8 805.4 280.5M796.6 284.0Q800.0 280.8 805.4 280.5M796.6 284.0Q797.1 286.9 800.4 291.3M800.4 291.3Q802.7 290.5 805.2 289.0M800.4 291.3Q798.8 295.5 798.2 297.4M798.2 297.4Q802.0 295.4 805.5 293.7M798.2 297.4Q798.9 300.4 797.1 305.0M798.2 297.4Q803.8 301.4 807.3 303.1M797.1 305.0Q799.9 306.5 799.7 309.3M799.7 309.3Q801.3 310.6 804.5 311.5M799.7 309.3Q801.9 311.9 805.3 317.0M796.0 316.7Q800.2 317.0 805.3 317.0M796.0 316.7Q798.4 321.1 798.2 325.3M798.2 325.3Q797.4 327.2 797.9 328.7M797.9 328.7Q800.3 329.6 805.2 330.6M797.9 328.7Q799.2 333.7 799.5 335.9M799.5 335.9Q802.1 338.9 807.2 340.1M799.5 335.9Q802.6 339.6 803.9 344.9M799.5 343.4Q801.7 343.9 803.9 344.9M799.5 343.4Q799.7 348.4 797.2 353.4M797.2 353.4Q801.2 352.6 803.2 351.7M797.2 353.4Q795.8 354.5 796.2 357.3M797.2 353.4Q802.8 358.6 806.5 361.0M796.2 357.3Q801.9 360.0 806.5 361.0M796.2 357.3Q798.1 363.1 798.1 367.1M798.1 367.1Q800.9 365.3 804.9 365.1M798.1 367.1Q797.4 370.5 799.7 373.9M799.7 373.9Q801.9 375.0 803.5 373.6M799.7 373.9Q800.4 375.6 800.2 380.0M800.2 380.0Q801.3 381.9 800.2 385.0M800.2 385.0Q804.1 386.3 806.4 384.7M800.2 385.0Q797.3 390.2 796.6 394.1M796.6 394.1Q800.9 394.3 803.5 392.7M796.6 394.1Q797.0 399.5 797.0 402.1M797.0 402.1Q801.1 400.7 805.9 400.1M805.7 240.1Q807.1 244.6 810.1 248.1M806.7 247.3Q809.0 247.8 810.1 248.1M806.7 247.3Q804.7 249.4 804.1 253.4M804.1 253.4Q808.4 253.2 810.2 254.1M804.1 253.4Q806.6 257.6 806.7 263.0M804.1 253.4Q807.8 257.9 810.8 259.5M806.7 263.0Q808.2 260.6 810.8 259.5M806.7 263.0Q805.1 264.9 803.6 269.7M806.7 263.0Q809.5 265.2 812.1 267.7M803.6 269.7Q807.1 267.8 812.1 267.7M803.6 269.7Q804.7 271.9 807.3 275.1M807.3 275.1Q806.4 279.2 805.4 280.5M805.4 280.5Q808.5 279.6 812.1 280.3M805.4 280.5Q806.6 283.6 805.2 289.0M805.2 289.0Q808.7 289.5 810.6 289.6M805.2 289.0Q806.7 292.6 805.5 293.7M805.5 293.7Q810.6 295.0 812.7 296.1M805.5 293.7Q808.3 297.6 813.7 303.5M807.3 303.1Q809.8 304.0 813.7 303.5M807.3 303.1Q805.4 308.1 804.5 311.5M804.5 311.5Q809.0 309.9 813.7 308.7M805.3 317.0Q810.4 316.4 813.2 318.5M805.9 321.9Q809.8 321.4 814.0 323.1M805.9 321.9Q805.8 327.0 805.2 330.6M805.2 330.6Q808.7 332.2 811.1 333.1M803.2 351.7Q805.8 353.8 810.7 353.1M803.2 351.7Q804.8 356.6 806.5 361.0M806.5 361.0Q807.5 358.4 810.8 357.0M806.5 361.0Q810.1 363.0 813.6 365.6M804.9 365.1Q810.4 364.6 813.6 365.6M804.9 365.1Q804.8 369.2 803.5 373.6M803.5 373.6Q808.3 371.8 813.4 371.2M803.5 373.6Q805.0 375.3 807.1 378.2M803.5 373.6Q807.4 377.2 811.5 380.9M807.1 378.2Q809.2 379.2 811.5 380.9M807.1 378.2Q808.2 382.3 806.4 384.7M806.4 384.7Q808.7 384.5 809.6 385.5M806.4 384.7Q806.3 389.1 803.5 392.7M803.5 392.7Q808.7 393.5 812.9 396.0M803.5 392.7Q804.8 397.8 805.9 400.1M805.9 400.1Q808.7 399.4 814.3 399.1M811.3 240.6Q814.4 241.3 819.0 241.3M810.1 248.1Q813.6 249.3 819.0 247.9M810.2 254.1Q814.8 252.6 817.5 251.9M810.2 254.1Q811.1 257.6 810.8 259.5M810.2 254.1Q813.8 255.6 817.1 258.7M810.8 259.5Q814.1 259.3 817.1 258.7M810.8 259.5Q810.4 264.4 812.1 267.7M812.1 267.7Q817.1 267.2 819.3 268.1M812.1 267.7Q811.9 271.1 811.4 274.6M811.4 274.6Q816.5 274.4 819.3 273.3M811.4 274.6Q812.7 277.2 812.1 280.3M812.1 280.3Q814.7 280.5 817.5 280.5M812.1 280.3Q811.6 286.3 810.6 289.6M810.6 289.6Q814.3 289.9 820.7 291.4M810.6 289.6Q812.2 293.9 812.7 296.1M812.7 296.1Q813.3 298.4 813.7 303.5M813.7 303.5Q814.2 303.8 816.9 305.2M813.7 303.5Q815.0 305.4 813.7 308.7M813.7 308.7Q816.7 312.1 818.2 316.8M813.2 318.5Q816.3 316.3 818.2 316.8M813.2 318.5Q814.7 319.9 814.0 323.1M814.0 323.1Q816.0 324.5 819.1 323.7M811.1 333.1Q815.1 331.8 819.5 328.6M811.1 333.1Q811.2 338.2 810.6 340.4M810.6 340.4Q811.2 343.2 813.9 343.2M813.9 343.2Q815.5 345.0 817.4 344.8M813.9 343.2Q812.8 347.2 810.7 353.1M810.7 353.1Q814.6 353.5 820.2 351.5M810.7 353.1Q810.0 354.7 810.8 357.0M810.8 357.0Q812.8 357.8 817.5 357.4M810.8 357.0Q815.1 360.6 819.1 363.6M813.4 371.2Q817.5 373.9 820.9 374.5M811.5 380.9Q809.6 382.5 809.6 385.5M809.6 385.5Q814.1 385.9 819.6 386.5M809.6 385.5Q811.4 390.3 812.9 396.0M812.9 396.0Q812.9 396.1 814.3 399.1M814.3 399.1Q817.1 399.6 821.4 402.5M819.0 241.3Q821.8 241.7 824.8 242.0M819.0 241.3Q820.2 245.3 819.0 247.9M819.0 247.9Q823.7 248.1 827.2 248.4M819.0 247.9Q817.9 249.9 817.5 251.9M817.5 251.9Q822.6 253.6 827.5 253.5M817.5 251.9Q816.4 253.9 817.1 258.7M817.1 258.7Q818.5 262.8 819.3 268.1M819.3 268.1Q824.1 269.2 827.0 269.3M819.3 268.1Q820.0 270.5 819.3 273.3M819.3 273.3Q824.5 275.4 827.3 274.5M819.3 273.3Q819.4 275.6 817.5 280.5M817.5 280.5Q822.4 280.3 827.1 279.9M817.5 280.5Q820.1 286.0 820.7 291.4M817.5 280.5Q820.1 286.2 825.2 288.8M821.1 294.0Q821.2 294.8 823.6 295.3M821.1 294.0Q818.8 300.4 816.9 305.2M816.9 305.2Q820.8 304.3 826.7 303.6M816.9 305.2Q818.4 307.4 818.8 311.3M818.8 311.3Q821.3 312.0 824.7 312.2M818.8 311.3Q817.0 313.2 818.2 316.8M818.2 316.8Q822.0 322.0 826.8 324.3M819.1 323.7Q821.7 324.4 826.8 324.3M819.1 323.7Q823.3 327.8 826.2 330.5M819.5 328.6Q822.9 332.8 828.4 338.7M817.4 344.8Q821.7 344.8 827.0 346.3M817.4 344.8Q817.9 348.6 820.2 351.5M820.2 351.5Q822.9 350.8 828.4 349.7M820.2 351.5Q819.8 353.7 817.5 357.4M817.5 357.4Q819.7 359.7 819.1 363.6M819.1 363.6Q822.5 363.3 824.8 365.5M820.9 374.5Q823.4 373.6 823.8 371.5M820.9 374.5Q821.0 378.5 820.0 381.8M820.0 381.8Q822.7 378.6 825.4 378.0M820.0 381.8Q819.5 384.2 819.6 386.5M819.6 386.5Q819.2 389.8 819.5 394.0M819.5 394.0Q824.1 393.1 826.2 394.0M819.5 394.0Q820.4 399.1 821.4 402.5M824.8 242.0Q824.7 246.3 827.2 248.4M827.2 248.4Q828.4 251.3 827.5 253.5M827.2 248.4Q831.1 252.5 833.5 255.3M827.5 253.5Q826.7 257.2 827.9 262.9M827.9 262.9Q827.1 264.8 827.0 269.3M827.0 269.3Q829.4 269.8 831.3 267.9M827.3 274.5Q828.4 273.6 831.4 275.0M825.2 288.8Q829.2 288.9 835.2 288.6M825.2 288.8Q824.1 292.0 823.6 295.3M823.6 295.3Q827.4 295.4 833.1 296.5M823.6 295.3Q828.2 298.3 832.3 302.0M826.7 303.6Q830.8 301.7 832.3 302.0M826.7 303.6Q826.3 307.5 824.7 312.2M824.7 312.2Q827.8 310.6 833.8 310.3M824.7 312.2Q826.5 315.0 826.8 316.2M826.8 316.2Q828.4 316.8 831.9 318.1M826.8 316.2Q827.6 319.1 826.8 324.3M826.8 316.2Q830.1 320.0 832.0 321.6M826.8 324.3Q829.7 324.4 832.0 321.6M826.8 324.3Q826.7 328.6 826.2 330.5M826.8 324.3Q830.3 327.0 831.8 328.8M826.2 330.5Q827.9 329.3 831.8 328.8M826.2 330.5Q826.2 335.4 828.4 338.7M828.4 338.7Q829.2 338.4 831.3 339.2M828.4 338.7Q826.8 342.3 827.0 346.3M828.4 338.7Q831.9 342.1 832.5 346.9M827.0 346.3Q830.3 345.7 832.5 346.9M827.0 346.3Q826.8 348.1 828.4 349.7M826.6 360.2Q830.3 362.1 835.4 361.2M826.6 360.2Q824.4 363.5 824.8 365.5M824.8 365.5Q828.5 367.8 830.9 368.0M824.8 365.5Q824.1 368.0 823.8 371.5M823.8 371.5Q829.0 372.1 832.7 372.9M823.8 371.5Q823.5 375.6 825.4 378.0M823.8 371.5Q828.7 375.5 835.3 378.7M824.8 389.0Q825.7 392.0 826.2 394.0M824.8 389.0Q828.1 390.2 834.1 393.8M826.2 394.0Q828.2 398.2 828.3 401.3M828.3 401.3Q831.4 400.8 835.3 402.6M835.4 240.7Q836.5 238.6 840.5 238.1M834.5 244.9Q832.9 250.4 833.5 255.3M834.5 244.9Q836.1 247.2 838.5 251.8M833.5 255.3Q836.7 254.7 838.5 251.8M833.5 255.3Q832.4 260.3 830.8 263.1M830.8 263.1Q834.8 262.0 840.1 259.2M830.8 263.1Q831.0 264.0 831.3 267.9M831.3 267.9Q831.4 271.5 831.4 275.0M831.4 275.0Q833.0 278.9 833.5 279.8M831.4 275.0Q835.3 278.2 840.4 281.6M833.5 279.8Q837.9 280.4 840.4 281.6M833.5 279.8Q834.3 283.9 835.2 288.6M835.2 288.6Q839.8 287.5 841.4 289.2M835.2 288.6Q832.9 293.1 833.1 296.5M833.1 296.5Q833.0 300.0 832.3 302.0M832.3 302.0Q836.3 303.0 841.1 301.7M833.8 310.3Q835.9 310.0 838.1 311.9M833.8 310.3Q838.3 312.6 841.4 317.6M831.9 318.1Q835.8 317.7 841.4 317.6M831.9 318.1Q830.6 321.1 832.0 321.6M832.0 321.6Q830.7 323.8 831.8 328.8M831.8 328.8Q837.5 330.9 840.9 331.3M831.3 339.2Q835.8 338.4 840.4 338.7M831.3 339.2Q831.0 343.5 832.5 346.9M832.5 346.9Q838.2 345.6 841.2 343.5M832.5 346.9Q834.0 349.6 834.2 349.8M832.5 346.9Q834.2 350.7 838.8 354.4M834.2 349.8Q836.2 356.6 835.4 361.2M835.4 361.2Q838.2 360.0 842.0 360.9M835.4 361.2Q833.9 364.1 830.9 368.0M830.9 368.0Q835.0 365.8 837.7 363.8M832.7 372.9Q834.0 376.3 835.3 378.7M835.3 378.7Q837.0 379.8 840.6 378.1M835.3 378.7Q833.1 384.6 833.1 389.1M833.1 389.1Q837.5 387.3 840.2 384.9M833.1 389.1Q835.0 391.2 834.1 393.8M834.1 393.8Q835.8 394.0 838.0 394.9M834.1 393.8Q834.3 397.8 835.3 402.6M834.1 393.8Q838.1 398.3 840.2 401.6M835.3 402.6Q837.5 402.5 840.2 401.6M840.5 238.1Q839.4 243.3 840.6 246.8M840.5 238.1Q842.5 241.8 845.6 246.2M838.5 251.8Q842.1 253.0 848.2 255.7M838.5 251.8Q838.5 256.6 840.1 259.2M840.1 259.2Q841.6 258.5 844.9 259.1M840.1 259.2Q839.3 264.7 839.7 268.8M839.7 268.8Q845.0 268.2 848.5 268.6M839.8 273.8Q840.4 276.3 840.4 281.6M840.4 281.6Q843.0 279.8 846.6 280.8M840.4 281.6Q840.4 286.8 841.4 289.2M841.4 289.2Q846.0 289.0 848.5 288.4M841.4 289.2Q843.3 293.9 847.8 298.4M841.1 301.7Q839.9 308.0 838.1 311.9M841.1 301.7Q845.5 307.3 848.2 312.1M838.1 311.9Q844.0 312.5 848.2 312.1M841.4 317.6Q844.1 317.6 846.6 316.4M841.4 317.6Q840.6 321.1 839.3 322.9M841.4 317.6Q842.0 320.7 845.0 325.8M839.3 322.9Q841.6 325.7 844.9 329.0M840.9 331.3Q843.1 329.5 844.9 329.0M840.9 331.3Q840.2 336.0 840.4 338.7M840.9 331.3Q842.6 334.8 847.3 337.9M840.4 338.7Q839.6 340.4 841.2 343.5M840.4 338.7Q844.5 341.8 847.9 344.0M841.2 343.5Q844.6 342.9 847.9 344.0M841.2 343.5Q839.3 349.4 838.8 354.4M842.0 360.9Q842.3 361.8 845.6 359.8M842.0 360.9Q839.5 361.3 837.7 363.8M842.0 360.9Q844.9 362.0 845.0 365.0M837.7 363.8Q842.3 365.8 845.0 365.0M838.9 372.6Q843.6 375.4 845.9 378.3M840.6 378.1Q839.6 381.9 840.2 384.9M840.2 384.9Q843.1 386.4 846.3 388.1M840.2 384.9Q838.7 389.7 838.0 394.9M838.0 394.9Q841.6 393.7 846.3 392.1M840.2 401.6Q843.7 400.1 848.0 401.3M846.4 239.9Q847.3 244.1 845.6 246.2M845.6 246.2Q850.4 245.9 856.0 246.7M848.2 255.7Q851.5 253.4 855.5 253.0M844.9 259.1Q848.2 260.5 853.1 260.5M844.9 259.1Q845.5 262.9 848.5 268.6M848.5 268.6Q853.0 268.7 856.1 269.9M848.5 268.6Q848.0 271.0 848.3 273.6M848.5 268.6Q849.9 272.4 852.8 274.3M848.3 273.6Q850.8 275.3 852.8 274.3M848.3 273.6Q846.5 278.7 846.6 280.8M846.6 280.8Q848.8 280.5 853.3 281.3M846.6 280.8Q848.6 285.1 848.5 288.4M848.5 288.4Q852.1 288.4 853.5 288.4M847.8 298.4Q849.9 298.7 852.5 296.3M847.8 298.4Q847.9 299.5 846.1 303.2M846.1 303.2Q850.3 302.4 855.5 303.2M848.2 312.1Q852.1 310.9 855.6 310.3M848.2 312.1Q846.8 312.8 846.6 316.4M846.6 316.4Q849.5 316.9 852.4 318.3M845.0 325.8Q849.8 323.2 855.9 322.9M844.9 329.0Q845.7 333.3 847.3 337.9M847.3 337.9Q852.0 341.8 856.3 345.7M847.9 344.0Q852.9 344.9 856.3 345.7M847.9 344.0Q849.1 348.2 848.3 349.9M848.3 349.9Q851.8 350.0 855.5 349.9M848.3 349.9Q847.0 355.8 845.6 359.8M848.3 349.9Q849.9 355.9 854.2 360.4M845.6 359.8Q850.2 361.3 854.2 360.4M845.0 365.0Q849.8 363.5 852.0 364.0M845.0 365.0Q845.5 370.3 848.1 374.0M848.1 374.0Q851.1 375.6 855.2 375.0M845.9 378.3Q850.1 380.3 852.0 380.7M846.3 388.1Q850.0 386.8 852.3 388.2M846.3 388.1Q846.4 388.7 846.3 392.1M846.3 392.1Q849.4 393.6 854.7 392.8M846.3 392.1Q846.1 396.6 848.0 401.3M848.0 401.3Q849.2 401.3 852.6 402.3M856.1 242.2Q858.5 241.5 861.1 241.3M856.1 242.2Q857.4 245.7 856.0 246.7M856.1 242.2Q859.3 243.4 860.5 246.2M856.0 246.7Q856.2 250.2 855.5 253.0M855.5 253.0Q858.8 252.5 863.3 254.8M853.1 260.5Q858.1 259.5 861.0 261.2M856.1 269.9Q860.3 268.8 862.1 269.0M856.1 269.9Q861.0 272.9 863.0 274.6M852.8 274.3Q858.6 275.2 863.0 274.6M852.8 274.3Q852.4 277.9 853.3 281.3M853.3 281.3Q858.4 281.0 862.6 282.8M853.3 281.3Q852.5 284.1 853.5 288.4M853.3 281.3Q859.4 287.2 862.7 290.5M853.5 288.4Q859.2 290.4 862.7 290.5M853.5 288.4Q851.7 293.1 852.5 296.3M853.5 288.4Q859.1 291.8 862.6 297.9M852.5 296.3Q853.9 300.9 855.5 303.2M852.5 296.3Q857.7 300.5 863.2 303.7M855.5 303.2Q859.9 303.0 863.2 303.7M855.5 303.2Q854.3 308.0 855.6 310.3M855.6 310.3Q858.3 309.8 861.1 311.0M855.6 310.3Q854.6 314.4 852.4 318.3M852.4 318.3Q853.4 319.8 855.9 322.9M855.9 322.9Q858.8 323.8 860.6 322.3M855.9 322.9Q852.3 328.1 851.7 331.1M851.7 331.1Q857.3 331.8 862.2 333.4M851.7 331.1Q851.7 335.2 854.2 338.3M854.2 338.3Q858.5 337.9 860.4 336.4M854.2 338.3Q856.2 343.4 856.3 345.7M854.2 338.3Q858.4 341.4 859.6 344.6M856.3 345.7Q856.3 348.9 855.5 349.9M855.5 349.9Q856.3 353.1 860.0 354.3M855.5 349.9Q856.3 355.4 854.2 360.4M855.5 349.9Q858.0 355.4 858.8 358.1M854.2 360.4Q857.7 358.9 858.8 358.1M852.0 364.0Q857.0 365.0 859.1 366.7M855.2 375.0Q853.2 376.7 852.0 380.7M852.0 380.7Q856.3 379.7 858.9 379.8M852.0 380.7Q851.2 384.5 852.3 388.2M852.3 388.2Q854.7 389.9 854.7 392.8M854.7 392.8Q856.0 392.5 858.7 392.1M852.6 402.3Q857.0 401.8 859.5 399.6M861.1 241.3Q864.2 242.3 866.7 241.1M861.1 241.3Q859.5 242.6 860.5 246.2M861.1 241.3Q865.8 244.9 868.5 245.6M860.5 246.2Q863.4 246.1 868.5 245.6M860.5 246.2Q862.2 249.4 863.3 254.8M860.5 246.2Q863.5 248.9 866.5 252.9M863.3 254.8Q864.5 252.6 866.5 252.9M863.3 254.8Q861.4 257.2 861.0 261.2M861.0 261.2Q863.1 262.2 866.4 262.3M861.0 261.2Q863.0 266.3 862.1 269.0M861.0 261.2Q863.3 265.7 867.1 268.2M862.1 269.0Q861.3 270.6 863.0 274.6M863.0 274.6Q861.7 279.3 862.6 282.8M862.6 282.8Q861.3 287.8 862.7 290.5M862.6 282.8Q866.3 285.4 870.0 288.2M862.7 290.5Q861.3 294.3 862.6 297.9M862.7 290.5Q866.0 293.2 868.2 298.2M862.6 297.9Q866.0 297.6 868.2 298.2M862.6 297.9Q863.2 300.5 863.2 303.7M863.2 303.7Q863.3 306.9 861.1 311.0M863.2 303.7Q864.1 307.0 865.8 312.2M861.1 311.0Q862.6 315.3 862.5 316.6M860.6 322.3Q864.7 324.5 868.1 324.1M860.6 322.3Q860.6 327.0 862.2 333.4M862.2 333.4Q861.0 334.5 860.4 336.4M862.2 333.4Q864.9 336.0 868.8 336.7M860.4 336.4Q863.4 335.1 868.8 336.7M860.4 336.4Q861.1 339.2 859.6 344.6M859.6 344.6Q860.8 350.1 860.0 354.3M860.0 354.3Q860.7 357.5 858.8 358.1M858.8 358.1Q860.2 361.1 859.1 366.7M859.1 366.7Q860.3 367.8 862.4 371.4M862.4 371.4Q861.0 376.1 858.9 379.8M858.9 379.8Q863.0 379.8 869.8 380.1M858.9 379.8Q859.4 385.4 861.4 389.0M861.4 389.0Q865.9 387.7 868.7 389.4M861.4 389.0Q860.2 391.2 858.7 392.1M861.4 389.0Q864.7 390.8 866.9 394.2M858.7 392.1Q858.4 396.0 859.5 399.6M859.5 399.6Q862.6 399.6 866.3 402.3M866.7 241.1Q868.6 244.5 868.5 245.6M868.5 245.6Q871.6 247.8 876.7 248.6M868.5 245.6Q866.6 247.8 866.5 252.9M866.5 252.9Q866.7 257.5 866.4 262.3M866.4 262.3Q870.1 259.5 876.1 259.0M866.4 262.3Q867.2 266.2 867.1 268.2M866.4 262.3Q869.6 264.5 874.9 267.8M866.8 283.9Q867.0 287.2 870.0 288.2M870.0 288.2Q873.2 289.6 876.4 288.6M870.0 288.2Q870.1 294.2 868.2 298.2M868.2 298.2Q871.3 296.9 877.0 294.0M868.2 298.2Q869.5 299.3 867.9 301.6M867.9 301.6Q873.7 302.4 876.6 301.6M867.9 301.6Q868.1 306.2 865.8 312.2M865.8 312.2Q869.0 314.3 869.5 316.4M869.5 316.4Q870.1 317.4 873.3 318.6M868.1 324.1Q871.8 324.6 874.1 323.1M868.1 324.1Q867.3 327.4 866.9 333.4M868.1 324.1Q870.7 326.8 872.9 330.0M866.9 333.4Q866.5 333.9 868.8 336.7M868.8 336.7Q870.7 338.9 874.8 339.1M868.8 336.7Q868.3 341.0 865.6 344.9M865.6 344.9Q866.7 349.6 867.4 353.5M869.0 359.5Q873.3 360.7 874.8 361.3M866.3 364.3Q871.2 366.8 876.6 366.8M867.1 371.8Q872.7 374.2 876.0 378.7M869.8 380.1Q868.5 385.1 868.7 389.4M869.8 380.1Q873.3 382.8 875.3 386.8M868.7 389.4Q871.4 388.9 875.3 386.8M868.7 389.4Q871.2 394.1 872.6 396.4M866.9 394.2Q871.1 395.5 872.6 396.4M866.3 402.3Q870.2 399.6 876.5 399.6M872.6 241.6Q876.8 239.1 882.6 239.0M872.6 241.6Q873.6 245.8 876.7 248.6M876.7 248.6Q880.3 248.9 881.4 247.2M876.7 248.6Q876.3 251.0 873.0 252.9M876.7 248.6Q879.2 251.1 881.0 253.2M873.0 252.9Q876.6 253.2 881.0 253.2M876.1 259.0Q879.4 259.6 881.5 261.8M874.9 267.8Q878.9 267.3 880.8 266.5M876.4 288.6Q877.0 291.5 877.0 294.0M877.0 294.0Q877.0 297.9 876.6 301.6M876.6 301.6Q877.1 307.2 875.2 310.1M875.2 310.1Q879.1 310.4 882.9 311.0M875.2 310.1Q876.6 312.5 880.4 316.5M874.1 323.1Q872.5 327.0 872.9 330.0M872.9 330.0Q876.4 330.2 880.0 329.7M872.9 330.0Q873.8 335.1 874.8 339.1M874.8 339.1Q877.8 339.0 880.3 336.2M874.8 339.1Q874.7 343.3 874.3 345.9M874.3 345.9Q877.7 345.1 881.5 342.9M874.3 345.9Q872.7 350.1 873.1 351.5M874.3 345.9Q879.2 350.3 884.1 351.6M873.1 351.5Q878.2 350.3 884.1 351.6M874.8 361.3Q878.8 361.4 882.1 359.7M874.8 361.3Q876.4 364.3 876.6 366.8M876.6 366.8Q880.5 367.3 883.3 367.6M872.6 372.4Q876.8 373.7 881.4 372.2M872.6 372.4Q873.3 375.6 876.0 378.7M876.0 378.7Q874.7 383.4 875.3 386.8M875.3 386.8Q879.9 386.2 881.5 388.0M875.3 386.8Q872.5 393.0 872.6 396.4M875.3 386.8Q879.7 391.5 884.4 395.4M872.6 396.4Q877.5 395.5 884.4 395.4M872.6 396.4Q875.6 396.8 876.5 399.6M876.5 399.6Q879.8 401.4 882.8 401.5M882.6 239.0Q884.1 240.4 886.6 239.2M882.6 239.0Q881.3 243.2 881.4 247.2M882.6 239.0Q884.0 243.8 888.2 247.7M881.4 247.2Q884.2 246.4 888.2 247.7M881.0 253.2Q884.3 252.6 887.1 253.4M881.0 253.2Q881.2 258.4 881.5 261.8M881.5 261.8Q880.4 265.6 880.8 266.5M880.2 301.0Q885.3 301.3 891.4 303.1M880.2 301.0Q881.4 306.6 882.9 311.0M882.9 311.0Q885.8 312.4 890.1 311.6M882.9 311.0Q881.4 314.0 880.4 316.5M880.4 316.5Q884.2 319.2 887.5 319.2M880.4 316.5Q880.8 322.0 883.7 324.5M883.7 324.5Q881.1 325.6 880.0 329.7M880.0 329.7Q884.5 328.3 887.0 329.7M881.5 342.9Q884.8 346.4 888.2 347.1M881.5 342.9Q883.9 347.5 884.1 351.6M881.5 342.9Q885.5 346.6 888.3 351.8M884.1 351.6Q886.1 350.6 888.3 351.8M884.1 351.6Q883.0 354.8 882.1 359.7M882.1 359.7Q883.9 360.8 887.2 361.3M883.3 367.6Q882.9 369.1 881.4 372.2M881.4 372.2Q886.1 374.2 889.2 373.3M881.4 372.2Q883.0 374.8 881.6 377.6M884.4 395.4Q886.5 394.2 890.6 394.5M884.4 395.4Q883.4 397.4 882.8 401.5M882.8 401.5Q885.3 401.9 887.2 402.6M886.6 239.2Q891.4 241.6 895.0 241.9M886.6 239.2Q886.7 244.3 888.2 247.7M888.2 247.7Q886.7 250.8 887.1 253.4M887.1 253.4Q892.1 253.9 897.6 252.5M891.4 303.1Q894.3 302.7 897.5 300.6M891.4 303.1Q890.4 306.2 890.1 311.6M890.1 311.6Q892.9 310.2 894.5 309.8M890.1 311.6Q888.4 315.1 887.5 319.2M890.1 311.6Q890.7 314.0 894.3 316.4M887.5 319.2Q889.8 318.5 894.3 316.4M889.6 322.5Q887.5 326.4 887.0 329.7M888.2 347.1Q888.8 349.2 888.3 351.8M888.3 351.8Q887.9 355.4 887.2 361.3M887.2 361.3Q888.5 364.6 887.2 368.0M887.2 361.3Q890.5 363.8 895.9 365.6M889.2 373.3Q890.6 375.7 889.3 378.8M889.3 378.8Q893.8 378.7 897.3 381.2M889.3 378.8Q888.9 383.3 891.0 389.4M889.3 378.8Q893.4 383.3 895.9 389.4M891.0 389.4Q894.4 389.7 895.9 389.4M891.0 389.4Q889.8 390.7 890.6 394.5M890.6 394.5Q894.4 395.0 897.7 395.7M890.6 394.5Q889.0 399.0 887.2 402.6M887.2 402.6Q891.4 402.8 895.6 400.7M895.0 241.9Q900.1 242.8 903.3 242.0M895.0 241.9Q895.0 243.9 894.7 247.4M894.7 247.4Q898.2 247.6 903.1 247.1M894.7 247.4Q896.5 249.7 897.6 252.5M897.5 300.6Q896.6 306.4 894.5 309.8M894.5 309.8Q893.8 313.0 894.3 316.4M898.3 359.5Q900.3 360.6 901.6 360.2M898.3 359.5Q898.0 363.2 895.9 365.6M898.3 359.5Q900.6 363.6 903.3 368.0M895.9 365.6Q899.0 367.8 903.3 368.0M895.9 365.6Q896.4 369.8 896.6 373.9M897.3 381.2Q898.1 381.9 901.2 380.2M897.3 381.2Q897.5 384.7 895.9 389.4M895.9 389.4Q899.3 386.4 905.2 384.6M895.9 389.4Q897.3 393.6 897.7 395.7M895.9 389.4Q897.9 391.2 901.7 393.0M897.7 395.7Q896.6 399.2 895.6 400.7M895.6 400.7Q897.8 399.0 902.1 398.9M903.3 242.0Q903.5 245.2 903.1 247.1M901.2 295.7Q907.9 295.8 911.9 294.5M901.2 295.7Q903.2 298.2 903.0 302.5M903.0 302.5Q907.6 303.8 911.7 302.3M901.6 360.2Q901.1 365.4 903.3 368.0M903.3 368.0Q901.3 372.0 901.0 374.4M901.0 374.4Q905.5 372.0 909.7 370.9M901.0 374.4Q901.0 376.9 901.2 380.2M905.2 384.6Q904.2 388.5 901.7 393.0M905.2 384.6Q907.1 389.1 908.4 392.7M901.7 393.0Q906.3 392.4 908.4 392.7M901.7 393.0Q901.2 397.3 902.1 398.9M911.9 241.5Q913.1 240.8 916.4 240.8M911.9 294.5Q914.2 294.3 917.5 294.9M909.7 370.9Q908.0 375.9 908.6 379.1M908.6 379.1Q913.3 381.0 918.4 380.1M908.6 379.1Q910.5 383.3 911.0 385.5M908.6 379.1Q914.1 383.6 917.0 388.7M911.0 385.5Q912.7 386.7 917.0 388.7M911.0 385.5Q910.1 387.6 908.4 392.7M911.0 385.5Q913.2 389.6 917.9 394.1M908.4 392.7Q914.2 393.8 917.9 394.1M916.4 240.8Q920.6 240.9 925.4 238.4M915.9 268.7Q918.6 267.7 922.7 267.9M915.9 268.7Q918.8 271.3 922.6 275.4M917.5 294.9Q921.4 297.7 924.4 297.8M917.0 388.7Q919.7 387.8 922.4 385.8M917.0 388.7Q916.2 390.0 917.9 394.1M917.9 394.1Q919.2 393.9 922.3 394.9M919.2 399.4Q923.2 399.9 925.6 402.4M922.7 267.9Q926.8 266.0 933.4 266.3M922.7 267.9Q922.1 272.5 922.6 275.4M922.6 275.4Q926.3 274.4 930.8 276.2M924.5 290.1Q924.1 294.9 924.4 297.8M924.4 297.8Q927.5 295.4 930.5 295.0M922.3 394.9Q925.3 400.2 925.6 402.4M925.6 402.4Q928.3 402.3 930.4 402.4M933.4 266.3Q935.1 267.5 937.1 267.7M930.5 295.0Q934.6 294.5 938.9 295.3M936.6 239.3Q940.4 238.8 944.1 239.6M940.4 275.9Q943.3 276.1 943.9 276.0M938.9 295.3Q941.6 295.8 944.0 295.2M943.3 266.6Q943.9 271.0 943.9 276.0M946.8 287.7Q944.9 291.9 944.0 295.2"/><path fill="none" stroke="#f8d66a" stroke-width="0.8" d="M788.2 189.9Q793.6 192.0 799.7 191.5M788.2 189.9Q788.9 194.1 789.5 199.2M789.5 199.2Q793.3 201.8 798.3 207.3M787.2 206.4Q792.4 207.7 798.3 207.3M787.2 206.4Q790.7 209.4 791.4 214.9M791.4 214.9Q794.6 215.7 800.6 214.0M800.7 202.0Q806.7 200.6 810.3 199.0M798.3 207.3Q804.6 206.7 809.2 205.3M798.3 207.3Q798.5 209.6 800.6 214.0M800.6 214.0Q804.2 218.2 809.0 219.7M808.4 191.5Q808.5 195.5 810.3 199.0M810.3 199.0Q812.2 197.0 815.0 197.1M810.3 199.0Q809.4 202.5 809.2 205.3M810.3 199.0Q813.3 203.3 818.9 208.1M809.2 205.3Q815.3 207.1 818.9 208.1M809.0 219.7Q807.6 221.7 808.7 225.9M808.7 225.9Q813.0 226.7 819.1 227.0M817.1 189.4Q814.7 194.3 815.0 197.1M818.9 208.1Q815.6 212.6 814.1 217.7M814.1 217.7Q820.7 215.4 824.5 215.0M819.1 227.0Q820.4 224.2 823.9 223.1M824.0 192.8Q829.2 190.5 835.9 191.0M824.0 192.8Q825.1 196.9 824.0 199.1M824.0 192.8Q827.8 196.8 833.4 201.8M824.0 199.1Q829.1 200.8 833.4 201.8M824.0 199.1Q824.1 201.7 825.7 205.9M825.7 205.9Q823.9 211.6 824.5 215.0M825.7 205.9Q830.7 213.3 837.7 217.9M824.5 215.0Q829.6 216.1 837.7 217.9M824.5 215.0Q823.6 217.8 823.9 223.1M835.9 191.0Q840.7 189.1 845.5 188.8M835.9 191.0Q835.8 196.4 833.4 201.8M835.9 191.0Q838.2 196.5 841.3 200.5M833.4 201.8Q836.9 201.9 841.3 200.5M833.4 201.8Q833.0 204.5 834.5 207.7M834.5 207.7Q839.3 208.2 845.6 208.6M834.5 207.7Q836.4 214.1 837.7 217.9M837.7 217.9Q840.4 218.8 841.6 218.5M837.7 217.9Q836.5 223.2 834.8 227.6M834.8 227.6Q839.7 227.1 842.0 227.9M845.5 188.8Q842.8 195.3 841.3 200.5M845.6 208.6Q850.6 207.0 854.5 205.6M841.6 218.5Q844.6 217.8 850.1 216.5M841.6 218.5Q842.1 223.2 842.0 227.9M842.0 227.9Q849.7 227.2 855.2 226.8M853.8 190.9Q857.5 190.0 860.3 187.4M853.8 190.9Q850.8 193.6 850.3 198.1M850.3 198.1Q858.5 198.8 864.1 201.2M850.3 198.1Q853.6 202.5 854.5 205.6M854.5 205.6Q860.1 204.6 863.3 206.2M854.5 205.6Q851.7 211.3 850.1 216.5M850.1 216.5Q855.9 222.1 859.9 224.9M860.3 187.4Q867.8 188.6 873.9 187.1M860.3 187.4Q861.6 193.1 864.1 201.2M864.1 201.2Q863.2 202.6 863.3 206.2M863.3 206.2Q868.9 205.2 872.7 206.5M863.3 206.2Q864.9 209.6 863.6 213.9M863.6 213.9Q864.5 217.7 868.3 219.2M863.6 213.9Q862.5 218.9 859.9 224.9M859.9 224.9Q865.6 225.5 874.0 228.6M873.9 187.1Q878.5 186.2 880.4 187.4M868.9 200.5Q875.4 200.7 881.5 199.9M872.7 206.5Q878.0 206.9 882.1 209.6M868.3 219.2Q873.7 218.6 880.0 220.0M874.0 228.6Q877.3 228.4 879.8 225.7M880.4 187.4Q880.6 194.7 881.5 199.9M881.5 199.9Q886.8 202.2 889.6 201.8M882.1 209.6Q880.2 215.4 880.0 220.0M880.0 220.0Q878.8 222.1 879.8 225.7M889.9 191.8Q895.0 191.2 898.8 192.9M889.9 191.8Q888.6 196.9 889.6 201.8M889.6 201.8Q888.7 206.6 887.6 210.5M889.6 201.8Q894.1 203.4 899.6 205.9M887.6 210.5Q889.1 212.4 891.4 216.0M891.4 216.0Q896.2 216.1 899.1 216.6M891.4 216.0Q888.6 221.6 886.0 226.6M886.0 226.6Q891.8 224.4 896.2 224.6M898.8 192.9Q901.7 191.6 906.1 191.5M898.4 200.4Q901.5 198.4 907.3 197.9M899.6 205.9Q902.5 209.0 904.2 209.8M899.1 216.6Q898.6 221.6 896.2 224.6M899.1 216.6Q902.5 218.5 908.8 223.2M906.1 191.5Q908.9 190.2 914.6 189.8M906.1 191.5Q909.6 195.7 914.7 201.0M907.3 197.9Q904.6 203.7 904.2 209.8M904.2 209.8Q907.0 215.2 908.6 219.1M908.6 219.1Q913.5 217.1 915.7 214.2M908.8 223.2Q910.9 226.0 913.0 226.7M914.6 189.8Q921.1 189.2 925.7 190.3M914.6 189.8Q915.0 194.0 914.7 201.0M914.7 201.0Q919.4 200.9 922.3 199.4M914.7 201.0Q913.0 204.3 914.1 204.9M914.1 204.9Q919.8 205.8 925.1 206.8M914.1 204.9Q916.2 210.6 915.7 214.2M915.7 214.2Q918.5 214.0 923.3 214.8M913.0 226.7Q917.5 227.3 924.9 225.2M925.7 190.3Q930.0 189.4 934.5 191.1M925.1 206.8Q927.7 207.8 932.5 209.5M925.1 206.8Q924.9 210.5 923.3 214.8M925.1 206.8Q927.9 212.9 932.1 217.6M923.3 214.8Q924.2 219.0 924.9 225.2M923.3 214.8Q930.5 220.2 935.5 227.9M924.9 225.2Q931.6 226.1 935.5 227.9M934.5 191.1Q939.5 192.0 943.2 192.6M934.5 191.1Q933.0 196.3 932.6 199.7M932.6 199.7Q938.0 200.5 946.1 200.8M932.6 199.7Q931.7 203.2 932.5 209.5M932.6 199.7Q938.2 203.7 942.1 206.5M932.5 209.5Q933.2 212.4 932.1 217.6M932.1 217.6Q937.9 217.5 943.8 214.7M932.1 217.6Q935.0 221.8 935.5 227.9M943.2 192.6Q945.4 198.2 946.1 200.8M946.1 200.8Q945.1 205.1 942.1 206.5M942.1 206.5Q943.7 209.4 943.8 214.7M943.8 214.7Q942.3 217.9 941.0 223.4"/><path fill="none" stroke="#f8d66a" stroke-width="0.8" d="M706.7 267.2Q708.6 266.9 712.5 268.8M706.7 267.2Q704.9 269.9 702.3 274.7M702.3 274.7Q704.6 279.2 704.2 285.9M704.2 285.9Q710.3 286.7 713.9 287.7M707.0 297.4Q709.6 296.6 713.3 293.4M703.5 303.7Q703.6 309.7 701.0 316.8M704.7 325.0Q703.0 328.4 704.0 333.9M704.0 333.9Q706.0 331.4 710.9 331.7M706.7 341.0Q711.6 343.0 714.3 346.5M706.7 341.0Q704.0 349.0 702.2 355.5M702.8 361.9Q703.7 366.2 703.5 371.1M703.5 371.1Q708.3 370.5 712.0 371.7M705.7 379.3Q710.8 383.3 716.7 384.9M705.7 379.3Q705.6 385.7 704.4 392.9M704.4 392.9Q710.8 392.6 714.4 392.4M704.4 392.9Q704.2 398.1 703.0 402.5M703.0 402.5Q707.5 400.9 712.5 398.3M712.5 268.8Q716.3 267.1 721.9 266.2M712.5 268.8Q718.2 273.5 723.9 278.5M710.9 276.3Q718.2 278.5 723.9 278.5M710.9 276.3Q711.3 281.6 713.9 287.7M713.3 293.4Q716.6 293.0 719.7 294.5M713.8 308.4Q716.8 306.8 720.3 305.1M712.0 313.6Q717.5 314.4 725.8 315.3M714.3 323.2Q714.0 328.2 710.9 331.7M710.9 331.7Q715.3 334.8 722.0 336.5M714.3 346.5Q717.3 347.1 721.6 345.5M714.3 346.5Q716.2 348.9 715.3 354.1M715.3 354.1Q716.1 360.0 716.0 365.3M712.0 371.7Q718.4 373.0 726.2 371.7M716.7 384.9Q720.3 386.2 721.5 385.3M716.7 384.9Q715.9 388.7 714.4 392.4M712.5 398.3Q719.1 400.9 722.9 401.8M721.9 266.2Q727.1 266.1 731.8 266.5M721.9 266.2Q723.9 271.4 723.9 278.5M723.9 278.5Q727.1 277.8 731.1 275.7M723.9 289.7Q729.2 288.3 733.8 284.3M723.9 289.7Q721.7 291.8 719.7 294.5M719.7 294.5Q723.6 295.6 730.0 296.5M725.8 315.3Q726.5 319.5 725.0 322.9M725.0 322.9Q727.4 323.8 730.5 325.1M725.0 322.9Q722.6 330.4 722.0 336.5M722.0 336.5Q724.4 336.8 729.3 334.6M721.6 345.5Q725.0 342.5 729.4 341.4M721.6 345.5Q722.8 350.1 723.7 354.5M723.7 354.5Q727.7 354.2 730.0 352.5M723.7 354.5Q722.7 358.2 719.9 362.1M726.2 371.7Q727.2 372.2 729.7 370.0M721.5 385.3Q721.5 388.3 723.6 392.8M722.9 401.8Q726.5 402.9 730.5 403.5M731.8 266.5Q730.3 271.7 731.1 275.7M731.1 275.7Q736.5 279.5 743.0 280.6M733.8 284.3Q736.9 289.8 740.8 298.1M730.5 325.1Q737.4 326.4 743.9 326.3M729.3 334.6Q734.2 334.2 741.5 335.0M729.4 341.4Q729.1 347.1 730.0 352.5M732.3 361.1Q739.1 363.8 744.5 364.4M732.3 361.1Q729.9 365.4 729.7 370.0M729.7 370.0Q732.6 378.7 735.5 385.2M735.5 385.2Q736.4 387.1 735.3 389.1M735.3 389.1Q739.0 392.1 743.3 394.0M735.3 389.1Q731.7 397.5 730.5 403.5M730.5 403.5Q733.8 404.5 738.7 403.9M743.0 280.6Q745.3 278.6 748.3 276.3M744.8 289.3Q746.8 286.3 750.2 285.1M740.8 298.1Q743.6 304.8 744.9 308.7M744.9 308.7Q743.5 313.4 745.1 317.2M745.1 317.2Q747.3 315.3 748.9 314.1M745.1 317.2Q744.0 320.3 743.9 326.3M743.9 326.3Q743.4 330.2 741.5 335.0M744.9 344.5Q750.3 343.8 754.0 344.2M744.9 344.5Q742.2 349.4 738.8 353.2M738.8 353.2Q743.0 357.3 744.5 364.4M741.9 375.4Q746.8 375.7 753.9 374.7M741.9 375.4Q741.5 376.3 743.7 380.2M743.7 380.2Q746.6 379.5 749.2 378.9M743.3 394.0Q748.4 394.5 752.9 393.6M738.7 403.9Q744.1 403.0 749.4 403.3M748.3 276.3Q749.6 279.4 750.2 285.1M750.2 285.1Q751.2 292.1 752.5 298.5M752.5 308.7Q750.7 312.4 748.9 314.1M750.8 326.9Q752.1 332.5 753.1 337.8M754.0 344.2Q753.7 350.0 753.1 355.6"/><path fill="none" stroke="#f6e2a0" stroke-width="0.6" d="M631.6 260.6Q640.2 260.6 651.1 259.6M631.7 296.3Q643.9 293.6 654.6 289.4M634.1 304.6Q635.1 313.1 636.5 319.8M640.4 347.2Q634.5 360.6 631.3 371.0M631.3 371.0Q643.2 368.7 655.9 367.8M631.3 371.0Q634.2 373.8 638.0 379.5M638.0 379.5Q645.3 383.7 651.3 384.9M651.4 278.6Q657.3 275.0 664.7 271.8M651.4 278.6Q652.9 284.9 654.6 289.4M654.6 289.4Q653.6 298.2 651.7 307.7M651.7 307.7Q654.0 315.4 654.9 321.8M654.9 321.8Q660.4 320.3 668.7 317.9M654.9 321.8Q654.6 332.3 654.8 341.5M654.8 341.5Q652.4 345.1 650.0 351.0M650.0 351.0Q655.0 353.4 661.9 356.0M650.0 351.0Q651.5 360.5 655.9 367.8M655.9 367.8Q653.8 375.7 651.3 384.9M651.3 384.9Q653.2 391.7 652.1 397.2M652.1 397.2Q661.1 393.6 667.6 392.1M667.7 259.5Q664.7 265.7 664.7 271.8M664.7 271.8Q675.1 273.8 684.8 277.4M668.3 295.4Q672.0 293.4 675.9 290.9M668.5 312.0Q671.5 310.7 675.9 311.3M668.7 317.9Q676.6 320.6 685.1 324.3M664.1 341.4Q671.3 342.6 675.8 341.6M664.1 341.4Q661.9 350.0 661.9 356.0M661.9 356.0Q669.8 353.4 678.5 353.6M661.9 356.0Q664.8 360.8 669.1 363.3M669.1 363.3Q676.3 364.1 683.8 367.6M662.9 384.4Q670.8 383.2 677.0 379.3M675.9 311.3Q688.2 308.2 699.0 305.6M675.9 311.3Q679.7 316.8 685.1 324.3M685.1 324.3Q692.9 324.9 699.5 325.4M685.1 324.3Q679.9 334.3 675.8 341.6M675.8 341.6Q684.3 340.8 692.6 337.5M678.5 353.6Q680.6 360.6 683.8 367.6M683.8 367.6Q681.4 372.5 677.0 379.3M683.4 393.0Q693.5 398.2 700.7 402.0M694.7 266.5Q693.6 269.4 695.0 273.4M697.2 377.4Q699.1 388.9 700.7 402.0"/><path fill="none" stroke="#f5cb45" stroke-width="1.2" d="M637.4 229.2 L650.4 229.2 L664.8 230.6 L682.1 228.5 L696.5 229.2 L708 235 L716.6 240.7 L722.4 247.9 L729.6 252.2 L739.7 252.2 L748.3 247.9 L759.8 245 L768.5 247.9 L780 249.4 L800 248 L830 247 L860 246 L880 248 M636 257.6 L652.2 260.8 L668.4 270.5 L681.4 277 L694.3 285.1 L699.2 288.3 L704.1 278.6 L708.9 272.1 M636 298 L657.1 299.7 L668.4 306.2 L684.6 307.8 L692.7 302.9 L700.8 301.3 L707.3 304.6 L717 301.3 L726.8 298.1 L733.2 294.8 L743 291.6 L760 291.6 L790 296 L830 298 L870 302 M636 343.5 L645.7 333.7 L657.1 325.6 L668.4 317.5 L679.8 309.4 M637.6 304.6 L645.7 317.5 L657.1 327.2 L668.4 333.7 L678.1 343.5 L684.6 353.2 M689.5 293.2 L694.3 299.7 L705.7 309.4 L712.2 315.9 L720.3 320.8 L733.2 327.2 L749.5 335.3 L760 340.2 L800 345 L840 352 L890 350 M700.8 230 L712.2 239.7 L723.5 246.2 L733.2 252.7 L749.5 254.3 L760 246.2 M749.5 243 L746.2 254.3 L739.7 267.3 L736.5 283.5 L733.2 302.9 L726.8 314.3 L707.3 314.3 M707.3 314.3 L713.8 327.2 L723.5 343.5 L733.2 359.7 L739.7 375.9 L749.5 392 M730 337 L749.5 330.5 L760 327.2 M733.2 302.9 L749.5 306.2 L760 306.2 M804.8 200.4 L817.8 236.4 L819.2 255 L816.3 269.5 L812 300 L805 340 L800 392 M850.9 199 L848 222 L836.5 237.8 L830 260 M860 200 L880 210 L890 230 L880 250 L860 262 M740 262 L780 260.9 L810 262 L840 266 L860 270 M700 392 L740 370 L780 360 L820 350 L860 355 L900 350 M770 200 L790 215 L800 240"/><path fill="none" stroke="#f7e3a0" stroke-width=".6" d="M636 377.3 L664.8 373 L679.2 371.5 L693.6 373 L708 377.3 M640 270 L655 285 L665 300 M700 250 L705 270 M680 240 L690 260 L700 280 M650 240 L660 255"/><path fill="none" stroke="#8c8c8c" stroke-width=".8" d="M637 220 L664.8 219.1 L676.3 218.4 L687.8 220.6 L696.5 225.6 L708 229.2 L719.5 232.1 L725.3 235 L736.8 229.2 L751.2 222 L765.6 221.3 L780 219.8 L790.4 214.8 L803.4 201.8 L801.9 194.6 L799 186"/><defs><linearGradient id="sg" gradientUnits="userSpaceOnUse" x1="872" y1="0" x2="925" y2="0"><stop offset="0" stop-color="#7fcdf8"/><stop offset=".6" stop-color="#b2dffa"/><stop offset="1" stop-color="#cdeefc"/></linearGradient></defs><path fill="url(#sg)" d="M869.1 278.4 L871.9 271.4 L878.2 272.8 L886.6 266.5 L890.1 260.2 L899.2 254.6 L905.5 248.3 L910.4 245.5 L916 246.9 L945 247 L945 264.4 L914.6 264.4 L909 267.2 L908.3 274.2 L910.4 277 L918.1 279.8 L945 280 L945 288.2 L918.1 288.2 L909 291 L902 293.1 L895 298 L890.1 299.4 L884.5 296.6 L883.8 291 L881 286.8 L874 284 L869.8 281.2Z"/><path fill="url(#sg)" d="M945 300 L918.6 301.4 L910.1 304.8 L899.9 311.6 L891.4 321.8 L888 332 L891.4 340.5 L898.2 352.4 L908.4 366 L915.2 374.6 L922 381 L930 392 L935 405 L945 405Z"/><path fill="#161616" fill-opacity=".78" d="M884.7 365.2h5.1v1.7h-5.1z M885.6 367.4h3.2v1.4h-3.2zM709.2 368.9h5.5v1.7h-5.5z M710.5 371.1h2.8v1.4h-2.8zM858.4 313.8h8.2v1.7h-8.2z M860.4 316.0h4.1v1.4h-4.1zM848.5 315.5h7.9v1.7h-7.9z M850.4 317.7h4.1v1.4h-4.1zM904.5 389.9h7.8v1.7h-7.8z M906.3 392.1h4.2v1.4h-4.2zM765.0 270.5h7.0v1.7h-7.0z M766.3 272.7h4.3v1.4h-4.3zM801.4 327.8h7.5v1.7h-7.5z M803.3 330.0h3.8v1.4h-3.8zM816.5 348.7h7.3v1.7h-7.3z M818.4 350.9h3.6v1.4h-3.6zM823.9 313.4h5.9v1.7h-5.9z M824.9 315.6h3.8v1.4h-3.8zM711.6 343.7h5.5v1.7h-5.5z M712.8 345.9h3.1v1.4h-3.1zM842.9 205.8h5.4v1.7h-5.4z M844.0 208.0h3.2v1.4h-3.2zM803.9 244.5h5.6v1.7h-5.6z M805.2 246.7h3.0v1.4h-3.0zM819.8 190.0h8.4v1.7h-8.4z M821.6 192.2h4.7v1.4h-4.7zM764.6 237.6h6.8v1.7h-6.8z M766.4 239.8h3.1v1.4h-3.1zM786.9 226.3h5.9v1.7h-5.9z M788.4 228.5h2.8v1.4h-2.8zM745.6 376.1h7.2v1.7h-7.2z M747.5 378.3h3.5v1.4h-3.5zM751.2 280.7h5.6v1.7h-5.6z M752.6 282.9h2.7v1.4h-2.7zM856.2 351.5h7.6v1.7h-7.6z M857.7 353.7h4.7v1.4h-4.7zM856.9 222.1h6.0v1.7h-6.0z M858.3 224.3h3.2v1.4h-3.2zM775.0 281.5h6.0v1.7h-6.0z M776.2 283.7h3.5v1.4h-3.5zM885.8 376.0h7.0v1.7h-7.0z M887.6 378.2h3.4v1.4h-3.4zM752.3 375.9h5.5v1.7h-5.5z M753.4 378.1h3.4v1.4h-3.4zM741.5 361.6h6.0v1.7h-6.0z M742.6 363.8h3.7v1.4h-3.7zM794.2 399.3h5.6v1.7h-5.6z M795.6 401.5h2.7v1.4h-2.7zM762.7 350.7h5.2v1.7h-5.2z M763.6 352.9h3.5v1.4h-3.5zM793.2 281.2h6.9v1.7h-6.9z M795.0 283.4h3.1v1.4h-3.1zM877.7 263.7h6.2v1.7h-6.2z M878.9 265.9h3.8v1.4h-3.8zM786.7 196.4h5.8v1.7h-5.8z M787.6 198.6h3.8v1.4h-3.8zM863.3 309.4h5.0v1.7h-5.0z M864.3 311.6h2.9v1.4h-2.9zM863.3 281.1h7.0v1.7h-7.0z M865.1 283.3h3.5v1.4h-3.5zM834.7 369.8h8.5v1.7h-8.5z M836.4 372.0h5.0v1.4h-5.0zM788.1 326.6h5.5v1.7h-5.5z M789.1 328.8h3.5v1.4h-3.5zM817.5 379.0h5.1v1.7h-5.1z M818.4 381.2h3.2v1.4h-3.2zM698.3 352.7h7.9v1.7h-7.9z M699.8 354.9h4.8v1.4h-4.8zM814.9 249.1h5.1v1.7h-5.1z M816.3 251.3h2.4v1.4h-2.4zM820.8 386.2h7.9v1.7h-7.9z M822.2 388.4h5.2v1.4h-5.2zM927.4 399.6h5.9v1.7h-5.9z M928.4 401.8h4.1v1.4h-4.1zM817.2 291.2h7.8v1.7h-7.8z M819.2 293.4h3.7v1.4h-3.7zM764.7 329.2h8.1v1.7h-8.1z M766.9 331.4h3.7v1.4h-3.7zM758.1 334.8h6.1v1.7h-6.1z M759.6 337.0h3.1v1.4h-3.1zM769.2 375.7h5.7v1.7h-5.7z M770.4 377.9h3.3v1.4h-3.3zM776.4 344.0h5.2v1.7h-5.2z M777.2 346.2h3.6v1.4h-3.6zM797.0 245.7h5.7v1.7h-5.7z M798.1 247.9h3.6v1.4h-3.6zM789.4 316.4h6.2v1.7h-6.2z M790.4 318.6h4.2v1.4h-4.2zM779.7 315.0h7.0v1.7h-7.0z M781.2 317.2h4.0v1.4h-4.0zM802.1 319.1h7.7v1.7h-7.7z M803.7 321.3h4.5v1.4h-4.5zM837.0 398.8h6.6v1.7h-6.6z M838.6 401.0h3.2v1.4h-3.2zM837.3 340.7h7.8v1.7h-7.8z M838.9 342.9h4.7v1.4h-4.7zM793.8 302.2h6.6v1.7h-6.6z M794.8 304.4h4.6v1.4h-4.6zM808.0 237.8h6.6v1.7h-6.6z M809.2 240.0h4.2v1.4h-4.2zM895.5 356.7h5.6v1.7h-5.6z M896.7 358.9h3.0v1.4h-3.0zM859.0 295.1h7.2v1.7h-7.2z M860.8 297.3h3.7v1.4h-3.7zM907.7 238.7h8.5v1.7h-8.5z M909.0 240.9h5.9v1.4h-5.9zM772.7 246.1h7.3v1.7h-7.3z M774.0 248.3h4.6v1.4h-4.6zM796.5 333.1h5.9v1.7h-5.9z M797.6 335.3h3.8v1.4h-3.8zM799.2 348.9h8.0v1.7h-8.0z M800.9 351.1h4.5v1.4h-4.5zM699.5 399.7h7.0v1.7h-7.0z M700.8 401.9h4.3v1.4h-4.3zM925.9 236.8h5.9v1.7h-5.9z M927.5 239.0h2.7v1.4h-2.7zM912.9 211.4h5.6v1.7h-5.6z M914.1 213.6h3.3v1.4h-3.3zM758.0 362.7h7.2v1.7h-7.2z M759.2 364.9h4.8v1.4h-4.8zM877.4 184.6h5.9v1.7h-5.9z M879.0 186.8h2.9v1.4h-2.9zM837.0 382.1h6.5v1.7h-6.5z M838.6 384.3h3.2v1.4h-3.2zM941.1 236.8h5.9v1.7h-5.9z M942.4 239.0h3.4v1.4h-3.4zM710.7 389.6h7.4v1.7h-7.4z M712.7 391.8h3.5v1.4h-3.5zM823.4 391.2h5.6v1.7h-5.6z M824.7 393.4h3.2v1.4h-3.2zM930.0 263.5h6.8v1.7h-6.8z M931.7 265.7h3.4v1.4h-3.4zM920.7 295.0h7.3v1.7h-7.3z M922.2 297.2h4.3v1.4h-4.3zM719.7 275.7h8.4v1.7h-8.4z M721.0 277.9h5.8v1.4h-5.8zM810.1 300.7h7.2v1.7h-7.2z M812.0 302.9h3.4v1.4h-3.4zM709.1 266.0h6.8v1.7h-6.8z M710.8 268.2h3.5v1.4h-3.5zM869.6 238.8h6.0v1.7h-6.0z M871.2 241.0h2.8v1.4h-2.8zM718.2 263.4h7.4v1.7h-7.4z M719.6 265.6h4.6v1.4h-4.6zM728.1 272.9h6.0v1.7h-6.0z M729.6 275.1h3.0v1.4h-3.0zM837.1 197.7h8.5v1.7h-8.5z M838.8 199.9h5.0v1.4h-5.0zM748.8 305.9h7.4v1.7h-7.4z M750.6 308.1h3.8v1.4h-3.8zM650.5 286.6h8.3v1.7h-8.3z M652.0 288.8h5.2v1.4h-5.2zM693.8 374.6h6.8v1.7h-6.8z M695.6 376.8h3.2v1.4h-3.2zM647.8 256.8h6.5v1.7h-6.5z M649.6 259.0h3.0v1.4h-3.0zM692.6 345.2h5.7v1.7h-5.7z M693.6 347.4h3.7v1.4h-3.7zM665.6 292.6h5.4v1.7h-5.4z M667.0 294.8h2.7v1.4h-2.7zM635.3 332.1h6.2v1.7h-6.2z M636.2 334.3h4.3v1.4h-4.3zM666.3 360.5h5.6v1.7h-5.6z M667.6 362.7h3.1v1.4h-3.1zM681.6 321.5h6.9v1.7h-6.9z M683.5 323.7h3.2v1.4h-3.2zM743.2 255.8h7.4v1.7h-7.4z M744.4 257.9h5v1.4h-5zM831.9 261.5h6.2v1.7h-6.2z M832.5 263.6h5v1.4h-5zM851.1 254.4h6.8v1.7h-6.8z M852.0 256.5h5v1.4h-5zM866.2 255.8h6.8v1.7h-6.8z M867.1 257.9h5v1.4h-5zM856.8 265.9h8.5v1.7h-8.5z M858.5 268.0h5v1.4h-5zM830.1 280.3h7.1v1.7h-7.1z M831.1 282.4h5v1.4h-5zM635.5 290.9h6.7v1.7h-6.7z M636.4 293.0h5v1.4h-5zM706.0 308.1h6.8v1.7h-6.8z M706.9 310.2h5v1.4h-5zM763.6 333.3h6.8v1.7h-6.8z M764.5 335.4h5v1.4h-5zM746.6 369.3h6.4v1.7h-6.4z M747.3 371.4h5v1.4h-5zM716.6 375.5h6.8v1.7h-6.8z M717.5 377.6h5v1.4h-5zM635.0 346.3h7.7v1.7h-7.7z M636.4 348.4h5v1.4h-5zM796.4 307.4h6.9v1.7h-6.9z M797.3 309.5h5v1.4h-5zM821.7 326.1h6.6v1.7h-6.6z M822.5 328.2h5v1.4h-5zM775.9 330.5h6.1v1.7h-6.1z M776.4 332.6h5v1.4h-5zM786.4 355.7h8.0v1.7h-8.0z M787.9 357.8h5v1.4h-5zM859.7 300.2h6.7v1.7h-6.7z M860.6 302.3h5v1.4h-5zM855.5 338.4h6.7v1.7h-6.7z M856.3 340.5h5v1.4h-5zM833.1 366.5h8.1v1.7h-8.1z M834.7 368.6h5v1.4h-5zM856.8 356.4h8.4v1.7h-8.4z M858.5 358.5h5v1.4h-5zM891.8 367.9h7.4v1.7h-7.4z M893.0 370.0h5v1.4h-5zM902.5 290.9h6.2v1.7h-6.2z M903.1 293.0h5v1.4h-5zM903.0 300.2h8.1v1.7h-8.1z M904.5 302.3h5v1.4h-5zM826.7 380.9h7.9v1.7h-7.9z M828.2 383.0h5v1.4h-5zM830.6 282.9h6.0v1.7h-6.0z M831.1 285.0h5v1.4h-5zM782.6 289.5h6.7v1.7h-6.7z M783.5 291.6h5v1.4h-5zM738.0 295.5h8.1v1.7h-8.1z M739.5 297.6h5v1.4h-5zM645.9 257.5h9v1.7h-9z M647.4 259.6h6v1.4h-6zM668.5 275.0h9v1.7h-9z M670.0 277.1h6v1.4h-6zM686.5 275.0h9v1.7h-9z M688.0 277.1h6v1.4h-6zM694.5 284.5h9v1.7h-9z M696.0 286.6h6v1.4h-6zM735.2 269.5h9v1.7h-9z M736.7 271.6h6v1.4h-6zM723.5 274.5h9v1.7h-9z M725.0 276.6h6v1.4h-6zM747.5 241.5h9v1.7h-9z M749.0 243.6h6v1.4h-6zM710.5 192.5h9v1.7h-9z M712.0 194.6h6v1.4h-6zM735.5 200.9h9v1.7h-9z M737.0 203.0h6v1.4h-6zM732.5 209.5h9v1.7h-9z M734.0 211.6h6v1.4h-6zM817.5 213.3h9v1.7h-9z M819.0 215.4h6v1.4h-6zM846.4 194.0h9v1.7h-9z M847.9 196.1h6v1.4h-6zM660.5 304.0h9v1.7h-9z M662.0 306.1h6v1.4h-6zM681.5 299.5h9v1.7h-9z M683.0 301.6h6v1.4h-6zM666.5 326.5h9v1.7h-9z M668.0 328.6h6v1.4h-6zM701.5 323.5h9v1.7h-9z M703.0 325.6h6v1.4h-6zM715.5 315.0h9v1.7h-9z M717.0 317.1h6v1.4h-6zM694.5 372.5h9v1.7h-9z M696.0 374.6h6v1.4h-6zM715.5 370.5h9v1.7h-9z M717.0 372.6h6v1.4h-6zM640.5 280.5h9v1.7h-9z M642.0 282.6h6v1.4h-6zM653.5 288.5h9v1.7h-9z M655.0 290.6h6v1.4h-6zM685.5 343.5h9v1.7h-9z M687.0 345.6h6v1.4h-6zM707.5 348.5h9v1.7h-9z M709.0 350.6h6v1.4h-6zM695.5 364.5h9v1.7h-9z M697.0 366.6h6v1.4h-6zM681.5 201.5h9v1.7h-9z M683.0 203.6h6v1.4h-6zM714.5 200.5h9v1.7h-9z M716.0 202.6h6v1.4h-6zM734.5 200.5h9v1.7h-9z M736.0 202.6h6v1.4h-6zM741.5 208.5h9v1.7h-9z M743.0 210.6h6v1.4h-6zM666.5 188.0h9v1.7h-9z M668.0 190.1h6v1.4h-6zM756.5 187.5h9v1.7h-9z M758.0 189.6h6v1.4h-6zM755.5 226.5h9v1.7h-9z M757.0 228.6h6v1.4h-6zM780.5 230.5h9v1.7h-9z M782.0 232.6h6v1.4h-6zM795.5 224.5h9v1.7h-9z M797.0 226.6h6v1.4h-6zM825.5 234.5h9v1.7h-9z M827.0 236.6h6v1.4h-6z"/><text x="701.5" y="337.5" font-family="Liberation Sans" font-weight="bold" font-size="7" fill="#111">China</text><g transform="translate(746.9 262.3) rotate(40)"><rect x="-3.4" y="-1.8" width="6.8" height="3.6" rx="1.8" fill="#0a0f30"/><rect x="-2.6" y="-1.1" width="3.4" height="2.2" rx="1" fill="#1238b8"/></g><g transform="translate(884 223.4) rotate(90)"><rect x="-3.4" y="-1.8" width="6.8" height="3.6" rx="1.8" fill="#0a0f30"/><rect x="-2.6" y="-1.1" width="3.4" height="2.2" rx="1" fill="#1238b8"/></g><g transform="translate(835 268) rotate(90)"><rect x="-3.4" y="-1.8" width="6.8" height="3.6" rx="1.8" fill="#0a0f30"/><rect x="-2.6" y="-1.1" width="3.4" height="2.2" rx="1" fill="#1238b8"/></g><g transform="translate(850.9 259.4) rotate(90)"><rect x="-3.4" y="-1.8" width="6.8" height="3.6" rx="1.8" fill="#0a0f30"/><rect x="-2.6" y="-1.1" width="3.4" height="2.2" rx="1" fill="#2a90ff"/></g><g transform="translate(854.5 260.9) rotate(30)"><rect x="-3.4" y="-1.8" width="6.8" height="3.6" rx="1.8" fill="#0a0f30"/><rect x="-2.6" y="-1.1" width="3.4" height="2.2" rx="1" fill="#22b02a"/></g><g transform="translate(850.2 264.5) rotate(90)"><rect x="-3.4" y="-1.8" width="6.8" height="3.6" rx="1.8" fill="#0a0f30"/><rect x="-2.6" y="-1.1" width="3.4" height="2.2" rx="1" fill="#22b02a"/></g><g transform="translate(869.6 262.3) rotate(90)"><rect x="-3.4" y="-1.8" width="6.8" height="3.6" rx="1.8" fill="#0a0f30"/><rect x="-2.6" y="-1.1" width="3.4" height="2.2" rx="1" fill="#1238b8"/></g><g transform="translate(856.6 272.4) rotate(0)"><rect x="-3.4" y="-1.8" width="6.8" height="3.6" rx="1.8" fill="#0a0f30"/><rect x="-2.6" y="-1.1" width="3.4" height="2.2" rx="1" fill="#22b02a"/></g><g transform="translate(861 272.4) rotate(0)"><rect x="-3.4" y="-1.8" width="6.8" height="3.6" rx="1.8" fill="#0a0f30"/><rect x="-2.6" y="-1.1" width="3.4" height="2.2" rx="1" fill="#1238b8"/></g><g transform="translate(864.6 271) rotate(60)"><rect x="-3.4" y="-1.8" width="6.8" height="3.6" rx="1.8" fill="#0a0f30"/><rect x="-2.6" y="-1.1" width="3.4" height="2.2" rx="1" fill="#22b02a"/></g><g transform="translate(833.6 286.8) rotate(90)"><rect x="-3.4" y="-1.8" width="6.8" height="3.6" rx="1.8" fill="#0a0f30"/><rect x="-2.6" y="-1.1" width="3.4" height="2.2" rx="1" fill="#1238b8"/></g><g transform="translate(915.7 272.4) rotate(20)"><rect x="-3.4" y="-1.8" width="6.8" height="3.6" rx="1.8" fill="#0a0f30"/><rect x="-2.6" y="-1.1" width="3.4" height="2.2" rx="1" fill="#1238b8"/></g><g transform="translate(638.9 297.4) rotate(40)"><rect x="-3.4" y="-1.8" width="6.8" height="3.6" rx="1.8" fill="#0a0f30"/><rect x="-2.6" y="-1.1" width="3.4" height="2.2" rx="1" fill="#1238b8"/></g><g transform="translate(726.7 293) rotate(90)"><rect x="-3.4" y="-1.8" width="6.8" height="3.6" rx="1.8" fill="#0a0f30"/><rect x="-2.6" y="-1.1" width="3.4" height="2.2" rx="1" fill="#1238b8"/></g><g transform="translate(709.4 314.6) rotate(0)"><rect x="-3.4" y="-1.8" width="6.8" height="3.6" rx="1.8" fill="#0a0f30"/><rect x="-2.6" y="-1.1" width="3.4" height="2.2" rx="1" fill="#1238b8"/></g><g transform="translate(711.6 313.9) rotate(30)"><rect x="-3.4" y="-1.8" width="6.8" height="3.6" rx="1.8" fill="#0a0f30"/><rect x="-2.6" y="-1.1" width="3.4" height="2.2" rx="1" fill="#1238b8"/></g><g transform="translate(767 339.8) rotate(90)"><rect x="-3.4" y="-1.8" width="6.8" height="3.6" rx="1.8" fill="#0a0f30"/><rect x="-2.6" y="-1.1" width="3.4" height="2.2" rx="1" fill="#1238b8"/></g><g transform="translate(749.8 355.7) rotate(90)"><rect x="-3.4" y="-1.8" width="6.8" height="3.6" rx="1.8" fill="#0a0f30"/><rect x="-2.6" y="-1.1" width="3.4" height="2.2" rx="1" fill="#1238b8"/></g><g transform="translate(749.8 375.8) rotate(80)"><rect x="-3.4" y="-1.8" width="6.8" height="3.6" rx="1.8" fill="#0a0f30"/><rect x="-2.6" y="-1.1" width="3.4" height="2.2" rx="1" fill="#1238b8"/></g><g transform="translate(716.6 384.5) rotate(0)"><rect x="-3.4" y="-1.8" width="6.8" height="3.6" rx="1.8" fill="#0a0f30"/><rect x="-2.6" y="-1.1" width="3.4" height="2.2" rx="1" fill="#1238b8"/></g><g transform="translate(720 382) rotate(30)"><rect x="-3.4" y="-1.8" width="6.8" height="3.6" rx="1.8" fill="#0a0f30"/><rect x="-2.6" y="-1.1" width="3.4" height="2.2" rx="1" fill="#2a90ff"/></g><g transform="translate(713 388) rotate(0)"><rect x="-3.4" y="-1.8" width="6.8" height="3.6" rx="1.8" fill="#0a0f30"/><rect x="-2.6" y="-1.1" width="3.4" height="2.2" rx="1" fill="#22b02a"/></g><g transform="translate(638.9 352.8) rotate(90)"><rect x="-3.4" y="-1.8" width="6.8" height="3.6" rx="1.8" fill="#0a0f30"/><rect x="-2.6" y="-1.1" width="3.4" height="2.2" rx="1" fill="#1238b8"/></g><g transform="translate(793.3 302.4) rotate(40)"><rect x="-3.4" y="-1.8" width="6.8" height="3.6" rx="1.8" fill="#0a0f30"/><rect x="-2.6" y="-1.1" width="3.4" height="2.2" rx="1" fill="#22b02a"/></g><g transform="translate(799.8 313.9) rotate(90)"><rect x="-3.4" y="-1.8" width="6.8" height="3.6" rx="1.8" fill="#0a0f30"/><rect x="-2.6" y="-1.1" width="3.4" height="2.2" rx="1" fill="#1238b8"/></g><g transform="translate(807.7 337) rotate(90)"><rect x="-3.4" y="-1.8" width="6.8" height="3.6" rx="1.8" fill="#0a0f30"/><rect x="-2.6" y="-1.1" width="3.4" height="2.2" rx="1" fill="#1238b8"/></g><g transform="translate(825 332.6) rotate(60)"><rect x="-3.4" y="-1.8" width="6.8" height="3.6" rx="1.8" fill="#0a0f30"/><rect x="-2.6" y="-1.1" width="3.4" height="2.2" rx="1" fill="#1238b8"/></g><g transform="translate(793.3 329.8) rotate(50)"><rect x="-3.4" y="-1.8" width="6.8" height="3.6" rx="1.8" fill="#0a0f30"/><rect x="-2.6" y="-1.1" width="3.4" height="2.2" rx="1" fill="#1238b8"/></g><g transform="translate(778.9 337) rotate(10)"><rect x="-3.4" y="-1.8" width="6.8" height="3.6" rx="1.8" fill="#0a0f30"/><rect x="-2.6" y="-1.1" width="3.4" height="2.2" rx="1" fill="#1238b8"/></g><g transform="translate(816.3 354.2) rotate(90)"><rect x="-3.4" y="-1.8" width="6.8" height="3.6" rx="1.8" fill="#0a0f30"/><rect x="-2.6" y="-1.1" width="3.4" height="2.2" rx="1" fill="#1238b8"/></g><g transform="translate(790.4 362.2) rotate(20)"><rect x="-3.4" y="-1.8" width="6.8" height="3.6" rx="1.8" fill="#0a0f30"/><rect x="-2.6" y="-1.1" width="3.4" height="2.2" rx="1" fill="#22b02a"/></g><g transform="translate(856.6 310.3) rotate(0)"><rect x="-3.4" y="-1.8" width="6.8" height="3.6" rx="1.8" fill="#0a0f30"/><rect x="-2.6" y="-1.1" width="3.4" height="2.2" rx="1" fill="#22b02a"/></g><g transform="translate(863.1 306.7) rotate(70)"><rect x="-3.4" y="-1.8" width="6.8" height="3.6" rx="1.8" fill="#0a0f30"/><rect x="-2.6" y="-1.1" width="3.4" height="2.2" rx="1" fill="#1238b8"/></g><g transform="translate(865.3 337) rotate(40)"><rect x="-3.4" y="-1.8" width="6.8" height="3.6" rx="1.8" fill="#0a0f30"/><rect x="-2.6" y="-1.1" width="3.4" height="2.2" rx="1" fill="#1238b8"/></g><g transform="translate(858.8 344.9) rotate(90)"><rect x="-3.4" y="-1.8" width="6.8" height="3.6" rx="1.8" fill="#0a0f30"/><rect x="-2.6" y="-1.1" width="3.4" height="2.2" rx="1" fill="#1238b8"/></g><g transform="translate(846.6 369.4) rotate(90)"><rect x="-3.4" y="-1.8" width="6.8" height="3.6" rx="1.8" fill="#0a0f30"/><rect x="-2.6" y="-1.1" width="3.4" height="2.2" rx="1" fill="#2a90ff"/></g><g transform="translate(837.2 373) rotate(90)"><rect x="-3.4" y="-1.8" width="6.8" height="3.6" rx="1.8" fill="#0a0f30"/><rect x="-2.6" y="-1.1" width="3.4" height="2.2" rx="1" fill="#2a90ff"/></g><g transform="translate(862.4 373) rotate(90)"><rect x="-3.4" y="-1.8" width="6.8" height="3.6" rx="1.8" fill="#0a0f30"/><rect x="-2.6" y="-1.1" width="3.4" height="2.2" rx="1" fill="#1238b8"/></g><g transform="translate(861 362.9) rotate(90)"><rect x="-3.4" y="-1.8" width="6.8" height="3.6" rx="1.8" fill="#0a0f30"/><rect x="-2.6" y="-1.1" width="3.4" height="2.2" rx="1" fill="#1238b8"/></g><g transform="translate(881.1 368.6) rotate(40)"><rect x="-3.4" y="-1.8" width="6.8" height="3.6" rx="1.8" fill="#0a0f30"/><rect x="-2.6" y="-1.1" width="3.4" height="2.2" rx="1" fill="#1238b8"/></g><g transform="translate(895.5 374.4) rotate(90)"><rect x="-3.4" y="-1.8" width="6.8" height="3.6" rx="1.8" fill="#0a0f30"/><rect x="-2.6" y="-1.1" width="3.4" height="2.2" rx="1" fill="#1238b8"/></g><g transform="translate(893.4 345.6) rotate(90)"><rect x="-3.4" y="-1.8" width="6.8" height="3.6" rx="1.8" fill="#0a0f30"/><rect x="-2.6" y="-1.1" width="3.4" height="2.2" rx="1" fill="#1238b8"/></g><g transform="translate(905.6 297.4) rotate(0)"><rect x="-3.4" y="-1.8" width="6.8" height="3.6" rx="1.8" fill="#0a0f30"/><rect x="-2.6" y="-1.1" width="3.4" height="2.2" rx="1" fill="#1238b8"/></g><g transform="translate(912.8 296.6) rotate(0)"><rect x="-3.4" y="-1.8" width="6.8" height="3.6" rx="1.8" fill="#0a0f30"/><rect x="-2.6" y="-1.1" width="3.4" height="2.2" rx="1" fill="#1238b8"/></g><g transform="translate(907 306.7) rotate(90)"><rect x="-3.4" y="-1.8" width="6.8" height="3.6" rx="1.8" fill="#0a0f30"/><rect x="-2.6" y="-1.1" width="3.4" height="2.2" rx="1" fill="#22b02a"/></g><g transform="translate(807.7 383) rotate(40)"><rect x="-3.4" y="-1.8" width="6.8" height="3.6" rx="1.8" fill="#0a0f30"/><rect x="-2.6" y="-1.1" width="3.4" height="2.2" rx="1" fill="#1238b8"/></g><g transform="translate(830.7 387.4) rotate(0)"><rect x="-3.4" y="-1.8" width="6.8" height="3.6" rx="1.8" fill="#0a0f30"/><rect x="-2.6" y="-1.1" width="3.4" height="2.2" rx="1" fill="#2a90ff"/></g><g transform="translate(902.7 387.4) rotate(30)"><rect x="-3.4" y="-1.8" width="6.8" height="3.6" rx="1.8" fill="#0a0f30"/><rect x="-2.6" y="-1.1" width="3.4" height="2.2" rx="1" fill="#22b02a"/></g><g transform="translate(833.6 289.4) rotate(90)"><rect x="-3.4" y="-1.8" width="6.8" height="3.6" rx="1.8" fill="#0a0f30"/><rect x="-2.6" y="-1.1" width="3.4" height="2.2" rx="1" fill="#1238b8"/></g><g transform="translate(770 247) rotate(60)"><rect x="-3.4" y="-1.8" width="6.8" height="3.6" rx="1.8" fill="#0a0f30"/><rect x="-2.6" y="-1.1" width="3.4" height="2.2" rx="1" fill="#1238b8"/></g><g transform="translate(786 296) rotate(90)"><rect x="-3.4" y="-1.8" width="6.8" height="3.6" rx="1.8" fill="#0a0f30"/><rect x="-2.6" y="-1.1" width="3.4" height="2.2" rx="1" fill="#1238b8"/></g><g transform="translate(720 360) rotate(90)"><rect x="-3.4" y="-1.8" width="6.8" height="3.6" rx="1.8" fill="#0a0f30"/><rect x="-2.6" y="-1.1" width="3.4" height="2.2" rx="1" fill="#1238b8"/></g><g transform="translate(742 302) rotate(90)"><rect x="-3.4" y="-1.8" width="6.8" height="3.6" rx="1.8" fill="#0a0f30"/><rect x="-2.6" y="-1.1" width="3.4" height="2.2" rx="1" fill="#1238b8"/></g><rect x="757" y="271.6" width="74" height="24.5" fill="#fff" stroke="#d8d8d8" stroke-width=".4"/><text x="829" y="275" font-size="3" fill="#666" font-family="Liberation Sans">&#215;</text><path fill="#333" fill-opacity=".75" d="M759 274.2h14v1.2h-14zM759 277.5h34v1.2h-34zM759 280.8h30v1.2h-30zM759 284.09999999999997h12v1.2h-12zM759 287.4h20v1.2h-20z"/><circle cx="802" cy="284.6" r=".9" fill="#2a86f6"/><path fill="#1a6ee8" fill-opacity=".85" d="M759 291.2h11v1.5h-11zM773 291.2h9v1.5h-9zM785 291.2h10v1.5h-10zM798 291.2h9v1.5h-9zM810 291.2h8v1.5h-8z"/><rect x="642.6" y="193.2" width="6.4" height="58" rx="3.2" fill="#fff" fill-opacity=".55" stroke="#9ab2ea" stroke-width=".5"/><circle cx="645.8" cy="196.6" r="2.6" fill="#fff" stroke="#9ab2ea" stroke-width=".4"/><line x1="644.8" y1="196.6" x2="646.8" y2="196.6" stroke="#555" stroke-width=".4"/><line x1="645.8" y1="200" x2="645.8" y2="236" stroke="#c8d2e8" stroke-width=".8"/><rect x="644.9" y="236.4" width="1.8" height="8" fill="#3a6ee8"/><path d="M643.8 237.8 L645.8 234.6 L647.8 237.8Z" fill="#555"/><circle cx="645.8" cy="248.2" r="2.6" fill="#fff" stroke="#9ab2ea" stroke-width=".4"/></svg></div><div class="base" style="left:509px;top:815px"><div class="notch"></div></div></body></html>
